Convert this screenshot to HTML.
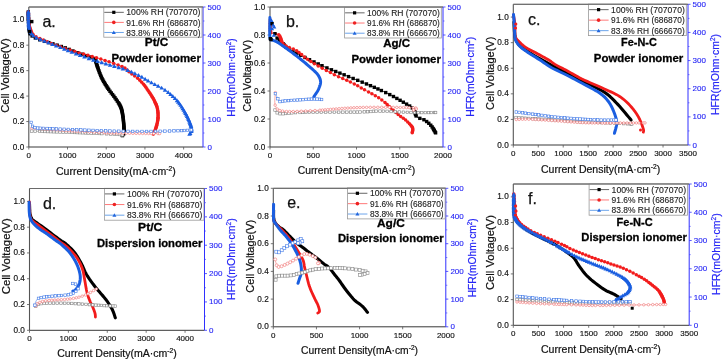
<!DOCTYPE html>
<html><head><meta charset="utf-8"><style>html,body{margin:0;padding:0;background:#fff;width:725px;height:360px;overflow:hidden}svg{display:block;will-change:transform;filter:blur(0.3px)}</style></head>
<body><svg width="725" height="360" viewBox="0 0 725 360"><line x1="28.8" y1="7" x2="203" y2="7" stroke="#777" stroke-width="1"/>
<line x1="28.8" y1="7" x2="28.8" y2="147" stroke="#555" stroke-width="1.1"/>
<line x1="28.8" y1="147" x2="203" y2="147" stroke="#383838" stroke-width="1"/>
<line x1="203" y1="7" x2="203" y2="147" stroke="#3030ff" stroke-width="1"/>
<line x1="26.3" y1="147.00" x2="28.8" y2="147.00" stroke="#555" stroke-width="0.8"/>
<text x="24.200000000000003" y="149.50" font-size="8.2" text-anchor="end" fill="#111" stroke="#111" stroke-width="0.15" font-family="Liberation Sans, sans-serif">0.0</text>
<line x1="26.3" y1="121.55" x2="28.8" y2="121.55" stroke="#555" stroke-width="0.8"/>
<text x="24.200000000000003" y="124.05" font-size="8.2" text-anchor="end" fill="#111" stroke="#111" stroke-width="0.15" font-family="Liberation Sans, sans-serif">0.2</text>
<line x1="26.3" y1="96.09" x2="28.8" y2="96.09" stroke="#555" stroke-width="0.8"/>
<text x="24.200000000000003" y="98.59" font-size="8.2" text-anchor="end" fill="#111" stroke="#111" stroke-width="0.15" font-family="Liberation Sans, sans-serif">0.4</text>
<line x1="26.3" y1="70.64" x2="28.8" y2="70.64" stroke="#555" stroke-width="0.8"/>
<text x="24.200000000000003" y="73.14" font-size="8.2" text-anchor="end" fill="#111" stroke="#111" stroke-width="0.15" font-family="Liberation Sans, sans-serif">0.6</text>
<line x1="26.3" y1="45.18" x2="28.8" y2="45.18" stroke="#555" stroke-width="0.8"/>
<text x="24.200000000000003" y="47.68" font-size="8.2" text-anchor="end" fill="#111" stroke="#111" stroke-width="0.15" font-family="Liberation Sans, sans-serif">0.8</text>
<line x1="26.3" y1="19.73" x2="28.8" y2="19.73" stroke="#555" stroke-width="0.8"/>
<text x="24.200000000000003" y="22.23" font-size="8.2" text-anchor="end" fill="#111" stroke="#111" stroke-width="0.15" font-family="Liberation Sans, sans-serif">1.0</text>
<line x1="28.80" y1="147" x2="28.80" y2="149.5" stroke="#555" stroke-width="0.8"/>
<text x="28.80" y="157.80" font-size="8" text-anchor="middle" fill="#111" stroke="#111" stroke-width="0.15" font-family="Liberation Sans, sans-serif">0</text>
<line x1="67.51" y1="147" x2="67.51" y2="149.5" stroke="#555" stroke-width="0.8"/>
<text x="67.51" y="157.80" font-size="8" text-anchor="middle" fill="#111" stroke="#111" stroke-width="0.15" font-family="Liberation Sans, sans-serif">1000</text>
<line x1="106.22" y1="147" x2="106.22" y2="149.5" stroke="#555" stroke-width="0.8"/>
<text x="106.22" y="157.80" font-size="8" text-anchor="middle" fill="#111" stroke="#111" stroke-width="0.15" font-family="Liberation Sans, sans-serif">2000</text>
<line x1="144.93" y1="147" x2="144.93" y2="149.5" stroke="#555" stroke-width="0.8"/>
<text x="144.93" y="157.80" font-size="8" text-anchor="middle" fill="#111" stroke="#111" stroke-width="0.15" font-family="Liberation Sans, sans-serif">3000</text>
<line x1="183.64" y1="147" x2="183.64" y2="149.5" stroke="#555" stroke-width="0.8"/>
<text x="183.64" y="157.80" font-size="8" text-anchor="middle" fill="#111" stroke="#111" stroke-width="0.15" font-family="Liberation Sans, sans-serif">4000</text>
<line x1="203" y1="147.00" x2="205.5" y2="147.00" stroke="#3030ff" stroke-width="0.8"/>
<text x="207.6" y="149.50" font-size="8" fill="#2525f5" stroke="#2525f5" stroke-width="0.12" font-family="Liberation Sans, sans-serif">0</text>
<line x1="203" y1="133.00" x2="204.5" y2="133.00" stroke="#3030ff" stroke-width="0.6"/>
<line x1="203" y1="119.00" x2="205.5" y2="119.00" stroke="#3030ff" stroke-width="0.8"/>
<text x="207.6" y="121.50" font-size="8" fill="#2525f5" stroke="#2525f5" stroke-width="0.12" font-family="Liberation Sans, sans-serif">100</text>
<line x1="203" y1="105.00" x2="204.5" y2="105.00" stroke="#3030ff" stroke-width="0.6"/>
<line x1="203" y1="91.00" x2="205.5" y2="91.00" stroke="#3030ff" stroke-width="0.8"/>
<text x="207.6" y="93.50" font-size="8" fill="#2525f5" stroke="#2525f5" stroke-width="0.12" font-family="Liberation Sans, sans-serif">200</text>
<line x1="203" y1="77.00" x2="204.5" y2="77.00" stroke="#3030ff" stroke-width="0.6"/>
<line x1="203" y1="63.00" x2="205.5" y2="63.00" stroke="#3030ff" stroke-width="0.8"/>
<text x="207.6" y="65.50" font-size="8" fill="#2525f5" stroke="#2525f5" stroke-width="0.12" font-family="Liberation Sans, sans-serif">300</text>
<line x1="203" y1="49.00" x2="204.5" y2="49.00" stroke="#3030ff" stroke-width="0.6"/>
<line x1="203" y1="35.00" x2="205.5" y2="35.00" stroke="#3030ff" stroke-width="0.8"/>
<text x="207.6" y="37.50" font-size="8" fill="#2525f5" stroke="#2525f5" stroke-width="0.12" font-family="Liberation Sans, sans-serif">400</text>
<line x1="203" y1="21.00" x2="204.5" y2="21.00" stroke="#3030ff" stroke-width="0.6"/>
<line x1="203" y1="7.00" x2="205.5" y2="7.00" stroke="#3030ff" stroke-width="0.8"/>
<text x="207.6" y="9.50" font-size="8" fill="#2525f5" stroke="#2525f5" stroke-width="0.12" font-family="Liberation Sans, sans-serif">500</text>
<text transform="translate(9.4,75.5) rotate(-90)" text-anchor="middle" font-size="10.2" fill="#111" stroke="#111" stroke-width="0.2" font-family="Liberation Sans, sans-serif" textLength="74.4" lengthAdjust="spacingAndGlyphs">Cell Voltage(V)</text>
<text x="56" y="174.7" font-size="10.2" fill="#111" stroke="#111" stroke-width="0.2" font-family="Liberation Sans, sans-serif" textLength="119.69999999999999" lengthAdjust="spacingAndGlyphs">Current Density(mA·cm<tspan dy="-4" font-size="6.5">-2</tspan><tspan dy="4">)</tspan></text>
<text transform="translate(234.5,77.5) rotate(-90)" text-anchor="middle" font-size="10.5" fill="#2525f5" stroke="#2525f5" stroke-width="0.2" font-family="Liberation Sans, sans-serif" textLength="78.4" lengthAdjust="spacingAndGlyphs">HFR(mOhm·cm<tspan dy="-4" font-size="6.5">2</tspan><tspan dy="4">)</tspan></text>
<rect x="103.8" y="7" width="98.20" height="30.20" fill="white" stroke="#999" stroke-width="0.8"/>
<line x1="104.3" y1="12.33" x2="123.8" y2="12.33" stroke="#555" stroke-width="0.9"/>
<rect x="112.2" y="10.73" width="3.2" height="3.2" fill="#000"/>
<text x="126.3" y="15.43" font-size="8.8" fill="#222" stroke="#222" stroke-width="0.12" font-family="Liberation Sans, sans-serif" textLength="74.2" lengthAdjust="spacingAndGlyphs">100% RH (707070)</text>
<line x1="104.3" y1="22.40" x2="123.8" y2="22.40" stroke="#ff6a6a" stroke-width="0.9"/>
<circle cx="113.8" cy="22.40" r="1.8" fill="#ee2222"/>
<text x="126.3" y="25.50" font-size="8.8" fill="#222" stroke="#222" stroke-width="0.12" font-family="Liberation Sans, sans-serif" textLength="74.2" lengthAdjust="spacingAndGlyphs">91.6% RH (686870)</text>
<line x1="104.3" y1="32.47" x2="123.8" y2="32.47" stroke="#5a9ae8" stroke-width="0.9"/>
<path d="M111.8,33.97 L115.8,33.97 L113.8,30.47Z" fill="#2266dd"/>
<text x="126.3" y="35.57" font-size="8.8" fill="#222" stroke="#222" stroke-width="0.12" font-family="Liberation Sans, sans-serif" textLength="74.2" lengthAdjust="spacingAndGlyphs">83.8% RH (666670)</text>
<line x1="28.8" y1="7" x2="203" y2="7" stroke="#6a6a6a" stroke-width="1"/>
<text x="144.8" y="46.4" font-size="11.2" font-weight="bold" fill="#000" stroke="#000" stroke-width="0.3" font-family="Liberation Sans, sans-serif" textLength="23.50" lengthAdjust="spacingAndGlyphs">Pt/C</text>
<text x="111.4" y="61.9" font-size="11.2" font-weight="bold" fill="#000" stroke="#000" stroke-width="0.3" font-family="Liberation Sans, sans-serif" textLength="89.50" lengthAdjust="spacingAndGlyphs">Powder ionomer</text>
<text x="42.400000000000006" y="26.5" font-size="16" fill="#111" stroke="#111" stroke-width="0.25" font-family="Liberation Sans, sans-serif">a.</text>
<line x1="270" y1="7" x2="443" y2="7" stroke="#777" stroke-width="1"/>
<line x1="270" y1="7" x2="270" y2="147" stroke="#555" stroke-width="1.1"/>
<line x1="270" y1="147" x2="443" y2="147" stroke="#383838" stroke-width="1"/>
<line x1="443" y1="7" x2="443" y2="147" stroke="#3030ff" stroke-width="1"/>
<line x1="267.5" y1="147.00" x2="270" y2="147.00" stroke="#555" stroke-width="0.8"/>
<text x="265.4" y="149.50" font-size="8.2" text-anchor="end" fill="#111" stroke="#111" stroke-width="0.15" font-family="Liberation Sans, sans-serif">0.0</text>
<line x1="267.5" y1="119.00" x2="270" y2="119.00" stroke="#555" stroke-width="0.8"/>
<text x="265.4" y="121.50" font-size="8.2" text-anchor="end" fill="#111" stroke="#111" stroke-width="0.15" font-family="Liberation Sans, sans-serif">0.2</text>
<line x1="267.5" y1="91.00" x2="270" y2="91.00" stroke="#555" stroke-width="0.8"/>
<text x="265.4" y="93.50" font-size="8.2" text-anchor="end" fill="#111" stroke="#111" stroke-width="0.15" font-family="Liberation Sans, sans-serif">0.4</text>
<line x1="267.5" y1="63.00" x2="270" y2="63.00" stroke="#555" stroke-width="0.8"/>
<text x="265.4" y="65.50" font-size="8.2" text-anchor="end" fill="#111" stroke="#111" stroke-width="0.15" font-family="Liberation Sans, sans-serif">0.6</text>
<line x1="267.5" y1="35.00" x2="270" y2="35.00" stroke="#555" stroke-width="0.8"/>
<text x="265.4" y="37.50" font-size="8.2" text-anchor="end" fill="#111" stroke="#111" stroke-width="0.15" font-family="Liberation Sans, sans-serif">0.8</text>
<line x1="267.5" y1="7.00" x2="270" y2="7.00" stroke="#555" stroke-width="0.8"/>
<text x="265.4" y="9.50" font-size="8.2" text-anchor="end" fill="#111" stroke="#111" stroke-width="0.15" font-family="Liberation Sans, sans-serif">1.0</text>
<line x1="270.00" y1="147" x2="270.00" y2="149.5" stroke="#555" stroke-width="0.8"/>
<text x="270.00" y="157.80" font-size="8" text-anchor="middle" fill="#111" stroke="#111" stroke-width="0.15" font-family="Liberation Sans, sans-serif">0</text>
<line x1="313.25" y1="147" x2="313.25" y2="149.5" stroke="#555" stroke-width="0.8"/>
<text x="313.25" y="157.80" font-size="8" text-anchor="middle" fill="#111" stroke="#111" stroke-width="0.15" font-family="Liberation Sans, sans-serif">500</text>
<line x1="356.50" y1="147" x2="356.50" y2="149.5" stroke="#555" stroke-width="0.8"/>
<text x="356.50" y="157.80" font-size="8" text-anchor="middle" fill="#111" stroke="#111" stroke-width="0.15" font-family="Liberation Sans, sans-serif">1000</text>
<line x1="399.75" y1="147" x2="399.75" y2="149.5" stroke="#555" stroke-width="0.8"/>
<text x="399.75" y="157.80" font-size="8" text-anchor="middle" fill="#111" stroke="#111" stroke-width="0.15" font-family="Liberation Sans, sans-serif">1500</text>
<text x="443.00" y="157.80" font-size="8" text-anchor="middle" fill="#111" stroke="#111" stroke-width="0.15" font-family="Liberation Sans, sans-serif">2000</text>
<line x1="443" y1="147.00" x2="445.5" y2="147.00" stroke="#3030ff" stroke-width="0.8"/>
<text x="447.6" y="149.50" font-size="8" fill="#2525f5" stroke="#2525f5" stroke-width="0.12" font-family="Liberation Sans, sans-serif">0</text>
<line x1="443" y1="133.00" x2="444.5" y2="133.00" stroke="#3030ff" stroke-width="0.6"/>
<line x1="443" y1="119.00" x2="445.5" y2="119.00" stroke="#3030ff" stroke-width="0.8"/>
<text x="447.6" y="121.50" font-size="8" fill="#2525f5" stroke="#2525f5" stroke-width="0.12" font-family="Liberation Sans, sans-serif">100</text>
<line x1="443" y1="105.00" x2="444.5" y2="105.00" stroke="#3030ff" stroke-width="0.6"/>
<line x1="443" y1="91.00" x2="445.5" y2="91.00" stroke="#3030ff" stroke-width="0.8"/>
<text x="447.6" y="93.50" font-size="8" fill="#2525f5" stroke="#2525f5" stroke-width="0.12" font-family="Liberation Sans, sans-serif">200</text>
<line x1="443" y1="77.00" x2="444.5" y2="77.00" stroke="#3030ff" stroke-width="0.6"/>
<line x1="443" y1="63.00" x2="445.5" y2="63.00" stroke="#3030ff" stroke-width="0.8"/>
<text x="447.6" y="65.50" font-size="8" fill="#2525f5" stroke="#2525f5" stroke-width="0.12" font-family="Liberation Sans, sans-serif">300</text>
<line x1="443" y1="49.00" x2="444.5" y2="49.00" stroke="#3030ff" stroke-width="0.6"/>
<line x1="443" y1="35.00" x2="445.5" y2="35.00" stroke="#3030ff" stroke-width="0.8"/>
<text x="447.6" y="37.50" font-size="8" fill="#2525f5" stroke="#2525f5" stroke-width="0.12" font-family="Liberation Sans, sans-serif">400</text>
<line x1="443" y1="21.00" x2="444.5" y2="21.00" stroke="#3030ff" stroke-width="0.6"/>
<line x1="443" y1="7.00" x2="445.5" y2="7.00" stroke="#3030ff" stroke-width="0.8"/>
<text x="447.6" y="9.50" font-size="8" fill="#2525f5" stroke="#2525f5" stroke-width="0.12" font-family="Liberation Sans, sans-serif">500</text>
<text transform="translate(251.1,75.8) rotate(-90)" text-anchor="middle" font-size="10.2" fill="#111" stroke="#111" stroke-width="0.2" font-family="Liberation Sans, sans-serif" textLength="71.7" lengthAdjust="spacingAndGlyphs">Cell Voltage(V)</text>
<text x="297.7" y="173.7" font-size="10.2" fill="#111" stroke="#111" stroke-width="0.2" font-family="Liberation Sans, sans-serif" textLength="117.40000000000003" lengthAdjust="spacingAndGlyphs">Current Density(mA·cm<tspan dy="-4" font-size="6.5">-2</tspan><tspan dy="4">)</tspan></text>
<text transform="translate(473.5,76.7) rotate(-90)" text-anchor="middle" font-size="10.5" fill="#2525f5" stroke="#2525f5" stroke-width="0.2" font-family="Liberation Sans, sans-serif" textLength="80.0" lengthAdjust="spacingAndGlyphs">HFR(mOhm·cm<tspan dy="-4" font-size="6.5">2</tspan><tspan dy="4">)</tspan></text>
<rect x="344.6" y="7.45" width="96.70" height="30.55" fill="white" stroke="#999" stroke-width="0.8"/>
<line x1="345.1" y1="12.84" x2="364.6" y2="12.84" stroke="#555" stroke-width="0.9"/>
<rect x="353.0" y="11.24" width="3.2" height="3.2" fill="#000"/>
<text x="367.1" y="15.94" font-size="8.8" fill="#222" stroke="#222" stroke-width="0.12" font-family="Liberation Sans, sans-serif" textLength="72.69999999999999" lengthAdjust="spacingAndGlyphs">100% RH (707070)</text>
<line x1="345.1" y1="23.03" x2="364.6" y2="23.03" stroke="#ff6a6a" stroke-width="0.9"/>
<circle cx="354.6" cy="23.03" r="1.8" fill="#ee2222"/>
<text x="367.1" y="26.13" font-size="8.8" fill="#222" stroke="#222" stroke-width="0.12" font-family="Liberation Sans, sans-serif" textLength="72.69999999999999" lengthAdjust="spacingAndGlyphs">91.6% RH (686870)</text>
<line x1="345.1" y1="33.21" x2="364.6" y2="33.21" stroke="#5a9ae8" stroke-width="0.9"/>
<path d="M352.6,34.71 L356.6,34.71 L354.6,31.21Z" fill="#2266dd"/>
<text x="367.1" y="36.31" font-size="8.8" fill="#222" stroke="#222" stroke-width="0.12" font-family="Liberation Sans, sans-serif" textLength="72.69999999999999" lengthAdjust="spacingAndGlyphs">83.8% RH (666670)</text>
<line x1="270" y1="7" x2="443" y2="7" stroke="#6a6a6a" stroke-width="1"/>
<text x="383.2" y="46.7" font-size="11.2" font-weight="bold" fill="#000" stroke="#000" stroke-width="0.3" font-family="Liberation Sans, sans-serif" textLength="26.90" lengthAdjust="spacingAndGlyphs">Ag/C</text>
<text x="351.4" y="62.6" font-size="11.2" font-weight="bold" fill="#000" stroke="#000" stroke-width="0.3" font-family="Liberation Sans, sans-serif" textLength="89.50" lengthAdjust="spacingAndGlyphs">Powder ionomer</text>
<text x="285.95" y="27" font-size="16" fill="#111" stroke="#111" stroke-width="0.25" font-family="Liberation Sans, sans-serif">b.</text>
<line x1="513.3" y1="4.3" x2="688" y2="4.3" stroke="#777" stroke-width="1"/>
<line x1="513.3" y1="4.3" x2="513.3" y2="145" stroke="#555" stroke-width="1.1"/>
<line x1="513.3" y1="145" x2="688" y2="145" stroke="#383838" stroke-width="1"/>
<line x1="688" y1="4.3" x2="688" y2="145" stroke="#3030ff" stroke-width="1"/>
<line x1="510.79999999999995" y1="145.00" x2="513.3" y2="145.00" stroke="#555" stroke-width="0.8"/>
<text x="508.69999999999993" y="147.50" font-size="8.2" text-anchor="end" fill="#111" stroke="#111" stroke-width="0.15" font-family="Liberation Sans, sans-serif">0.0</text>
<line x1="510.79999999999995" y1="119.42" x2="513.3" y2="119.42" stroke="#555" stroke-width="0.8"/>
<text x="508.69999999999993" y="121.92" font-size="8.2" text-anchor="end" fill="#111" stroke="#111" stroke-width="0.15" font-family="Liberation Sans, sans-serif">0.2</text>
<line x1="510.79999999999995" y1="93.84" x2="513.3" y2="93.84" stroke="#555" stroke-width="0.8"/>
<text x="508.69999999999993" y="96.34" font-size="8.2" text-anchor="end" fill="#111" stroke="#111" stroke-width="0.15" font-family="Liberation Sans, sans-serif">0.4</text>
<line x1="510.79999999999995" y1="68.25" x2="513.3" y2="68.25" stroke="#555" stroke-width="0.8"/>
<text x="508.69999999999993" y="70.75" font-size="8.2" text-anchor="end" fill="#111" stroke="#111" stroke-width="0.15" font-family="Liberation Sans, sans-serif">0.6</text>
<line x1="510.79999999999995" y1="42.67" x2="513.3" y2="42.67" stroke="#555" stroke-width="0.8"/>
<text x="508.69999999999993" y="45.17" font-size="8.2" text-anchor="end" fill="#111" stroke="#111" stroke-width="0.15" font-family="Liberation Sans, sans-serif">0.8</text>
<line x1="510.79999999999995" y1="17.09" x2="513.3" y2="17.09" stroke="#555" stroke-width="0.8"/>
<text x="508.69999999999993" y="19.59" font-size="8.2" text-anchor="end" fill="#111" stroke="#111" stroke-width="0.15" font-family="Liberation Sans, sans-serif">1.0</text>
<line x1="513.30" y1="145" x2="513.30" y2="147.5" stroke="#555" stroke-width="0.8"/>
<text x="513.30" y="155.80" font-size="8" text-anchor="middle" fill="#111" stroke="#111" stroke-width="0.15" font-family="Liberation Sans, sans-serif">0</text>
<line x1="538.26" y1="145" x2="538.26" y2="147.5" stroke="#555" stroke-width="0.8"/>
<text x="538.26" y="155.80" font-size="8" text-anchor="middle" fill="#111" stroke="#111" stroke-width="0.15" font-family="Liberation Sans, sans-serif">500</text>
<line x1="563.21" y1="145" x2="563.21" y2="147.5" stroke="#555" stroke-width="0.8"/>
<text x="563.21" y="155.80" font-size="8" text-anchor="middle" fill="#111" stroke="#111" stroke-width="0.15" font-family="Liberation Sans, sans-serif">1000</text>
<line x1="588.17" y1="145" x2="588.17" y2="147.5" stroke="#555" stroke-width="0.8"/>
<text x="588.17" y="155.80" font-size="8" text-anchor="middle" fill="#111" stroke="#111" stroke-width="0.15" font-family="Liberation Sans, sans-serif">1500</text>
<line x1="613.13" y1="145" x2="613.13" y2="147.5" stroke="#555" stroke-width="0.8"/>
<text x="613.13" y="155.80" font-size="8" text-anchor="middle" fill="#111" stroke="#111" stroke-width="0.15" font-family="Liberation Sans, sans-serif">2000</text>
<line x1="638.09" y1="145" x2="638.09" y2="147.5" stroke="#555" stroke-width="0.8"/>
<text x="638.09" y="155.80" font-size="8" text-anchor="middle" fill="#111" stroke="#111" stroke-width="0.15" font-family="Liberation Sans, sans-serif">2500</text>
<line x1="663.04" y1="145" x2="663.04" y2="147.5" stroke="#555" stroke-width="0.8"/>
<text x="663.04" y="155.80" font-size="8" text-anchor="middle" fill="#111" stroke="#111" stroke-width="0.15" font-family="Liberation Sans, sans-serif">3000</text>
<text x="688.00" y="155.80" font-size="8" text-anchor="middle" fill="#111" stroke="#111" stroke-width="0.15" font-family="Liberation Sans, sans-serif">3500</text>
<line x1="688" y1="145.00" x2="690.5" y2="145.00" stroke="#3030ff" stroke-width="0.8"/>
<text x="692.6" y="147.50" font-size="8" fill="#2525f5" stroke="#2525f5" stroke-width="0.12" font-family="Liberation Sans, sans-serif">0</text>
<line x1="688" y1="130.93" x2="689.5" y2="130.93" stroke="#3030ff" stroke-width="0.6"/>
<line x1="688" y1="116.86" x2="690.5" y2="116.86" stroke="#3030ff" stroke-width="0.8"/>
<text x="692.6" y="119.36" font-size="8" fill="#2525f5" stroke="#2525f5" stroke-width="0.12" font-family="Liberation Sans, sans-serif">100</text>
<line x1="688" y1="102.79" x2="689.5" y2="102.79" stroke="#3030ff" stroke-width="0.6"/>
<line x1="688" y1="88.72" x2="690.5" y2="88.72" stroke="#3030ff" stroke-width="0.8"/>
<text x="692.6" y="91.22" font-size="8" fill="#2525f5" stroke="#2525f5" stroke-width="0.12" font-family="Liberation Sans, sans-serif">200</text>
<line x1="688" y1="74.65" x2="689.5" y2="74.65" stroke="#3030ff" stroke-width="0.6"/>
<line x1="688" y1="60.58" x2="690.5" y2="60.58" stroke="#3030ff" stroke-width="0.8"/>
<text x="692.6" y="63.08" font-size="8" fill="#2525f5" stroke="#2525f5" stroke-width="0.12" font-family="Liberation Sans, sans-serif">300</text>
<line x1="688" y1="46.51" x2="689.5" y2="46.51" stroke="#3030ff" stroke-width="0.6"/>
<line x1="688" y1="32.44" x2="690.5" y2="32.44" stroke="#3030ff" stroke-width="0.8"/>
<text x="692.6" y="34.94" font-size="8" fill="#2525f5" stroke="#2525f5" stroke-width="0.12" font-family="Liberation Sans, sans-serif">400</text>
<line x1="688" y1="18.37" x2="689.5" y2="18.37" stroke="#3030ff" stroke-width="0.6"/>
<line x1="688" y1="4.30" x2="690.5" y2="4.30" stroke="#3030ff" stroke-width="0.8"/>
<text x="692.6" y="6.80" font-size="8" fill="#2525f5" stroke="#2525f5" stroke-width="0.12" font-family="Liberation Sans, sans-serif">500</text>
<text transform="translate(494.40000000000003,73.3) rotate(-90)" text-anchor="middle" font-size="10.2" fill="#111" stroke="#111" stroke-width="0.2" font-family="Liberation Sans, sans-serif" textLength="73.3" lengthAdjust="spacingAndGlyphs">Cell Voltage(V)</text>
<text x="541" y="172.6" font-size="10.2" fill="#111" stroke="#111" stroke-width="0.2" font-family="Liberation Sans, sans-serif" textLength="119.20000000000005" lengthAdjust="spacingAndGlyphs">Current Density(mA·cm<tspan dy="-4" font-size="6.5">-2</tspan><tspan dy="4">)</tspan></text>
<text transform="translate(718.5,74.5) rotate(-90)" text-anchor="middle" font-size="10.5" fill="#2525f5" stroke="#2525f5" stroke-width="0.2" font-family="Liberation Sans, sans-serif" textLength="81" lengthAdjust="spacingAndGlyphs">HFR(mOhm·cm<tspan dy="-4" font-size="6.5">2</tspan><tspan dy="4">)</tspan></text>
<rect x="588.6" y="4.1" width="97.70" height="31.50" fill="white" stroke="#999" stroke-width="0.8"/>
<line x1="589.1" y1="9.65" x2="608.6" y2="9.65" stroke="#555" stroke-width="0.9"/>
<rect x="597.0" y="8.05" width="3.2" height="3.2" fill="#000"/>
<text x="611.1" y="12.75" font-size="8.8" fill="#222" stroke="#222" stroke-width="0.12" font-family="Liberation Sans, sans-serif" textLength="73.69999999999993" lengthAdjust="spacingAndGlyphs">100% RH (707070)</text>
<line x1="589.1" y1="20.15" x2="608.6" y2="20.15" stroke="#ff6a6a" stroke-width="0.9"/>
<circle cx="598.6" cy="20.15" r="1.8" fill="#ee2222"/>
<text x="611.1" y="23.25" font-size="8.8" fill="#222" stroke="#222" stroke-width="0.12" font-family="Liberation Sans, sans-serif" textLength="73.69999999999993" lengthAdjust="spacingAndGlyphs">91.6% RH (686870)</text>
<line x1="589.1" y1="30.65" x2="608.6" y2="30.65" stroke="#5a9ae8" stroke-width="0.9"/>
<path d="M596.6,32.15 L600.6,32.15 L598.6,28.65Z" fill="#2266dd"/>
<text x="611.1" y="33.75" font-size="8.8" fill="#222" stroke="#222" stroke-width="0.12" font-family="Liberation Sans, sans-serif" textLength="73.69999999999993" lengthAdjust="spacingAndGlyphs">83.8% RH (666670)</text>
<line x1="513.3" y1="4.3" x2="688" y2="4.3" stroke="#6a6a6a" stroke-width="1"/>
<text x="621.1" y="45.9" font-size="11.2" font-weight="bold" fill="#000" stroke="#000" stroke-width="0.3" font-family="Liberation Sans, sans-serif" textLength="35.70" lengthAdjust="spacingAndGlyphs">Fe-N-C</text>
<text x="593.8" y="61.9" font-size="11.2" font-weight="bold" fill="#000" stroke="#000" stroke-width="0.3" font-family="Liberation Sans, sans-serif" textLength="89.50" lengthAdjust="spacingAndGlyphs">Powder ionomer</text>
<text x="527.95" y="25" font-size="16" fill="#111" stroke="#111" stroke-width="0.25" font-family="Liberation Sans, sans-serif">c.</text>
<line x1="29.5" y1="188.5" x2="204.5" y2="188.5" stroke="#777" stroke-width="1"/>
<line x1="29.5" y1="188.5" x2="29.5" y2="330.3" stroke="#555" stroke-width="1.1"/>
<line x1="29.5" y1="330.3" x2="204.5" y2="330.3" stroke="#383838" stroke-width="1"/>
<line x1="204.5" y1="188.5" x2="204.5" y2="330.3" stroke="#3030ff" stroke-width="1"/>
<line x1="27.0" y1="330.30" x2="29.5" y2="330.30" stroke="#555" stroke-width="0.8"/>
<text x="24.9" y="332.80" font-size="8.2" text-anchor="end" fill="#111" stroke="#111" stroke-width="0.15" font-family="Liberation Sans, sans-serif">0.0</text>
<line x1="27.0" y1="304.52" x2="29.5" y2="304.52" stroke="#555" stroke-width="0.8"/>
<text x="24.9" y="307.02" font-size="8.2" text-anchor="end" fill="#111" stroke="#111" stroke-width="0.15" font-family="Liberation Sans, sans-serif">0.2</text>
<line x1="27.0" y1="278.74" x2="29.5" y2="278.74" stroke="#555" stroke-width="0.8"/>
<text x="24.9" y="281.24" font-size="8.2" text-anchor="end" fill="#111" stroke="#111" stroke-width="0.15" font-family="Liberation Sans, sans-serif">0.4</text>
<line x1="27.0" y1="252.95" x2="29.5" y2="252.95" stroke="#555" stroke-width="0.8"/>
<text x="24.9" y="255.45" font-size="8.2" text-anchor="end" fill="#111" stroke="#111" stroke-width="0.15" font-family="Liberation Sans, sans-serif">0.6</text>
<line x1="27.0" y1="227.17" x2="29.5" y2="227.17" stroke="#555" stroke-width="0.8"/>
<text x="24.9" y="229.67" font-size="8.2" text-anchor="end" fill="#111" stroke="#111" stroke-width="0.15" font-family="Liberation Sans, sans-serif">0.8</text>
<line x1="27.0" y1="201.39" x2="29.5" y2="201.39" stroke="#555" stroke-width="0.8"/>
<text x="24.9" y="203.89" font-size="8.2" text-anchor="end" fill="#111" stroke="#111" stroke-width="0.15" font-family="Liberation Sans, sans-serif">1.0</text>
<line x1="29.50" y1="330.3" x2="29.50" y2="332.8" stroke="#555" stroke-width="0.8"/>
<text x="29.50" y="341.10" font-size="8" text-anchor="middle" fill="#111" stroke="#111" stroke-width="0.15" font-family="Liberation Sans, sans-serif">0</text>
<line x1="68.39" y1="330.3" x2="68.39" y2="332.8" stroke="#555" stroke-width="0.8"/>
<text x="68.39" y="341.10" font-size="8" text-anchor="middle" fill="#111" stroke="#111" stroke-width="0.15" font-family="Liberation Sans, sans-serif">1000</text>
<line x1="107.28" y1="330.3" x2="107.28" y2="332.8" stroke="#555" stroke-width="0.8"/>
<text x="107.28" y="341.10" font-size="8" text-anchor="middle" fill="#111" stroke="#111" stroke-width="0.15" font-family="Liberation Sans, sans-serif">2000</text>
<line x1="146.17" y1="330.3" x2="146.17" y2="332.8" stroke="#555" stroke-width="0.8"/>
<text x="146.17" y="341.10" font-size="8" text-anchor="middle" fill="#111" stroke="#111" stroke-width="0.15" font-family="Liberation Sans, sans-serif">3000</text>
<line x1="185.06" y1="330.3" x2="185.06" y2="332.8" stroke="#555" stroke-width="0.8"/>
<text x="185.06" y="341.10" font-size="8" text-anchor="middle" fill="#111" stroke="#111" stroke-width="0.15" font-family="Liberation Sans, sans-serif">4000</text>
<line x1="204.5" y1="330.30" x2="207.0" y2="330.30" stroke="#3030ff" stroke-width="0.8"/>
<text x="209.1" y="332.80" font-size="8" fill="#2525f5" stroke="#2525f5" stroke-width="0.12" font-family="Liberation Sans, sans-serif">0</text>
<line x1="204.5" y1="316.12" x2="206.0" y2="316.12" stroke="#3030ff" stroke-width="0.6"/>
<line x1="204.5" y1="301.94" x2="207.0" y2="301.94" stroke="#3030ff" stroke-width="0.8"/>
<text x="209.1" y="304.44" font-size="8" fill="#2525f5" stroke="#2525f5" stroke-width="0.12" font-family="Liberation Sans, sans-serif">100</text>
<line x1="204.5" y1="287.76" x2="206.0" y2="287.76" stroke="#3030ff" stroke-width="0.6"/>
<line x1="204.5" y1="273.58" x2="207.0" y2="273.58" stroke="#3030ff" stroke-width="0.8"/>
<text x="209.1" y="276.08" font-size="8" fill="#2525f5" stroke="#2525f5" stroke-width="0.12" font-family="Liberation Sans, sans-serif">200</text>
<line x1="204.5" y1="259.40" x2="206.0" y2="259.40" stroke="#3030ff" stroke-width="0.6"/>
<line x1="204.5" y1="245.22" x2="207.0" y2="245.22" stroke="#3030ff" stroke-width="0.8"/>
<text x="209.1" y="247.72" font-size="8" fill="#2525f5" stroke="#2525f5" stroke-width="0.12" font-family="Liberation Sans, sans-serif">300</text>
<line x1="204.5" y1="231.04" x2="206.0" y2="231.04" stroke="#3030ff" stroke-width="0.6"/>
<line x1="204.5" y1="216.86" x2="207.0" y2="216.86" stroke="#3030ff" stroke-width="0.8"/>
<text x="209.1" y="219.36" font-size="8" fill="#2525f5" stroke="#2525f5" stroke-width="0.12" font-family="Liberation Sans, sans-serif">400</text>
<line x1="204.5" y1="202.68" x2="206.0" y2="202.68" stroke="#3030ff" stroke-width="0.6"/>
<line x1="204.5" y1="188.50" x2="207.0" y2="188.50" stroke="#3030ff" stroke-width="0.8"/>
<text x="209.1" y="191.00" font-size="8" fill="#2525f5" stroke="#2525f5" stroke-width="0.12" font-family="Liberation Sans, sans-serif">500</text>
<text transform="translate(9.9,256.3) rotate(-90)" text-anchor="middle" font-size="10.2" fill="#111" stroke="#111" stroke-width="0.2" font-family="Liberation Sans, sans-serif" textLength="76" lengthAdjust="spacingAndGlyphs">Cell Voltage(V)</text>
<text x="57.2" y="357" font-size="10.2" fill="#111" stroke="#111" stroke-width="0.2" font-family="Liberation Sans, sans-serif" textLength="119.7" lengthAdjust="spacingAndGlyphs">Current Density(mA·cm<tspan dy="-4" font-size="6.5">-2</tspan><tspan dy="4">)</tspan></text>
<text transform="translate(234.5,259.15) rotate(-90)" text-anchor="middle" font-size="10.5" fill="#2525f5" stroke="#2525f5" stroke-width="0.2" font-family="Liberation Sans, sans-serif" textLength="81.69999999999999" lengthAdjust="spacingAndGlyphs">HFR(mOhm·cm<tspan dy="-4" font-size="6.5">2</tspan><tspan dy="4">)</tspan></text>
<rect x="104.4" y="188.3" width="99.50" height="31.90" fill="white" stroke="#999" stroke-width="0.8"/>
<line x1="104.9" y1="193.92" x2="124.4" y2="193.92" stroke="#555" stroke-width="0.9"/>
<rect x="112.80000000000001" y="192.32" width="3.2" height="3.2" fill="#000"/>
<text x="126.9" y="197.02" font-size="8.8" fill="#222" stroke="#222" stroke-width="0.12" font-family="Liberation Sans, sans-serif" textLength="75.5" lengthAdjust="spacingAndGlyphs">100% RH (707070)</text>
<line x1="104.9" y1="204.55" x2="124.4" y2="204.55" stroke="#ff6a6a" stroke-width="0.9"/>
<circle cx="114.4" cy="204.55" r="1.8" fill="#ee2222"/>
<text x="126.9" y="207.65" font-size="8.8" fill="#222" stroke="#222" stroke-width="0.12" font-family="Liberation Sans, sans-serif" textLength="75.5" lengthAdjust="spacingAndGlyphs">91.6% RH (686870)</text>
<line x1="104.9" y1="215.18" x2="124.4" y2="215.18" stroke="#5a9ae8" stroke-width="0.9"/>
<path d="M112.4,216.68 L116.4,216.68 L114.4,213.18Z" fill="#2266dd"/>
<text x="126.9" y="218.28" font-size="8.8" fill="#222" stroke="#222" stroke-width="0.12" font-family="Liberation Sans, sans-serif" textLength="75.5" lengthAdjust="spacingAndGlyphs">83.8% RH (666670)</text>
<line x1="29.5" y1="188.5" x2="204.5" y2="188.5" stroke="#6a6a6a" stroke-width="1"/>
<text x="138.1" y="231.4" font-size="11.2" font-weight="bold" fill="#000" stroke="#000" stroke-width="0.3" font-family="Liberation Sans, sans-serif" textLength="24.30" lengthAdjust="spacingAndGlyphs">Pt/C</text>
<text x="96.9" y="246.8" font-size="11.2" font-weight="bold" fill="#000" stroke="#000" stroke-width="0.3" font-family="Liberation Sans, sans-serif" textLength="105.60" lengthAdjust="spacingAndGlyphs">Dispersion ionomer</text>
<text x="42.95" y="208.75" font-size="16" fill="#111" stroke="#111" stroke-width="0.25" font-family="Liberation Sans, sans-serif">d.</text>
<line x1="273.3" y1="188.3" x2="445.8" y2="188.3" stroke="#777" stroke-width="1"/>
<line x1="273.3" y1="188.3" x2="273.3" y2="326.8" stroke="#555" stroke-width="1.1"/>
<line x1="273.3" y1="326.8" x2="445.8" y2="326.8" stroke="#383838" stroke-width="1"/>
<line x1="445.8" y1="188.3" x2="445.8" y2="326.8" stroke="#3030ff" stroke-width="1"/>
<line x1="270.8" y1="326.80" x2="273.3" y2="326.80" stroke="#555" stroke-width="0.8"/>
<text x="268.7" y="329.30" font-size="8.2" text-anchor="end" fill="#111" stroke="#111" stroke-width="0.15" font-family="Liberation Sans, sans-serif">0.0</text>
<line x1="270.8" y1="299.10" x2="273.3" y2="299.10" stroke="#555" stroke-width="0.8"/>
<text x="268.7" y="301.60" font-size="8.2" text-anchor="end" fill="#111" stroke="#111" stroke-width="0.15" font-family="Liberation Sans, sans-serif">0.2</text>
<line x1="270.8" y1="271.40" x2="273.3" y2="271.40" stroke="#555" stroke-width="0.8"/>
<text x="268.7" y="273.90" font-size="8.2" text-anchor="end" fill="#111" stroke="#111" stroke-width="0.15" font-family="Liberation Sans, sans-serif">0.4</text>
<line x1="270.8" y1="243.70" x2="273.3" y2="243.70" stroke="#555" stroke-width="0.8"/>
<text x="268.7" y="246.20" font-size="8.2" text-anchor="end" fill="#111" stroke="#111" stroke-width="0.15" font-family="Liberation Sans, sans-serif">0.6</text>
<line x1="270.8" y1="216.00" x2="273.3" y2="216.00" stroke="#555" stroke-width="0.8"/>
<text x="268.7" y="218.50" font-size="8.2" text-anchor="end" fill="#111" stroke="#111" stroke-width="0.15" font-family="Liberation Sans, sans-serif">0.8</text>
<line x1="270.8" y1="188.30" x2="273.3" y2="188.30" stroke="#555" stroke-width="0.8"/>
<text x="268.7" y="190.80" font-size="8.2" text-anchor="end" fill="#111" stroke="#111" stroke-width="0.15" font-family="Liberation Sans, sans-serif">1.0</text>
<line x1="273.30" y1="326.8" x2="273.30" y2="329.3" stroke="#555" stroke-width="0.8"/>
<text x="273.30" y="337.60" font-size="8" text-anchor="middle" fill="#111" stroke="#111" stroke-width="0.15" font-family="Liberation Sans, sans-serif">0</text>
<line x1="316.43" y1="326.8" x2="316.43" y2="329.3" stroke="#555" stroke-width="0.8"/>
<text x="316.43" y="337.60" font-size="8" text-anchor="middle" fill="#111" stroke="#111" stroke-width="0.15" font-family="Liberation Sans, sans-serif">500</text>
<line x1="359.55" y1="326.8" x2="359.55" y2="329.3" stroke="#555" stroke-width="0.8"/>
<text x="359.55" y="337.60" font-size="8" text-anchor="middle" fill="#111" stroke="#111" stroke-width="0.15" font-family="Liberation Sans, sans-serif">1000</text>
<line x1="402.68" y1="326.8" x2="402.68" y2="329.3" stroke="#555" stroke-width="0.8"/>
<text x="402.68" y="337.60" font-size="8" text-anchor="middle" fill="#111" stroke="#111" stroke-width="0.15" font-family="Liberation Sans, sans-serif">1500</text>
<text x="445.80" y="337.60" font-size="8" text-anchor="middle" fill="#111" stroke="#111" stroke-width="0.15" font-family="Liberation Sans, sans-serif">2000</text>
<line x1="445.8" y1="326.80" x2="448.3" y2="326.80" stroke="#3030ff" stroke-width="0.8"/>
<text x="450.40000000000003" y="329.30" font-size="8" fill="#2525f5" stroke="#2525f5" stroke-width="0.12" font-family="Liberation Sans, sans-serif">0</text>
<line x1="445.8" y1="312.95" x2="447.3" y2="312.95" stroke="#3030ff" stroke-width="0.6"/>
<line x1="445.8" y1="299.10" x2="448.3" y2="299.10" stroke="#3030ff" stroke-width="0.8"/>
<text x="450.40000000000003" y="301.60" font-size="8" fill="#2525f5" stroke="#2525f5" stroke-width="0.12" font-family="Liberation Sans, sans-serif">100</text>
<line x1="445.8" y1="285.25" x2="447.3" y2="285.25" stroke="#3030ff" stroke-width="0.6"/>
<line x1="445.8" y1="271.40" x2="448.3" y2="271.40" stroke="#3030ff" stroke-width="0.8"/>
<text x="450.40000000000003" y="273.90" font-size="8" fill="#2525f5" stroke="#2525f5" stroke-width="0.12" font-family="Liberation Sans, sans-serif">200</text>
<line x1="445.8" y1="257.55" x2="447.3" y2="257.55" stroke="#3030ff" stroke-width="0.6"/>
<line x1="445.8" y1="243.70" x2="448.3" y2="243.70" stroke="#3030ff" stroke-width="0.8"/>
<text x="450.40000000000003" y="246.20" font-size="8" fill="#2525f5" stroke="#2525f5" stroke-width="0.12" font-family="Liberation Sans, sans-serif">300</text>
<line x1="445.8" y1="229.85" x2="447.3" y2="229.85" stroke="#3030ff" stroke-width="0.6"/>
<line x1="445.8" y1="216.00" x2="448.3" y2="216.00" stroke="#3030ff" stroke-width="0.8"/>
<text x="450.40000000000003" y="218.50" font-size="8" fill="#2525f5" stroke="#2525f5" stroke-width="0.12" font-family="Liberation Sans, sans-serif">400</text>
<line x1="445.8" y1="202.15" x2="447.3" y2="202.15" stroke="#3030ff" stroke-width="0.6"/>
<line x1="445.8" y1="188.30" x2="448.3" y2="188.30" stroke="#3030ff" stroke-width="0.8"/>
<text x="450.40000000000003" y="190.80" font-size="8" fill="#2525f5" stroke="#2525f5" stroke-width="0.12" font-family="Liberation Sans, sans-serif">500</text>
<text transform="translate(254.4,256.3) rotate(-90)" text-anchor="middle" font-size="10.2" fill="#111" stroke="#111" stroke-width="0.2" font-family="Liberation Sans, sans-serif" textLength="72.7" lengthAdjust="spacingAndGlyphs">Cell Voltage(V)</text>
<text x="301" y="354.2" font-size="10.2" fill="#111" stroke="#111" stroke-width="0.2" font-family="Liberation Sans, sans-serif" textLength="117" lengthAdjust="spacingAndGlyphs">Current Density(mA·cm<tspan dy="-4" font-size="6.5">-2</tspan><tspan dy="4">)</tspan></text>
<text transform="translate(475.5,257.8) rotate(-90)" text-anchor="middle" font-size="10.5" fill="#2525f5" stroke="#2525f5" stroke-width="0.2" font-family="Liberation Sans, sans-serif" textLength="79.0" lengthAdjust="spacingAndGlyphs">HFR(mOhm·cm<tspan dy="-4" font-size="6.5">2</tspan><tspan dy="4">)</tspan></text>
<rect x="347.4" y="187.8" width="97.70" height="31.10" fill="white" stroke="#999" stroke-width="0.8"/>
<line x1="347.9" y1="193.28" x2="367.4" y2="193.28" stroke="#555" stroke-width="0.9"/>
<rect x="355.79999999999995" y="191.68" width="3.2" height="3.2" fill="#000"/>
<text x="369.9" y="196.38" font-size="8.8" fill="#222" stroke="#222" stroke-width="0.12" font-family="Liberation Sans, sans-serif" textLength="73.70000000000005" lengthAdjust="spacingAndGlyphs">100% RH (707070)</text>
<line x1="347.9" y1="203.65" x2="367.4" y2="203.65" stroke="#ff6a6a" stroke-width="0.9"/>
<circle cx="357.4" cy="203.65" r="1.8" fill="#ee2222"/>
<text x="369.9" y="206.75" font-size="8.8" fill="#222" stroke="#222" stroke-width="0.12" font-family="Liberation Sans, sans-serif" textLength="73.70000000000005" lengthAdjust="spacingAndGlyphs">91.6% RH (686870)</text>
<line x1="347.9" y1="214.02" x2="367.4" y2="214.02" stroke="#5a9ae8" stroke-width="0.9"/>
<path d="M355.4,215.52 L359.4,215.52 L357.4,212.02Z" fill="#2266dd"/>
<text x="369.9" y="217.12" font-size="8.8" fill="#222" stroke="#222" stroke-width="0.12" font-family="Liberation Sans, sans-serif" textLength="73.70000000000005" lengthAdjust="spacingAndGlyphs">83.8% RH (666670)</text>
<line x1="273.3" y1="188.3" x2="445.8" y2="188.3" stroke="#6a6a6a" stroke-width="1"/>
<text x="377" y="226.7" font-size="11.2" font-weight="bold" fill="#000" stroke="#000" stroke-width="0.3" font-family="Liberation Sans, sans-serif" textLength="27.80" lengthAdjust="spacingAndGlyphs">Ag/C</text>
<text x="337.9" y="242" font-size="11.2" font-weight="bold" fill="#000" stroke="#000" stroke-width="0.3" font-family="Liberation Sans, sans-serif" textLength="105.80" lengthAdjust="spacingAndGlyphs">Dispersion ionomer</text>
<text x="287.2" y="208" font-size="16" fill="#111" stroke="#111" stroke-width="0.25" font-family="Liberation Sans, sans-serif">e.</text>
<line x1="513.3" y1="184" x2="689.2" y2="184" stroke="#777" stroke-width="1"/>
<line x1="513.3" y1="184" x2="513.3" y2="325.3" stroke="#555" stroke-width="1.1"/>
<line x1="513.3" y1="325.3" x2="689.2" y2="325.3" stroke="#383838" stroke-width="1"/>
<line x1="689.2" y1="184" x2="689.2" y2="325.3" stroke="#3030ff" stroke-width="1"/>
<line x1="510.79999999999995" y1="325.30" x2="513.3" y2="325.30" stroke="#555" stroke-width="0.8"/>
<text x="508.69999999999993" y="327.80" font-size="8.2" text-anchor="end" fill="#111" stroke="#111" stroke-width="0.15" font-family="Liberation Sans, sans-serif">0.0</text>
<line x1="510.79999999999995" y1="299.61" x2="513.3" y2="299.61" stroke="#555" stroke-width="0.8"/>
<text x="508.69999999999993" y="302.11" font-size="8.2" text-anchor="end" fill="#111" stroke="#111" stroke-width="0.15" font-family="Liberation Sans, sans-serif">0.2</text>
<line x1="510.79999999999995" y1="273.92" x2="513.3" y2="273.92" stroke="#555" stroke-width="0.8"/>
<text x="508.69999999999993" y="276.42" font-size="8.2" text-anchor="end" fill="#111" stroke="#111" stroke-width="0.15" font-family="Liberation Sans, sans-serif">0.4</text>
<line x1="510.79999999999995" y1="248.23" x2="513.3" y2="248.23" stroke="#555" stroke-width="0.8"/>
<text x="508.69999999999993" y="250.73" font-size="8.2" text-anchor="end" fill="#111" stroke="#111" stroke-width="0.15" font-family="Liberation Sans, sans-serif">0.6</text>
<line x1="510.79999999999995" y1="222.54" x2="513.3" y2="222.54" stroke="#555" stroke-width="0.8"/>
<text x="508.69999999999993" y="225.04" font-size="8.2" text-anchor="end" fill="#111" stroke="#111" stroke-width="0.15" font-family="Liberation Sans, sans-serif">0.8</text>
<line x1="510.79999999999995" y1="196.85" x2="513.3" y2="196.85" stroke="#555" stroke-width="0.8"/>
<text x="508.69999999999993" y="199.35" font-size="8.2" text-anchor="end" fill="#111" stroke="#111" stroke-width="0.15" font-family="Liberation Sans, sans-serif">1.0</text>
<line x1="513.30" y1="325.3" x2="513.30" y2="327.8" stroke="#555" stroke-width="0.8"/>
<text x="513.30" y="336.10" font-size="8" text-anchor="middle" fill="#111" stroke="#111" stroke-width="0.15" font-family="Liberation Sans, sans-serif">0</text>
<line x1="538.43" y1="325.3" x2="538.43" y2="327.8" stroke="#555" stroke-width="0.8"/>
<text x="538.43" y="336.10" font-size="8" text-anchor="middle" fill="#111" stroke="#111" stroke-width="0.15" font-family="Liberation Sans, sans-serif">500</text>
<line x1="563.56" y1="325.3" x2="563.56" y2="327.8" stroke="#555" stroke-width="0.8"/>
<text x="563.56" y="336.10" font-size="8" text-anchor="middle" fill="#111" stroke="#111" stroke-width="0.15" font-family="Liberation Sans, sans-serif">1000</text>
<line x1="588.69" y1="325.3" x2="588.69" y2="327.8" stroke="#555" stroke-width="0.8"/>
<text x="588.69" y="336.10" font-size="8" text-anchor="middle" fill="#111" stroke="#111" stroke-width="0.15" font-family="Liberation Sans, sans-serif">1500</text>
<line x1="613.81" y1="325.3" x2="613.81" y2="327.8" stroke="#555" stroke-width="0.8"/>
<text x="613.81" y="336.10" font-size="8" text-anchor="middle" fill="#111" stroke="#111" stroke-width="0.15" font-family="Liberation Sans, sans-serif">2000</text>
<line x1="638.94" y1="325.3" x2="638.94" y2="327.8" stroke="#555" stroke-width="0.8"/>
<text x="638.94" y="336.10" font-size="8" text-anchor="middle" fill="#111" stroke="#111" stroke-width="0.15" font-family="Liberation Sans, sans-serif">2500</text>
<line x1="664.07" y1="325.3" x2="664.07" y2="327.8" stroke="#555" stroke-width="0.8"/>
<text x="664.07" y="336.10" font-size="8" text-anchor="middle" fill="#111" stroke="#111" stroke-width="0.15" font-family="Liberation Sans, sans-serif">3000</text>
<text x="689.20" y="336.10" font-size="8" text-anchor="middle" fill="#111" stroke="#111" stroke-width="0.15" font-family="Liberation Sans, sans-serif">3500</text>
<line x1="689.2" y1="325.30" x2="691.7" y2="325.30" stroke="#3030ff" stroke-width="0.8"/>
<text x="693.8000000000001" y="327.80" font-size="8" fill="#2525f5" stroke="#2525f5" stroke-width="0.12" font-family="Liberation Sans, sans-serif">0</text>
<line x1="689.2" y1="311.17" x2="690.7" y2="311.17" stroke="#3030ff" stroke-width="0.6"/>
<line x1="689.2" y1="297.04" x2="691.7" y2="297.04" stroke="#3030ff" stroke-width="0.8"/>
<text x="693.8000000000001" y="299.54" font-size="8" fill="#2525f5" stroke="#2525f5" stroke-width="0.12" font-family="Liberation Sans, sans-serif">100</text>
<line x1="689.2" y1="282.91" x2="690.7" y2="282.91" stroke="#3030ff" stroke-width="0.6"/>
<line x1="689.2" y1="268.78" x2="691.7" y2="268.78" stroke="#3030ff" stroke-width="0.8"/>
<text x="693.8000000000001" y="271.28" font-size="8" fill="#2525f5" stroke="#2525f5" stroke-width="0.12" font-family="Liberation Sans, sans-serif">200</text>
<line x1="689.2" y1="254.65" x2="690.7" y2="254.65" stroke="#3030ff" stroke-width="0.6"/>
<line x1="689.2" y1="240.52" x2="691.7" y2="240.52" stroke="#3030ff" stroke-width="0.8"/>
<text x="693.8000000000001" y="243.02" font-size="8" fill="#2525f5" stroke="#2525f5" stroke-width="0.12" font-family="Liberation Sans, sans-serif">300</text>
<line x1="689.2" y1="226.39" x2="690.7" y2="226.39" stroke="#3030ff" stroke-width="0.6"/>
<line x1="689.2" y1="212.26" x2="691.7" y2="212.26" stroke="#3030ff" stroke-width="0.8"/>
<text x="693.8000000000001" y="214.76" font-size="8" fill="#2525f5" stroke="#2525f5" stroke-width="0.12" font-family="Liberation Sans, sans-serif">400</text>
<line x1="689.2" y1="198.13" x2="690.7" y2="198.13" stroke="#3030ff" stroke-width="0.6"/>
<line x1="689.2" y1="184.00" x2="691.7" y2="184.00" stroke="#3030ff" stroke-width="0.8"/>
<text x="693.8000000000001" y="186.50" font-size="8" fill="#2525f5" stroke="#2525f5" stroke-width="0.12" font-family="Liberation Sans, sans-serif">500</text>
<text transform="translate(494.3,252.5) rotate(-90)" text-anchor="middle" font-size="10.2" fill="#111" stroke="#111" stroke-width="0.2" font-family="Liberation Sans, sans-serif" textLength="75" lengthAdjust="spacingAndGlyphs">Cell Voltage(V)</text>
<text x="541" y="352.7" font-size="10.2" fill="#111" stroke="#111" stroke-width="0.2" font-family="Liberation Sans, sans-serif" textLength="119.79999999999995" lengthAdjust="spacingAndGlyphs">Current Density(mA·cm<tspan dy="-4" font-size="6.5">-2</tspan><tspan dy="4">)</tspan></text>
<text transform="translate(719.5,254.15) rotate(-90)" text-anchor="middle" font-size="10.5" fill="#2525f5" stroke="#2525f5" stroke-width="0.2" font-family="Liberation Sans, sans-serif" textLength="81.69999999999999" lengthAdjust="spacingAndGlyphs">HFR(mOhm·cm<tspan dy="-4" font-size="6.5">2</tspan><tspan dy="4">)</tspan></text>
<rect x="589.1" y="184.1" width="98.50" height="31.10" fill="white" stroke="#999" stroke-width="0.8"/>
<line x1="589.6" y1="189.58" x2="609.1" y2="189.58" stroke="#555" stroke-width="0.9"/>
<rect x="597.5" y="187.98" width="3.2" height="3.2" fill="#000"/>
<text x="611.6" y="192.68" font-size="8.8" fill="#222" stroke="#222" stroke-width="0.12" font-family="Liberation Sans, sans-serif" textLength="74.5" lengthAdjust="spacingAndGlyphs">100% RH (707070)</text>
<line x1="589.6" y1="199.95" x2="609.1" y2="199.95" stroke="#ff6a6a" stroke-width="0.9"/>
<circle cx="599.1" cy="199.95" r="1.8" fill="#ee2222"/>
<text x="611.6" y="203.05" font-size="8.8" fill="#222" stroke="#222" stroke-width="0.12" font-family="Liberation Sans, sans-serif" textLength="74.5" lengthAdjust="spacingAndGlyphs">91.6% RH (686870)</text>
<line x1="589.6" y1="210.32" x2="609.1" y2="210.32" stroke="#5a9ae8" stroke-width="0.9"/>
<path d="M597.1,211.82 L601.1,211.82 L599.1,208.32Z" fill="#2266dd"/>
<text x="611.6" y="213.42" font-size="8.8" fill="#222" stroke="#222" stroke-width="0.12" font-family="Liberation Sans, sans-serif" textLength="74.5" lengthAdjust="spacingAndGlyphs">83.8% RH (666670)</text>
<line x1="513.3" y1="184" x2="689.2" y2="184" stroke="#6a6a6a" stroke-width="1"/>
<text x="616.6" y="225.9" font-size="11.2" font-weight="bold" fill="#000" stroke="#000" stroke-width="0.3" font-family="Liberation Sans, sans-serif" textLength="36.10" lengthAdjust="spacingAndGlyphs">Fe-N-C</text>
<text x="581.3" y="241.2" font-size="11.2" font-weight="bold" fill="#000" stroke="#000" stroke-width="0.3" font-family="Liberation Sans, sans-serif" textLength="105.50" lengthAdjust="spacingAndGlyphs">Dispersion ionomer</text>
<text x="527.95" y="203.75" font-size="16" fill="#111" stroke="#111" stroke-width="0.25" font-family="Liberation Sans, sans-serif">f.</text>
<polyline points="28.30,12.00 28.32,12.79 28.35,13.84 28.38,15.11 28.41,16.50 28.45,17.96 28.50,19.41 28.55,20.78 28.60,22.00 28.65,23.11 28.69,24.20 28.73,25.26 28.78,26.29 28.84,27.28 28.92,28.23 29.04,29.14 29.20,30.00 29.37,30.81 29.53,31.56 29.71,32.27 29.92,32.94 30.18,33.58 30.52,34.20 30.95,34.80 31.50,35.40 32.13,35.97 32.82,36.50 33.57,37.00 34.41,37.48 35.35,37.96 36.42,38.45 37.63,38.96 39.00,39.50 40.60,40.08 42.46,40.70 44.50,41.33 46.64,41.98 48.81,42.62 50.94,43.24 52.94,43.84 54.75,44.40 56.38,44.92 57.89,45.39 59.32,45.84 60.69,46.28 62.02,46.71 63.33,47.15 64.65,47.61 66.00,48.10 67.32,48.61 68.58,49.12 69.79,49.65 71.02,50.19 72.28,50.74 73.62,51.31 75.08,51.89 76.70,52.50 78.59,53.15 80.76,53.83 83.10,54.55 85.50,55.27 87.83,56.00 89.99,56.70 91.85,57.38 93.30,58.00 94.31,58.57 94.99,59.11 95.40,59.61 95.61,60.09 95.71,60.57 95.76,61.04 95.83,61.51 96.00,62.00 96.20,62.45 96.33,62.82 96.41,63.16 96.49,63.51 96.57,63.93 96.70,64.45 96.90,65.13 97.20,66.00 97.59,67.11 98.04,68.42 98.55,69.88 99.11,71.46 99.71,73.08 100.35,74.72 101.01,76.31 101.70,77.80 102.42,79.24 103.20,80.68 104.02,82.11 104.86,83.53 105.73,84.93 106.59,86.30 107.46,87.62 108.30,88.90 109.14,90.12 109.99,91.28 110.85,92.40 111.71,93.49 112.56,94.56 113.40,95.63 114.21,96.70 115.00,97.80 115.78,98.91 116.56,100.02 117.33,101.14 118.08,102.25 118.80,103.36 119.46,104.47 120.07,105.59 120.60,106.70 121.05,107.80 121.41,108.87 121.72,109.94 121.98,111.01 122.20,112.10 122.41,113.22 122.60,114.38 122.80,115.60 123.00,116.92 123.18,118.33 123.34,119.81 123.49,121.31 123.62,122.79 123.73,124.21 123.82,125.53 123.90,126.70 123.96,127.74 124.01,128.70 124.05,129.58 124.06,130.39 124.06,131.13 124.03,131.80 123.98,132.43 123.90,133.00 123.77,133.51 123.60,133.95 123.38,134.33 123.15,134.64 122.92,134.91 122.70,135.14 122.53,135.33 122.40,135.50" fill="none" stroke="#000" stroke-width="0.8"/>
<rect x="26.60" y="10.30" width="3.40" height="3.40" fill="#000"/>
<rect x="26.63" y="11.58" width="3.40" height="3.40" fill="#000"/>
<rect x="26.66" y="12.75" width="3.40" height="3.40" fill="#000"/>
<rect x="26.69" y="14.09" width="3.40" height="3.40" fill="#000"/>
<rect x="26.73" y="15.53" width="3.40" height="3.40" fill="#000"/>
<rect x="26.77" y="16.99" width="3.40" height="3.40" fill="#000"/>
<rect x="26.82" y="18.41" width="3.40" height="3.40" fill="#000"/>
<rect x="26.87" y="19.71" width="3.40" height="3.40" fill="#000"/>
<rect x="26.93" y="20.86" width="3.40" height="3.40" fill="#000"/>
<rect x="26.97" y="21.96" width="3.40" height="3.40" fill="#000"/>
<rect x="27.01" y="23.03" width="3.40" height="3.40" fill="#000"/>
<rect x="27.05" y="24.08" width="3.40" height="3.40" fill="#000"/>
<rect x="27.10" y="25.09" width="3.40" height="3.40" fill="#000"/>
<rect x="27.22" y="26.53" width="3.40" height="3.40" fill="#000"/>
<rect x="27.42" y="27.88" width="3.40" height="3.40" fill="#000"/>
<rect x="27.67" y="29.11" width="3.40" height="3.40" fill="#000"/>
<rect x="27.92" y="30.22" width="3.40" height="3.40" fill="#000"/>
<rect x="28.22" y="31.24" width="3.40" height="3.40" fill="#000"/>
<rect x="28.64" y="32.20" width="3.40" height="3.40" fill="#000"/>
<rect x="30.43" y="34.27" width="3.40" height="3.40" fill="#000"/>
<rect x="33.65" y="36.26" width="3.40" height="3.40" fill="#000"/>
<rect x="38.07" y="38.09" width="3.40" height="3.40" fill="#000"/>
<rect x="42.80" y="39.63" width="3.40" height="3.40" fill="#000"/>
<rect x="47.11" y="40.92" width="3.40" height="3.40" fill="#000"/>
<rect x="51.24" y="42.14" width="3.40" height="3.40" fill="#000"/>
<rect x="55.45" y="43.46" width="3.40" height="3.40" fill="#000"/>
<rect x="59.66" y="44.80" width="3.40" height="3.40" fill="#000"/>
<rect x="63.62" y="46.15" width="3.40" height="3.40" fill="#000"/>
<rect x="67.49" y="47.69" width="3.40" height="3.40" fill="#000"/>
<rect x="71.24" y="49.32" width="3.40" height="3.40" fill="#000"/>
<rect x="75.90" y="51.12" width="3.40" height="3.40" fill="#000"/>
<rect x="80.22" y="52.49" width="3.40" height="3.40" fill="#000"/>
<rect x="84.98" y="53.94" width="3.40" height="3.40" fill="#000"/>
<rect x="89.26" y="55.35" width="3.40" height="3.40" fill="#000"/>
<rect x="92.61" y="56.87" width="3.40" height="3.40" fill="#000"/>
<rect x="93.82" y="58.15" width="3.40" height="3.40" fill="#000"/>
<rect x="94.06" y="59.34" width="3.40" height="3.40" fill="#000"/>
<rect x="94.30" y="60.30" width="3.40" height="3.40" fill="#000"/>
<rect x="94.67" y="61.29" width="3.40" height="3.40" fill="#000"/>
<rect x="94.93" y="62.47" width="3.40" height="3.40" fill="#000"/>
<rect x="95.34" y="63.84" width="3.40" height="3.40" fill="#000"/>
<rect x="95.69" y="64.82" width="3.40" height="3.40" fill="#000"/>
<rect x="96.11" y="66.04" width="3.40" height="3.40" fill="#000"/>
<rect x="96.59" y="67.43" width="3.40" height="3.40" fill="#000"/>
<rect x="97.13" y="68.96" width="3.40" height="3.40" fill="#000"/>
<rect x="97.71" y="70.57" width="3.40" height="3.40" fill="#000"/>
<rect x="98.33" y="72.20" width="3.40" height="3.40" fill="#000"/>
<rect x="98.98" y="73.82" width="3.40" height="3.40" fill="#000"/>
<rect x="99.66" y="75.37" width="3.40" height="3.40" fill="#000"/>
<rect x="100.35" y="76.82" width="3.40" height="3.40" fill="#000"/>
<rect x="101.11" y="78.26" width="3.40" height="3.40" fill="#000"/>
<rect x="101.90" y="79.69" width="3.40" height="3.40" fill="#000"/>
<rect x="102.74" y="81.12" width="3.40" height="3.40" fill="#000"/>
<rect x="103.59" y="82.53" width="3.40" height="3.40" fill="#000"/>
<rect x="104.46" y="83.92" width="3.40" height="3.40" fill="#000"/>
<rect x="105.33" y="85.26" width="3.40" height="3.40" fill="#000"/>
<rect x="106.18" y="86.57" width="3.40" height="3.40" fill="#000"/>
<rect x="107.02" y="87.82" width="3.40" height="3.40" fill="#000"/>
<rect x="108.29" y="89.58" width="3.40" height="3.40" fill="#000"/>
<rect x="109.58" y="91.25" width="3.40" height="3.40" fill="#000"/>
<rect x="110.86" y="92.86" width="3.40" height="3.40" fill="#000"/>
<rect x="112.11" y="94.46" width="3.40" height="3.40" fill="#000"/>
<rect x="113.30" y="96.10" width="3.40" height="3.40" fill="#000"/>
<rect x="114.47" y="97.77" width="3.40" height="3.40" fill="#000"/>
<rect x="115.63" y="99.44" width="3.40" height="3.40" fill="#000"/>
<rect x="116.74" y="101.11" width="3.40" height="3.40" fill="#000"/>
<rect x="117.44" y="102.22" width="3.40" height="3.40" fill="#000"/>
<rect x="118.08" y="103.33" width="3.40" height="3.40" fill="#000"/>
<rect x="118.65" y="104.44" width="3.40" height="3.40" fill="#000"/>
<rect x="119.13" y="105.55" width="3.40" height="3.40" fill="#000"/>
<rect x="119.54" y="106.64" width="3.40" height="3.40" fill="#000"/>
<rect x="119.88" y="107.71" width="3.40" height="3.40" fill="#000"/>
<rect x="120.16" y="108.78" width="3.40" height="3.40" fill="#000"/>
<rect x="120.40" y="109.85" width="3.40" height="3.40" fill="#000"/>
<rect x="120.61" y="110.96" width="3.40" height="3.40" fill="#000"/>
<rect x="120.80" y="112.10" width="3.40" height="3.40" fill="#000"/>
<rect x="121.00" y="113.28" width="3.40" height="3.40" fill="#000"/>
<rect x="121.20" y="114.54" width="3.40" height="3.40" fill="#000"/>
<rect x="121.39" y="115.91" width="3.40" height="3.40" fill="#000"/>
<rect x="121.56" y="117.37" width="3.40" height="3.40" fill="#000"/>
<rect x="121.72" y="118.86" width="3.40" height="3.40" fill="#000"/>
<rect x="121.85" y="120.36" width="3.40" height="3.40" fill="#000"/>
<rect x="121.97" y="121.81" width="3.40" height="3.40" fill="#000"/>
<rect x="122.08" y="123.18" width="3.40" height="3.40" fill="#000"/>
<rect x="122.16" y="124.43" width="3.40" height="3.40" fill="#000"/>
<rect x="122.23" y="125.53" width="3.40" height="3.40" fill="#000"/>
<rect x="122.29" y="126.53" width="3.40" height="3.40" fill="#000"/>
<rect x="122.35" y="127.88" width="3.40" height="3.40" fill="#000"/>
<rect x="122.36" y="129.07" width="3.40" height="3.40" fill="#000"/>
<rect x="122.33" y="130.10" width="3.40" height="3.40" fill="#000"/>
<rect x="122.20" y="131.30" width="3.40" height="3.40" fill="#000"/>
<rect x="121.90" y="132.25" width="3.40" height="3.40" fill="#000"/>
<rect x="120.76" y="133.72" width="3.40" height="3.40" fill="#000"/>
<rect x="120.70" y="133.80" width="3.40" height="3.40" fill="#000"/>
<polyline points="28.30,12.00 28.34,12.80 28.38,13.90 28.43,15.22 28.49,16.66 28.56,18.14 28.63,19.58 28.71,20.90 28.80,22.00 28.88,22.89 28.94,23.64 29.00,24.30 29.07,24.91 29.17,25.49 29.31,26.09 29.49,26.75 29.75,27.50 30.04,28.36 30.34,29.29 30.68,30.28 31.06,31.28 31.51,32.28 32.06,33.25 32.71,34.17 33.50,35.00 34.43,35.74 35.47,36.41 36.63,37.03 37.88,37.62 39.20,38.19 40.59,38.77 42.03,39.36 43.50,40.00 45.01,40.67 46.56,41.34 48.16,42.03 49.83,42.72 51.56,43.42 53.37,44.14 55.27,44.86 57.25,45.60 59.36,46.36 61.62,47.16 63.98,47.98 66.40,48.80 68.86,49.62 71.30,50.41 73.69,51.18 76.00,51.90 78.24,52.57 80.44,53.19 82.62,53.78 84.78,54.35 86.92,54.91 89.05,55.49 91.18,56.08 93.30,56.70 95.44,57.36 97.60,58.04 99.76,58.73 101.90,59.44 104.01,60.14 106.08,60.84 108.08,61.53 110.00,62.20 111.87,62.85 113.72,63.48 115.53,64.10 117.27,64.71 118.95,65.33 120.52,65.94 121.98,66.56 123.30,67.20 124.42,67.82 125.34,68.42 126.10,69.00 126.79,69.60 127.46,70.23 128.17,70.91 129.00,71.66 130.00,72.50 131.19,73.43 132.52,74.42 133.94,75.48 135.41,76.59 136.91,77.76 138.38,78.97 139.79,80.22 141.10,81.50 142.34,82.85 143.56,84.30 144.74,85.80 145.89,87.34 147.00,88.88 148.06,90.41 149.06,91.89 150.00,93.30 150.88,94.65 151.71,95.98 152.49,97.28 153.22,98.55 153.89,99.79 154.52,101.00 155.09,102.17 155.60,103.30 156.05,104.37 156.44,105.38 156.77,106.34 157.05,107.27 157.29,108.19 157.48,109.12 157.65,110.09 157.80,111.10 157.92,112.16 158.01,113.25 158.06,114.36 158.08,115.48 158.06,116.61 158.01,117.75 157.92,118.88 157.80,120.00 157.63,121.14 157.41,122.31 157.14,123.50 156.84,124.69 156.53,125.84 156.21,126.94 155.89,127.97 155.60,128.90 155.30,129.75 154.98,130.56 154.64,131.31 154.31,132.01 154.00,132.63 153.72,133.17 153.48,133.63 153.30,134.00" fill="none" stroke="#f21c1c" stroke-width="0.8"/>
<circle cx="28.30" cy="12.00" r="1.75" fill="#f21c1c"/>
<circle cx="28.36" cy="13.32" r="1.75" fill="#f21c1c"/>
<circle cx="28.40" cy="14.54" r="1.75" fill="#f21c1c"/>
<circle cx="28.46" cy="15.93" r="1.75" fill="#f21c1c"/>
<circle cx="28.52" cy="17.40" r="1.75" fill="#f21c1c"/>
<circle cx="28.59" cy="18.87" r="1.75" fill="#f21c1c"/>
<circle cx="28.67" cy="20.26" r="1.75" fill="#f21c1c"/>
<circle cx="28.76" cy="21.48" r="1.75" fill="#f21c1c"/>
<circle cx="28.88" cy="22.89" r="1.75" fill="#f21c1c"/>
<circle cx="28.97" cy="23.98" r="1.75" fill="#f21c1c"/>
<circle cx="29.12" cy="25.20" r="1.75" fill="#f21c1c"/>
<circle cx="29.39" cy="26.41" r="1.75" fill="#f21c1c"/>
<circle cx="29.75" cy="27.50" r="1.75" fill="#f21c1c"/>
<circle cx="30.19" cy="28.82" r="1.75" fill="#f21c1c"/>
<circle cx="30.51" cy="29.78" r="1.75" fill="#f21c1c"/>
<circle cx="30.86" cy="30.78" r="1.75" fill="#f21c1c"/>
<circle cx="31.28" cy="31.78" r="1.75" fill="#f21c1c"/>
<circle cx="31.77" cy="32.77" r="1.75" fill="#f21c1c"/>
<circle cx="33.09" cy="34.60" r="1.75" fill="#f21c1c"/>
<circle cx="36.04" cy="36.73" r="1.75" fill="#f21c1c"/>
<circle cx="39.89" cy="38.48" r="1.75" fill="#f21c1c"/>
<circle cx="43.50" cy="40.00" r="1.75" fill="#f21c1c"/>
<circle cx="47.35" cy="41.68" r="1.75" fill="#f21c1c"/>
<circle cx="51.56" cy="43.42" r="1.75" fill="#f21c1c"/>
<circle cx="56.25" cy="45.23" r="1.75" fill="#f21c1c"/>
<circle cx="60.48" cy="46.76" r="1.75" fill="#f21c1c"/>
<circle cx="65.19" cy="48.39" r="1.75" fill="#f21c1c"/>
<circle cx="70.08" cy="50.02" r="1.75" fill="#f21c1c"/>
<circle cx="74.86" cy="51.55" r="1.75" fill="#f21c1c"/>
<circle cx="79.34" cy="52.88" r="1.75" fill="#f21c1c"/>
<circle cx="83.70" cy="54.07" r="1.75" fill="#f21c1c"/>
<circle cx="87.99" cy="55.20" r="1.75" fill="#f21c1c"/>
<circle cx="92.24" cy="56.38" r="1.75" fill="#f21c1c"/>
<circle cx="96.52" cy="57.70" r="1.75" fill="#f21c1c"/>
<circle cx="100.83" cy="59.08" r="1.75" fill="#f21c1c"/>
<circle cx="105.05" cy="60.49" r="1.75" fill="#f21c1c"/>
<circle cx="109.05" cy="61.87" r="1.75" fill="#f21c1c"/>
<circle cx="113.72" cy="63.48" r="1.75" fill="#f21c1c"/>
<circle cx="118.12" cy="65.02" r="1.75" fill="#f21c1c"/>
<circle cx="121.98" cy="66.56" r="1.75" fill="#f21c1c"/>
<circle cx="124.90" cy="68.12" r="1.75" fill="#f21c1c"/>
<circle cx="127.12" cy="69.91" r="1.75" fill="#f21c1c"/>
<circle cx="129.00" cy="71.66" r="1.75" fill="#f21c1c"/>
<circle cx="131.84" cy="73.92" r="1.75" fill="#f21c1c"/>
<circle cx="134.67" cy="76.03" r="1.75" fill="#f21c1c"/>
<circle cx="137.65" cy="78.36" r="1.75" fill="#f21c1c"/>
<circle cx="139.79" cy="80.22" r="1.75" fill="#f21c1c"/>
<circle cx="141.72" cy="82.16" r="1.75" fill="#f21c1c"/>
<circle cx="143.56" cy="84.30" r="1.75" fill="#f21c1c"/>
<circle cx="144.74" cy="85.80" r="1.75" fill="#f21c1c"/>
<circle cx="145.89" cy="87.34" r="1.75" fill="#f21c1c"/>
<circle cx="147.00" cy="88.88" r="1.75" fill="#f21c1c"/>
<circle cx="148.06" cy="90.41" r="1.75" fill="#f21c1c"/>
<circle cx="149.06" cy="91.89" r="1.75" fill="#f21c1c"/>
<circle cx="150.00" cy="93.30" r="1.75" fill="#f21c1c"/>
<circle cx="150.88" cy="94.65" r="1.75" fill="#f21c1c"/>
<circle cx="151.71" cy="95.98" r="1.75" fill="#f21c1c"/>
<circle cx="152.49" cy="97.28" r="1.75" fill="#f21c1c"/>
<circle cx="153.22" cy="98.55" r="1.75" fill="#f21c1c"/>
<circle cx="153.89" cy="99.79" r="1.75" fill="#f21c1c"/>
<circle cx="154.52" cy="101.00" r="1.75" fill="#f21c1c"/>
<circle cx="155.09" cy="102.17" r="1.75" fill="#f21c1c"/>
<circle cx="155.60" cy="103.30" r="1.75" fill="#f21c1c"/>
<circle cx="156.05" cy="104.37" r="1.75" fill="#f21c1c"/>
<circle cx="156.44" cy="105.38" r="1.75" fill="#f21c1c"/>
<circle cx="156.77" cy="106.34" r="1.75" fill="#f21c1c"/>
<circle cx="157.17" cy="107.73" r="1.75" fill="#f21c1c"/>
<circle cx="157.48" cy="109.12" r="1.75" fill="#f21c1c"/>
<circle cx="157.73" cy="110.59" r="1.75" fill="#f21c1c"/>
<circle cx="157.86" cy="111.63" r="1.75" fill="#f21c1c"/>
<circle cx="157.97" cy="112.70" r="1.75" fill="#f21c1c"/>
<circle cx="158.04" cy="113.80" r="1.75" fill="#f21c1c"/>
<circle cx="158.07" cy="114.92" r="1.75" fill="#f21c1c"/>
<circle cx="158.07" cy="116.05" r="1.75" fill="#f21c1c"/>
<circle cx="158.04" cy="117.18" r="1.75" fill="#f21c1c"/>
<circle cx="157.97" cy="118.32" r="1.75" fill="#f21c1c"/>
<circle cx="157.86" cy="119.44" r="1.75" fill="#f21c1c"/>
<circle cx="157.72" cy="120.56" r="1.75" fill="#f21c1c"/>
<circle cx="157.53" cy="121.72" r="1.75" fill="#f21c1c"/>
<circle cx="157.28" cy="122.91" r="1.75" fill="#f21c1c"/>
<circle cx="157.00" cy="124.10" r="1.75" fill="#f21c1c"/>
<circle cx="156.69" cy="125.27" r="1.75" fill="#f21c1c"/>
<circle cx="156.37" cy="126.40" r="1.75" fill="#f21c1c"/>
<circle cx="156.05" cy="127.47" r="1.75" fill="#f21c1c"/>
<circle cx="155.74" cy="128.45" r="1.75" fill="#f21c1c"/>
<circle cx="155.30" cy="129.75" r="1.75" fill="#f21c1c"/>
<circle cx="154.81" cy="130.95" r="1.75" fill="#f21c1c"/>
<circle cx="154.31" cy="132.01" r="1.75" fill="#f21c1c"/>
<circle cx="153.85" cy="132.91" r="1.75" fill="#f21c1c"/>
<circle cx="153.38" cy="133.83" r="1.75" fill="#f21c1c"/>
<circle cx="153.30" cy="134.00" r="1.75" fill="#f21c1c"/>
<polyline points="28.30,11.60 28.32,12.60 28.33,13.98 28.35,15.62 28.38,17.43 28.41,19.27 28.46,21.06 28.52,22.67 28.60,24.00 28.70,25.07 28.81,26.00 28.94,26.82 29.08,27.54 29.23,28.20 29.39,28.81 29.57,29.40 29.75,30.00 29.93,30.58 30.10,31.10 30.28,31.57 30.47,32.02 30.69,32.44 30.94,32.87 31.24,33.30 31.60,33.75 32.01,34.22 32.45,34.70 32.93,35.18 33.45,35.67 34.01,36.14 34.62,36.61 35.28,37.06 36.00,37.50 36.79,37.92 37.66,38.32 38.59,38.71 39.56,39.09 40.55,39.46 41.55,39.84 42.54,40.21 43.50,40.60 44.40,40.98 45.26,41.34 46.09,41.70 46.94,42.06 47.82,42.43 48.77,42.83 49.82,43.27 51.00,43.75 52.32,44.29 53.77,44.87 55.32,45.49 56.94,46.13 58.59,46.79 60.26,47.46 61.90,48.11 63.50,48.75 65.03,49.37 66.51,49.97 67.98,50.57 69.45,51.17 70.96,51.78 72.54,52.41 74.21,53.07 76.00,53.75 77.94,54.48 80.00,55.25 82.16,56.06 84.39,56.88 86.65,57.69 88.90,58.50 91.13,59.27 93.30,60.00 95.42,60.68 97.52,61.34 99.61,61.97 101.69,62.58 103.76,63.18 105.84,63.78 107.92,64.38 110.00,65.00 112.12,65.62 114.30,66.25 116.50,66.88 118.69,67.50 120.83,68.12 122.90,68.75 124.87,69.38 126.70,70.00 128.39,70.63 129.98,71.26 131.48,71.90 132.89,72.53 134.24,73.16 135.53,73.79 136.78,74.40 138.00,75.00 139.17,75.59 140.28,76.18 141.33,76.77 142.33,77.34 143.29,77.91 144.22,78.46 145.12,78.99 146.00,79.50 146.80,79.96 147.48,80.36 148.09,80.73 148.69,81.09 149.33,81.48 150.05,81.90 150.93,82.40 152.00,83.00 153.30,83.68 154.78,84.42 156.41,85.21 158.12,86.06 159.89,86.96 161.66,87.92 163.38,88.93 165.00,90.00 166.57,91.13 168.15,92.32 169.73,93.58 171.28,94.89 172.80,96.24 174.27,97.63 175.67,99.05 177.00,100.50 178.25,102.00 179.45,103.58 180.60,105.21 181.69,106.86 182.72,108.52 183.70,110.17 184.63,111.77 185.50,113.30 186.32,114.80 187.09,116.30 187.81,117.78 188.47,119.24 189.07,120.64 189.61,121.98 190.09,123.24 190.50,124.40 190.84,125.46 191.10,126.45 191.30,127.36 191.44,128.21 191.52,128.99 191.55,129.71 191.55,130.38 191.50,131.00 191.38,131.57 191.16,132.07 190.88,132.52 190.56,132.91 190.24,133.25 189.93,133.55 189.67,133.79 189.50,134.00" fill="none" stroke="#1a5ee0" stroke-width="0.8"/>
<path d="M26.08,13.27L30.52,13.27L28.30,9.38Z" fill="#1a5ee0"/>
<path d="M26.10,14.27L30.54,14.27L28.32,10.38Z" fill="#1a5ee0"/>
<path d="M26.11,15.64L30.55,15.64L28.33,11.76Z" fill="#1a5ee0"/>
<path d="M26.13,17.29L30.57,17.29L28.35,13.40Z" fill="#1a5ee0"/>
<path d="M26.16,19.09L30.60,19.09L28.38,15.21Z" fill="#1a5ee0"/>
<path d="M26.19,20.94L30.63,20.94L28.41,17.05Z" fill="#1a5ee0"/>
<path d="M26.24,22.72L30.68,22.72L28.46,18.84Z" fill="#1a5ee0"/>
<path d="M26.30,24.34L30.74,24.34L28.52,20.45Z" fill="#1a5ee0"/>
<path d="M26.38,25.66L30.82,25.66L28.60,21.78Z" fill="#1a5ee0"/>
<path d="M26.48,26.74L30.92,26.74L28.70,22.85Z" fill="#1a5ee0"/>
<path d="M26.65,28.09L31.09,28.09L28.87,24.20Z" fill="#1a5ee0"/>
<path d="M26.86,29.21L31.30,29.21L29.08,25.32Z" fill="#1a5ee0"/>
<path d="M27.17,30.47L31.61,30.47L29.39,26.59Z" fill="#1a5ee0"/>
<path d="M27.53,31.66L31.97,31.66L29.75,27.78Z" fill="#1a5ee0"/>
<path d="M27.88,32.76L32.32,32.76L30.10,28.88Z" fill="#1a5ee0"/>
<path d="M28.36,33.90L32.80,33.90L30.58,30.01Z" fill="#1a5ee0"/>
<path d="M29.38,35.41L33.82,35.41L31.60,31.53Z" fill="#1a5ee0"/>
<path d="M31.23,37.33L35.67,37.33L33.45,33.45Z" fill="#1a5ee0"/>
<path d="M34.16,39.38L38.60,39.38L36.38,35.49Z" fill="#1a5ee0"/>
<path d="M38.33,41.13L42.77,41.13L40.55,37.24Z" fill="#1a5ee0"/>
<path d="M42.18,42.64L46.62,42.64L44.40,38.76Z" fill="#1a5ee0"/>
<path d="M46.07,44.29L50.51,44.29L48.29,40.41Z" fill="#1a5ee0"/>
<path d="M50.10,45.95L54.54,45.95L52.32,42.07Z" fill="#1a5ee0"/>
<path d="M53.90,47.47L58.34,47.47L56.12,43.59Z" fill="#1a5ee0"/>
<path d="M58.04,49.12L62.48,49.12L60.26,45.24Z" fill="#1a5ee0"/>
<path d="M62.05,50.73L66.49,50.73L64.27,46.84Z" fill="#1a5ee0"/>
<path d="M65.76,52.24L70.20,52.24L67.98,48.35Z" fill="#1a5ee0"/>
<path d="M69.52,53.76L73.96,53.76L71.74,49.88Z" fill="#1a5ee0"/>
<path d="M73.78,55.41L78.22,55.41L76.00,51.53Z" fill="#1a5ee0"/>
<path d="M77.78,56.92L82.22,56.92L80.00,53.03Z" fill="#1a5ee0"/>
<path d="M82.17,58.54L86.61,58.54L84.39,54.66Z" fill="#1a5ee0"/>
<path d="M86.68,60.16L91.12,60.16L88.90,56.28Z" fill="#1a5ee0"/>
<path d="M91.08,61.66L95.52,61.66L93.30,57.78Z" fill="#1a5ee0"/>
<path d="M95.30,63.00L99.74,63.00L97.52,59.12Z" fill="#1a5ee0"/>
<path d="M99.47,64.24L103.91,64.24L101.69,60.36Z" fill="#1a5ee0"/>
<path d="M103.62,65.44L108.06,65.44L105.84,61.56Z" fill="#1a5ee0"/>
<path d="M107.78,66.67L112.22,66.67L110.00,62.78Z" fill="#1a5ee0"/>
<path d="M112.08,67.92L116.52,67.92L114.30,64.03Z" fill="#1a5ee0"/>
<path d="M116.47,69.17L120.91,69.17L118.69,65.28Z" fill="#1a5ee0"/>
<path d="M120.68,70.42L125.12,70.42L122.90,66.53Z" fill="#1a5ee0"/>
<path d="M125.34,71.98L129.78,71.98L127.56,68.09Z" fill="#1a5ee0"/>
<path d="M129.26,73.56L133.70,73.56L131.48,69.68Z" fill="#1a5ee0"/>
<path d="M132.67,75.14L137.11,75.14L134.89,71.25Z" fill="#1a5ee0"/>
<path d="M136.37,76.96L140.81,76.96L138.59,73.08Z" fill="#1a5ee0"/>
<path d="M139.62,78.72L144.06,78.72L141.84,74.84Z" fill="#1a5ee0"/>
<path d="M142.90,80.65L147.34,80.65L145.12,76.77Z" fill="#1a5ee0"/>
<path d="M145.87,82.40L150.31,82.40L148.09,78.51Z" fill="#1a5ee0"/>
<path d="M149.22,84.35L153.66,84.35L151.44,80.47Z" fill="#1a5ee0"/>
<path d="M152.56,86.09L157.00,86.09L154.78,82.20Z" fill="#1a5ee0"/>
<path d="M155.91,87.73L160.34,87.73L158.12,83.84Z" fill="#1a5ee0"/>
<path d="M159.44,89.59L163.88,89.59L161.66,85.70Z" fill="#1a5ee0"/>
<path d="M162.78,91.67L167.22,91.67L165.00,87.78Z" fill="#1a5ee0"/>
<path d="M165.93,93.99L170.37,93.99L168.15,90.10Z" fill="#1a5ee0"/>
<path d="M168.29,95.89L172.73,95.89L170.51,92.01Z" fill="#1a5ee0"/>
<path d="M170.58,97.91L175.02,97.91L172.80,94.02Z" fill="#1a5ee0"/>
<path d="M172.76,100.00L177.20,100.00L174.98,96.12Z" fill="#1a5ee0"/>
<path d="M174.78,102.17L179.22,102.17L177.00,98.28Z" fill="#1a5ee0"/>
<path d="M176.03,103.67L180.47,103.67L178.25,99.78Z" fill="#1a5ee0"/>
<path d="M177.23,105.24L181.67,105.24L179.45,101.36Z" fill="#1a5ee0"/>
<path d="M178.38,106.87L182.82,106.87L180.60,102.99Z" fill="#1a5ee0"/>
<path d="M179.47,108.53L183.91,108.53L181.69,104.64Z" fill="#1a5ee0"/>
<path d="M180.50,110.19L184.94,110.19L182.72,106.30Z" fill="#1a5ee0"/>
<path d="M181.48,111.83L185.92,111.83L183.70,107.95Z" fill="#1a5ee0"/>
<path d="M182.41,113.43L186.85,113.43L184.63,109.55Z" fill="#1a5ee0"/>
<path d="M183.28,114.97L187.72,114.97L185.50,111.08Z" fill="#1a5ee0"/>
<path d="M184.10,116.46L188.54,116.46L186.32,112.58Z" fill="#1a5ee0"/>
<path d="M184.87,117.97L189.31,117.97L187.09,114.08Z" fill="#1a5ee0"/>
<path d="M185.59,119.45L190.03,119.45L187.81,115.56Z" fill="#1a5ee0"/>
<path d="M186.25,120.90L190.69,120.90L188.47,117.02Z" fill="#1a5ee0"/>
<path d="M186.85,122.31L191.29,122.31L189.07,118.42Z" fill="#1a5ee0"/>
<path d="M187.39,123.65L191.83,123.65L189.61,119.76Z" fill="#1a5ee0"/>
<path d="M187.87,124.90L192.31,124.90L190.09,121.02Z" fill="#1a5ee0"/>
<path d="M188.28,126.07L192.72,126.07L190.50,122.18Z" fill="#1a5ee0"/>
<path d="M188.62,127.13L193.06,127.13L190.84,123.24Z" fill="#1a5ee0"/>
<path d="M188.88,128.12L193.32,128.12L191.10,124.23Z" fill="#1a5ee0"/>
<path d="M189.16,129.46L193.60,129.46L191.38,125.57Z" fill="#1a5ee0"/>
<path d="M189.30,130.65L193.74,130.65L191.52,126.77Z" fill="#1a5ee0"/>
<path d="M189.34,131.71L193.78,131.71L191.56,127.83Z" fill="#1a5ee0"/>
<path d="M189.23,132.96L193.67,132.96L191.45,129.07Z" fill="#1a5ee0"/>
<path d="M188.02,134.92L192.46,134.92L190.24,131.03Z" fill="#1a5ee0"/>
<path d="M187.28,135.66L191.72,135.66L189.50,131.78Z" fill="#1a5ee0"/>
<rect x="30.05" y="19.90" width="3.40" height="3.40" fill="#000"/>
<rect x="27.90" y="29.90" width="3.40" height="3.40" fill="#000"/>
<polyline points="31.80,131.10 35.12,131.21 39.56,131.34 44.85,131.51 50.72,131.69 56.90,131.89 63.11,132.10 69.11,132.30 74.60,132.50 79.93,132.70 85.48,132.93 91.10,133.16 96.62,133.39 101.86,133.62 106.67,133.84 110.87,134.03 114.30,134.20 116.88,134.34 118.74,134.46 120.01,134.57 120.83,134.66 121.34,134.73 121.69,134.80 121.99,134.85 122.40,134.90" fill="none" stroke="#858585" stroke-width="0.6"/>
<rect x="30.55" y="129.85" width="2.50" height="2.50" fill="#fff" stroke="#858585" stroke-width="0.6"/>
<rect x="33.87" y="129.96" width="2.50" height="2.50" fill="#fff" stroke="#858585" stroke-width="0.6"/>
<rect x="38.31" y="130.09" width="2.50" height="2.50" fill="#fff" stroke="#858585" stroke-width="0.6"/>
<rect x="40.87" y="130.17" width="2.50" height="2.50" fill="#fff" stroke="#858585" stroke-width="0.6"/>
<rect x="43.60" y="130.26" width="2.50" height="2.50" fill="#fff" stroke="#858585" stroke-width="0.6"/>
<rect x="46.48" y="130.35" width="2.50" height="2.50" fill="#fff" stroke="#858585" stroke-width="0.6"/>
<rect x="49.47" y="130.44" width="2.50" height="2.50" fill="#fff" stroke="#858585" stroke-width="0.6"/>
<rect x="52.54" y="130.54" width="2.50" height="2.50" fill="#fff" stroke="#858585" stroke-width="0.6"/>
<rect x="55.65" y="130.64" width="2.50" height="2.50" fill="#fff" stroke="#858585" stroke-width="0.6"/>
<rect x="58.77" y="130.74" width="2.50" height="2.50" fill="#fff" stroke="#858585" stroke-width="0.6"/>
<rect x="61.86" y="130.85" width="2.50" height="2.50" fill="#fff" stroke="#858585" stroke-width="0.6"/>
<rect x="64.91" y="130.95" width="2.50" height="2.50" fill="#fff" stroke="#858585" stroke-width="0.6"/>
<rect x="67.86" y="131.05" width="2.50" height="2.50" fill="#fff" stroke="#858585" stroke-width="0.6"/>
<rect x="70.68" y="131.15" width="2.50" height="2.50" fill="#fff" stroke="#858585" stroke-width="0.6"/>
<rect x="73.35" y="131.25" width="2.50" height="2.50" fill="#fff" stroke="#858585" stroke-width="0.6"/>
<rect x="75.97" y="131.35" width="2.50" height="2.50" fill="#fff" stroke="#858585" stroke-width="0.6"/>
<rect x="78.68" y="131.45" width="2.50" height="2.50" fill="#fff" stroke="#858585" stroke-width="0.6"/>
<rect x="81.44" y="131.56" width="2.50" height="2.50" fill="#fff" stroke="#858585" stroke-width="0.6"/>
<rect x="84.23" y="131.68" width="2.50" height="2.50" fill="#fff" stroke="#858585" stroke-width="0.6"/>
<rect x="87.05" y="131.79" width="2.50" height="2.50" fill="#fff" stroke="#858585" stroke-width="0.6"/>
<rect x="89.85" y="131.91" width="2.50" height="2.50" fill="#fff" stroke="#858585" stroke-width="0.6"/>
<rect x="92.63" y="132.03" width="2.50" height="2.50" fill="#fff" stroke="#858585" stroke-width="0.6"/>
<rect x="95.37" y="132.14" width="2.50" height="2.50" fill="#fff" stroke="#858585" stroke-width="0.6"/>
<rect x="98.04" y="132.26" width="2.50" height="2.50" fill="#fff" stroke="#858585" stroke-width="0.6"/>
<rect x="100.61" y="132.37" width="2.50" height="2.50" fill="#fff" stroke="#858585" stroke-width="0.6"/>
<rect x="105.42" y="132.59" width="2.50" height="2.50" fill="#fff" stroke="#858585" stroke-width="0.6"/>
<rect x="109.62" y="132.78" width="2.50" height="2.50" fill="#fff" stroke="#858585" stroke-width="0.6"/>
<rect x="113.05" y="132.95" width="2.50" height="2.50" fill="#fff" stroke="#858585" stroke-width="0.6"/>
<rect x="115.63" y="133.09" width="2.50" height="2.50" fill="#fff" stroke="#858585" stroke-width="0.6"/>
<rect x="118.19" y="133.27" width="2.50" height="2.50" fill="#fff" stroke="#858585" stroke-width="0.6"/>
<rect x="120.74" y="133.60" width="2.50" height="2.50" fill="#fff" stroke="#858585" stroke-width="0.6"/>
<rect x="121.15" y="133.65" width="2.50" height="2.50" fill="#fff" stroke="#858585" stroke-width="0.6"/>
<polyline points="31.80,128.00 35.12,128.25 39.56,128.59 44.85,128.99 50.72,129.43 56.90,129.89 63.11,130.34 69.11,130.75 74.60,131.10 79.67,131.40 84.61,131.69 89.47,131.96 94.29,132.21 99.14,132.44 104.05,132.64 109.09,132.83 114.30,133.00 120.00,133.14 126.29,133.26 132.87,133.35 139.43,133.42 145.68,133.48 151.33,133.52 156.07,133.56 159.60,133.60" fill="none" stroke="#f07070" stroke-width="0.6"/>
<circle cx="31.80" cy="128.00" r="1.25" fill="#fff" stroke="#f07070" stroke-width="0.6"/>
<circle cx="35.12" cy="128.25" r="1.25" fill="#fff" stroke="#f07070" stroke-width="0.6"/>
<circle cx="39.56" cy="128.59" r="1.25" fill="#fff" stroke="#f07070" stroke-width="0.6"/>
<circle cx="42.12" cy="128.78" r="1.25" fill="#fff" stroke="#f07070" stroke-width="0.6"/>
<circle cx="44.85" cy="128.99" r="1.25" fill="#fff" stroke="#f07070" stroke-width="0.6"/>
<circle cx="47.73" cy="129.21" r="1.25" fill="#fff" stroke="#f07070" stroke-width="0.6"/>
<circle cx="50.72" cy="129.43" r="1.25" fill="#fff" stroke="#f07070" stroke-width="0.6"/>
<circle cx="53.79" cy="129.66" r="1.25" fill="#fff" stroke="#f07070" stroke-width="0.6"/>
<circle cx="56.90" cy="129.89" r="1.25" fill="#fff" stroke="#f07070" stroke-width="0.6"/>
<circle cx="60.02" cy="130.12" r="1.25" fill="#fff" stroke="#f07070" stroke-width="0.6"/>
<circle cx="63.11" cy="130.34" r="1.25" fill="#fff" stroke="#f07070" stroke-width="0.6"/>
<circle cx="66.16" cy="130.55" r="1.25" fill="#fff" stroke="#f07070" stroke-width="0.6"/>
<circle cx="69.11" cy="130.75" r="1.25" fill="#fff" stroke="#f07070" stroke-width="0.6"/>
<circle cx="71.93" cy="130.93" r="1.25" fill="#fff" stroke="#f07070" stroke-width="0.6"/>
<circle cx="74.60" cy="131.10" r="1.25" fill="#fff" stroke="#f07070" stroke-width="0.6"/>
<circle cx="77.16" cy="131.25" r="1.25" fill="#fff" stroke="#f07070" stroke-width="0.6"/>
<circle cx="79.67" cy="131.40" r="1.25" fill="#fff" stroke="#f07070" stroke-width="0.6"/>
<circle cx="84.61" cy="131.69" r="1.25" fill="#fff" stroke="#f07070" stroke-width="0.6"/>
<circle cx="89.47" cy="131.96" r="1.25" fill="#fff" stroke="#f07070" stroke-width="0.6"/>
<circle cx="94.29" cy="132.21" r="1.25" fill="#fff" stroke="#f07070" stroke-width="0.6"/>
<circle cx="99.14" cy="132.44" r="1.25" fill="#fff" stroke="#f07070" stroke-width="0.6"/>
<circle cx="104.05" cy="132.64" r="1.25" fill="#fff" stroke="#f07070" stroke-width="0.6"/>
<circle cx="106.55" cy="132.74" r="1.25" fill="#fff" stroke="#f07070" stroke-width="0.6"/>
<circle cx="109.09" cy="132.83" r="1.25" fill="#fff" stroke="#f07070" stroke-width="0.6"/>
<circle cx="111.67" cy="132.92" r="1.25" fill="#fff" stroke="#f07070" stroke-width="0.6"/>
<circle cx="114.30" cy="133.00" r="1.25" fill="#fff" stroke="#f07070" stroke-width="0.6"/>
<circle cx="117.06" cy="133.07" r="1.25" fill="#fff" stroke="#f07070" stroke-width="0.6"/>
<circle cx="120.00" cy="133.14" r="1.25" fill="#fff" stroke="#f07070" stroke-width="0.6"/>
<circle cx="123.09" cy="133.20" r="1.25" fill="#fff" stroke="#f07070" stroke-width="0.6"/>
<circle cx="126.29" cy="133.26" r="1.25" fill="#fff" stroke="#f07070" stroke-width="0.6"/>
<circle cx="129.56" cy="133.30" r="1.25" fill="#fff" stroke="#f07070" stroke-width="0.6"/>
<circle cx="132.87" cy="133.35" r="1.25" fill="#fff" stroke="#f07070" stroke-width="0.6"/>
<circle cx="136.17" cy="133.38" r="1.25" fill="#fff" stroke="#f07070" stroke-width="0.6"/>
<circle cx="139.43" cy="133.42" r="1.25" fill="#fff" stroke="#f07070" stroke-width="0.6"/>
<circle cx="142.62" cy="133.45" r="1.25" fill="#fff" stroke="#f07070" stroke-width="0.6"/>
<circle cx="145.68" cy="133.48" r="1.25" fill="#fff" stroke="#f07070" stroke-width="0.6"/>
<circle cx="148.60" cy="133.50" r="1.25" fill="#fff" stroke="#f07070" stroke-width="0.6"/>
<circle cx="151.33" cy="133.52" r="1.25" fill="#fff" stroke="#f07070" stroke-width="0.6"/>
<circle cx="153.83" cy="133.54" r="1.25" fill="#fff" stroke="#f07070" stroke-width="0.6"/>
<circle cx="158.00" cy="133.58" r="1.25" fill="#fff" stroke="#f07070" stroke-width="0.6"/>
<circle cx="159.60" cy="133.60" r="1.25" fill="#fff" stroke="#f07070" stroke-width="0.6"/>
<polyline points="31.20,122.40 31.35,122.81 31.47,123.39 31.59,124.08 31.78,124.83 32.09,125.58 32.58,126.30 33.30,126.92 34.30,127.40 35.54,127.73 36.94,127.96 38.52,128.12 40.31,128.23 42.31,128.31 44.54,128.38 47.04,128.47 49.80,128.60 52.92,128.76 56.40,128.92 60.18,129.08 64.17,129.25 68.31,129.42 72.51,129.58 76.70,129.74 80.80,129.90 84.85,130.06 88.92,130.23 93.04,130.40 97.19,130.56 101.39,130.72 105.64,130.87 109.94,130.99 114.30,131.10 118.76,131.19 123.33,131.27 127.97,131.33 132.66,131.38 137.34,131.41 141.98,131.43 146.55,131.43 151.00,131.40 155.51,131.34 160.20,131.25 164.93,131.14 169.56,131.01 173.96,130.87 177.99,130.73 181.52,130.61 184.40,130.50 186.58,130.41 188.15,130.31 189.23,130.23 189.94,130.14 190.38,130.07 190.68,130.00 190.95,129.94 191.30,129.90" fill="none" stroke="#3f78e6" stroke-width="0.6"/>
<rect x="29.95" y="121.15" width="2.50" height="2.50" fill="#fff" stroke="#3f78e6" stroke-width="0.6"/>
<rect x="31.33" y="125.05" width="2.50" height="2.50" fill="#fff" stroke="#3f78e6" stroke-width="0.6"/>
<rect x="33.65" y="126.33" width="2.50" height="2.50" fill="#fff" stroke="#3f78e6" stroke-width="0.6"/>
<rect x="36.46" y="126.80" width="2.50" height="2.50" fill="#fff" stroke="#3f78e6" stroke-width="0.6"/>
<rect x="39.06" y="126.98" width="2.50" height="2.50" fill="#fff" stroke="#3f78e6" stroke-width="0.6"/>
<rect x="42.15" y="127.10" width="2.50" height="2.50" fill="#fff" stroke="#3f78e6" stroke-width="0.6"/>
<rect x="45.79" y="127.22" width="2.50" height="2.50" fill="#fff" stroke="#3f78e6" stroke-width="0.6"/>
<rect x="48.55" y="127.35" width="2.50" height="2.50" fill="#fff" stroke="#3f78e6" stroke-width="0.6"/>
<rect x="51.67" y="127.51" width="2.50" height="2.50" fill="#fff" stroke="#3f78e6" stroke-width="0.6"/>
<rect x="55.15" y="127.67" width="2.50" height="2.50" fill="#fff" stroke="#3f78e6" stroke-width="0.6"/>
<rect x="58.93" y="127.83" width="2.50" height="2.50" fill="#fff" stroke="#3f78e6" stroke-width="0.6"/>
<rect x="62.92" y="128.00" width="2.50" height="2.50" fill="#fff" stroke="#3f78e6" stroke-width="0.6"/>
<rect x="67.06" y="128.17" width="2.50" height="2.50" fill="#fff" stroke="#3f78e6" stroke-width="0.6"/>
<rect x="71.26" y="128.33" width="2.50" height="2.50" fill="#fff" stroke="#3f78e6" stroke-width="0.6"/>
<rect x="75.45" y="128.49" width="2.50" height="2.50" fill="#fff" stroke="#3f78e6" stroke-width="0.6"/>
<rect x="79.55" y="128.65" width="2.50" height="2.50" fill="#fff" stroke="#3f78e6" stroke-width="0.6"/>
<rect x="83.60" y="128.81" width="2.50" height="2.50" fill="#fff" stroke="#3f78e6" stroke-width="0.6"/>
<rect x="87.67" y="128.98" width="2.50" height="2.50" fill="#fff" stroke="#3f78e6" stroke-width="0.6"/>
<rect x="91.79" y="129.15" width="2.50" height="2.50" fill="#fff" stroke="#3f78e6" stroke-width="0.6"/>
<rect x="95.94" y="129.31" width="2.50" height="2.50" fill="#fff" stroke="#3f78e6" stroke-width="0.6"/>
<rect x="100.14" y="129.47" width="2.50" height="2.50" fill="#fff" stroke="#3f78e6" stroke-width="0.6"/>
<rect x="104.39" y="129.62" width="2.50" height="2.50" fill="#fff" stroke="#3f78e6" stroke-width="0.6"/>
<rect x="108.69" y="129.74" width="2.50" height="2.50" fill="#fff" stroke="#3f78e6" stroke-width="0.6"/>
<rect x="113.05" y="129.85" width="2.50" height="2.50" fill="#fff" stroke="#3f78e6" stroke-width="0.6"/>
<rect x="117.51" y="129.94" width="2.50" height="2.50" fill="#fff" stroke="#3f78e6" stroke-width="0.6"/>
<rect x="122.08" y="130.02" width="2.50" height="2.50" fill="#fff" stroke="#3f78e6" stroke-width="0.6"/>
<rect x="126.72" y="130.08" width="2.50" height="2.50" fill="#fff" stroke="#3f78e6" stroke-width="0.6"/>
<rect x="131.41" y="130.13" width="2.50" height="2.50" fill="#fff" stroke="#3f78e6" stroke-width="0.6"/>
<rect x="136.09" y="130.16" width="2.50" height="2.50" fill="#fff" stroke="#3f78e6" stroke-width="0.6"/>
<rect x="140.73" y="130.18" width="2.50" height="2.50" fill="#fff" stroke="#3f78e6" stroke-width="0.6"/>
<rect x="145.30" y="130.18" width="2.50" height="2.50" fill="#fff" stroke="#3f78e6" stroke-width="0.6"/>
<rect x="149.75" y="130.15" width="2.50" height="2.50" fill="#fff" stroke="#3f78e6" stroke-width="0.6"/>
<rect x="154.26" y="130.09" width="2.50" height="2.50" fill="#fff" stroke="#3f78e6" stroke-width="0.6"/>
<rect x="158.95" y="130.00" width="2.50" height="2.50" fill="#fff" stroke="#3f78e6" stroke-width="0.6"/>
<rect x="163.68" y="129.89" width="2.50" height="2.50" fill="#fff" stroke="#3f78e6" stroke-width="0.6"/>
<rect x="168.31" y="129.76" width="2.50" height="2.50" fill="#fff" stroke="#3f78e6" stroke-width="0.6"/>
<rect x="172.71" y="129.62" width="2.50" height="2.50" fill="#fff" stroke="#3f78e6" stroke-width="0.6"/>
<rect x="176.74" y="129.48" width="2.50" height="2.50" fill="#fff" stroke="#3f78e6" stroke-width="0.6"/>
<rect x="180.27" y="129.36" width="2.50" height="2.50" fill="#fff" stroke="#3f78e6" stroke-width="0.6"/>
<rect x="183.15" y="129.25" width="2.50" height="2.50" fill="#fff" stroke="#3f78e6" stroke-width="0.6"/>
<rect x="186.18" y="129.11" width="2.50" height="2.50" fill="#fff" stroke="#3f78e6" stroke-width="0.6"/>
<rect x="188.94" y="128.85" width="2.50" height="2.50" fill="#fff" stroke="#3f78e6" stroke-width="0.6"/>
<rect x="190.05" y="128.65" width="2.50" height="2.50" fill="#fff" stroke="#3f78e6" stroke-width="0.6"/>
<polyline points="277.10,38.10 277.55,38.51 278.13,39.05 278.83,39.69 279.61,40.41 280.45,41.18 281.31,41.97 282.17,42.75 283.00,43.50 283.65,44.17 284.09,44.76 284.45,45.34 284.87,45.94 285.50,46.62 286.47,47.44 287.92,48.45 290.00,49.70 292.86,51.27 296.44,53.16 300.54,55.26 304.96,57.48 309.52,59.73 314.00,61.91 318.23,63.93 322.00,65.70 325.35,67.21 328.49,68.57 331.47,69.80 334.32,70.94 337.12,72.04 339.90,73.12 342.71,74.23 345.60,75.40 348.58,76.62 351.62,77.85 354.67,79.09 357.71,80.33 360.72,81.55 363.65,82.76 366.49,83.94 369.20,85.10 371.80,86.23 374.31,87.33 376.75,88.41 379.11,89.48 381.39,90.53 383.60,91.56 385.73,92.59 387.80,93.60 389.78,94.60 391.66,95.57 393.46,96.53 395.19,97.48 396.86,98.42 398.50,99.36 400.10,100.30 401.70,101.25 403.32,102.21 404.95,103.16 406.58,104.11 408.16,105.07 409.65,106.02 411.03,106.98 412.26,107.94 413.30,108.90 414.09,109.90 414.63,110.94 414.99,112.01 415.24,113.07 415.47,114.10 415.74,115.06 416.13,115.94 416.70,116.70 417.46,117.31 418.35,117.79 419.32,118.17 420.34,118.49 421.40,118.79 422.44,119.12 423.46,119.51 424.40,120.00 425.30,120.58 426.20,121.20 427.08,121.86 427.95,122.56 428.79,123.28 429.60,124.03 430.37,124.81 431.10,125.60 431.80,126.47 432.49,127.46 433.15,128.50 433.77,129.55 434.34,130.56 434.84,131.47 435.27,132.23 435.60,132.80" fill="none" stroke="#000" stroke-width="0.8"/>
<rect x="275.40" y="36.40" width="3.40" height="3.40" fill="#000"/>
<rect x="277.51" y="38.35" width="3.40" height="3.40" fill="#000"/>
<rect x="279.61" y="40.27" width="3.40" height="3.40" fill="#000"/>
<rect x="281.66" y="42.15" width="3.40" height="3.40" fill="#000"/>
<rect x="282.57" y="43.35" width="3.40" height="3.40" fill="#000"/>
<rect x="284.23" y="45.31" width="3.40" height="3.40" fill="#000"/>
<rect x="287.17" y="47.34" width="3.40" height="3.40" fill="#000"/>
<rect x="291.16" y="49.57" width="3.40" height="3.40" fill="#000"/>
<rect x="294.74" y="51.46" width="3.40" height="3.40" fill="#000"/>
<rect x="298.84" y="53.56" width="3.40" height="3.40" fill="#000"/>
<rect x="303.26" y="55.78" width="3.40" height="3.40" fill="#000"/>
<rect x="307.82" y="58.03" width="3.40" height="3.40" fill="#000"/>
<rect x="312.30" y="60.21" width="3.40" height="3.40" fill="#000"/>
<rect x="316.53" y="62.23" width="3.40" height="3.40" fill="#000"/>
<rect x="320.30" y="64.00" width="3.40" height="3.40" fill="#000"/>
<rect x="325.24" y="66.21" width="3.40" height="3.40" fill="#000"/>
<rect x="329.77" y="68.10" width="3.40" height="3.40" fill="#000"/>
<rect x="334.03" y="69.80" width="3.40" height="3.40" fill="#000"/>
<rect x="338.20" y="71.42" width="3.40" height="3.40" fill="#000"/>
<rect x="342.44" y="73.11" width="3.40" height="3.40" fill="#000"/>
<rect x="346.88" y="74.92" width="3.40" height="3.40" fill="#000"/>
<rect x="351.44" y="76.77" width="3.40" height="3.40" fill="#000"/>
<rect x="356.01" y="78.62" width="3.40" height="3.40" fill="#000"/>
<rect x="360.49" y="80.46" width="3.40" height="3.40" fill="#000"/>
<rect x="364.79" y="82.24" width="3.40" height="3.40" fill="#000"/>
<rect x="368.81" y="83.97" width="3.40" height="3.40" fill="#000"/>
<rect x="372.61" y="85.63" width="3.40" height="3.40" fill="#000"/>
<rect x="376.24" y="87.25" width="3.40" height="3.40" fill="#000"/>
<rect x="379.69" y="88.83" width="3.40" height="3.40" fill="#000"/>
<rect x="384.03" y="90.89" width="3.40" height="3.40" fill="#000"/>
<rect x="388.08" y="92.90" width="3.40" height="3.40" fill="#000"/>
<rect x="391.76" y="94.83" width="3.40" height="3.40" fill="#000"/>
<rect x="395.16" y="96.72" width="3.40" height="3.40" fill="#000"/>
<rect x="398.40" y="98.60" width="3.40" height="3.40" fill="#000"/>
<rect x="401.62" y="100.51" width="3.40" height="3.40" fill="#000"/>
<rect x="404.88" y="102.41" width="3.40" height="3.40" fill="#000"/>
<rect x="407.95" y="104.32" width="3.40" height="3.40" fill="#000"/>
<rect x="410.56" y="106.24" width="3.40" height="3.40" fill="#000"/>
<rect x="412.03" y="107.69" width="3.40" height="3.40" fill="#000"/>
<rect x="412.68" y="108.72" width="3.40" height="3.40" fill="#000"/>
<rect x="413.12" y="109.78" width="3.40" height="3.40" fill="#000"/>
<rect x="413.42" y="110.84" width="3.40" height="3.40" fill="#000"/>
<rect x="413.66" y="111.89" width="3.40" height="3.40" fill="#000"/>
<rect x="413.90" y="112.89" width="3.40" height="3.40" fill="#000"/>
<rect x="414.43" y="114.24" width="3.40" height="3.40" fill="#000"/>
<rect x="418.12" y="116.63" width="3.40" height="3.40" fill="#000"/>
<rect x="422.24" y="118.04" width="3.40" height="3.40" fill="#000"/>
<rect x="424.94" y="119.83" width="3.40" height="3.40" fill="#000"/>
<rect x="427.09" y="121.58" width="3.40" height="3.40" fill="#000"/>
<rect x="429.04" y="123.50" width="3.40" height="3.40" fill="#000"/>
<rect x="430.44" y="125.25" width="3.40" height="3.40" fill="#000"/>
<rect x="431.45" y="126.80" width="3.40" height="3.40" fill="#000"/>
<rect x="432.07" y="127.85" width="3.40" height="3.40" fill="#000"/>
<rect x="432.64" y="128.86" width="3.40" height="3.40" fill="#000"/>
<rect x="433.37" y="130.17" width="3.40" height="3.40" fill="#000"/>
<rect x="433.90" y="131.10" width="3.40" height="3.40" fill="#000"/>
<polyline points="270.30,20.00 270.30,21.00 270.28,22.40 270.25,24.08 270.24,25.91 270.25,27.74 270.30,29.46 270.41,30.92 270.60,32.00 270.86,32.69 271.19,33.11 271.56,33.32 271.99,33.39 272.45,33.38 272.94,33.35 273.46,33.37 274.00,33.50 274.58,33.67 275.24,33.79 275.93,33.89 276.65,34.01 277.37,34.17 278.06,34.42 278.72,34.79 279.30,35.30 279.79,36.01 280.21,36.91 280.57,37.93 280.92,39.03 281.27,40.15 281.67,41.24 282.13,42.24 282.70,43.10 283.37,43.83 284.12,44.50 284.94,45.11 285.79,45.67 286.68,46.19 287.57,46.68 288.45,47.15 289.30,47.60 290.08,47.97 290.78,48.20 291.45,48.37 292.14,48.53 292.89,48.74 293.75,49.07 294.77,49.57 296.00,50.30 297.42,51.29 298.99,52.49 300.69,53.85 302.51,55.33 304.45,56.88 306.48,58.46 308.60,60.01 310.80,61.50 313.12,62.96 315.60,64.45 318.20,65.97 320.88,67.49 323.60,69.00 326.34,70.48 329.05,71.92 331.70,73.30 334.37,74.65 337.13,75.97 339.93,77.28 342.71,78.55 345.41,79.78 347.98,80.95 350.36,82.06 352.50,83.10 354.31,84.02 355.81,84.82 357.10,85.53 358.28,86.19 359.42,86.86 360.62,87.57 361.99,88.37 363.60,89.30 365.47,90.33 367.50,91.42 369.66,92.56 371.90,93.76 374.18,95.02 376.45,96.34 378.67,97.74 380.80,99.20 382.90,100.81 385.03,102.60 387.17,104.51 389.27,106.45 391.31,108.37 393.25,110.20 395.06,111.86 396.70,113.30 398.17,114.50 399.50,115.52 400.70,116.40 401.80,117.18 402.82,117.89 403.78,118.58 404.70,119.27 405.60,120.00 406.48,120.77 407.30,121.53 408.08,122.28 408.80,123.01 409.47,123.72 410.07,124.39 410.62,125.02 411.10,125.60 411.51,126.12 411.85,126.57 412.12,126.98 412.33,127.36 412.50,127.72 412.63,128.09 412.72,128.47 412.80,128.90 412.83,129.39 412.80,129.92 412.72,130.49 412.61,131.06 412.48,131.60 412.36,132.09 412.26,132.50 412.20,132.80" fill="none" stroke="#f21c1c" stroke-width="0.8"/>
<circle cx="270.30" cy="20.00" r="1.75" fill="#f21c1c"/>
<circle cx="270.29" cy="21.66" r="1.75" fill="#f21c1c"/>
<circle cx="270.27" cy="23.22" r="1.75" fill="#f21c1c"/>
<circle cx="270.24" cy="24.98" r="1.75" fill="#f21c1c"/>
<circle cx="270.24" cy="26.83" r="1.75" fill="#f21c1c"/>
<circle cx="270.27" cy="28.62" r="1.75" fill="#f21c1c"/>
<circle cx="270.35" cy="30.23" r="1.75" fill="#f21c1c"/>
<circle cx="270.50" cy="31.52" r="1.75" fill="#f21c1c"/>
<circle cx="270.86" cy="32.69" r="1.75" fill="#f21c1c"/>
<circle cx="275.24" cy="33.79" r="1.75" fill="#f21c1c"/>
<circle cx="278.72" cy="34.79" r="1.75" fill="#f21c1c"/>
<circle cx="279.79" cy="36.01" r="1.75" fill="#f21c1c"/>
<circle cx="280.40" cy="37.41" r="1.75" fill="#f21c1c"/>
<circle cx="280.75" cy="38.47" r="1.75" fill="#f21c1c"/>
<circle cx="281.09" cy="39.59" r="1.75" fill="#f21c1c"/>
<circle cx="281.46" cy="40.70" r="1.75" fill="#f21c1c"/>
<circle cx="281.89" cy="41.76" r="1.75" fill="#f21c1c"/>
<circle cx="283.02" cy="43.48" r="1.75" fill="#f21c1c"/>
<circle cx="285.79" cy="45.67" r="1.75" fill="#f21c1c"/>
<circle cx="289.30" cy="47.60" r="1.75" fill="#f21c1c"/>
<circle cx="293.30" cy="48.89" r="1.75" fill="#f21c1c"/>
<circle cx="296.69" cy="50.77" r="1.75" fill="#f21c1c"/>
<circle cx="298.99" cy="52.49" r="1.75" fill="#f21c1c"/>
<circle cx="301.59" cy="54.58" r="1.75" fill="#f21c1c"/>
<circle cx="304.45" cy="56.88" r="1.75" fill="#f21c1c"/>
<circle cx="307.53" cy="59.24" r="1.75" fill="#f21c1c"/>
<circle cx="310.80" cy="61.50" r="1.75" fill="#f21c1c"/>
<circle cx="314.34" cy="63.70" r="1.75" fill="#f21c1c"/>
<circle cx="318.20" cy="65.97" r="1.75" fill="#f21c1c"/>
<circle cx="322.23" cy="68.24" r="1.75" fill="#f21c1c"/>
<circle cx="326.34" cy="70.48" r="1.75" fill="#f21c1c"/>
<circle cx="330.39" cy="72.62" r="1.75" fill="#f21c1c"/>
<circle cx="334.37" cy="74.65" r="1.75" fill="#f21c1c"/>
<circle cx="338.53" cy="76.63" r="1.75" fill="#f21c1c"/>
<circle cx="342.71" cy="78.55" r="1.75" fill="#f21c1c"/>
<circle cx="346.72" cy="80.37" r="1.75" fill="#f21c1c"/>
<circle cx="350.36" cy="82.06" r="1.75" fill="#f21c1c"/>
<circle cx="354.31" cy="84.02" r="1.75" fill="#f21c1c"/>
<circle cx="357.70" cy="85.86" r="1.75" fill="#f21c1c"/>
<circle cx="361.28" cy="87.96" r="1.75" fill="#f21c1c"/>
<circle cx="364.51" cy="89.81" r="1.75" fill="#f21c1c"/>
<circle cx="368.57" cy="91.98" r="1.75" fill="#f21c1c"/>
<circle cx="371.90" cy="93.76" r="1.75" fill="#f21c1c"/>
<circle cx="375.32" cy="95.67" r="1.75" fill="#f21c1c"/>
<circle cx="378.67" cy="97.74" r="1.75" fill="#f21c1c"/>
<circle cx="381.84" cy="99.98" r="1.75" fill="#f21c1c"/>
<circle cx="385.03" cy="102.60" r="1.75" fill="#f21c1c"/>
<circle cx="387.17" cy="104.51" r="1.75" fill="#f21c1c"/>
<circle cx="389.27" cy="106.45" r="1.75" fill="#f21c1c"/>
<circle cx="391.31" cy="108.37" r="1.75" fill="#f21c1c"/>
<circle cx="393.25" cy="110.20" r="1.75" fill="#f21c1c"/>
<circle cx="395.90" cy="112.61" r="1.75" fill="#f21c1c"/>
<circle cx="398.17" cy="114.50" r="1.75" fill="#f21c1c"/>
<circle cx="400.70" cy="116.40" r="1.75" fill="#f21c1c"/>
<circle cx="403.30" cy="118.24" r="1.75" fill="#f21c1c"/>
<circle cx="405.60" cy="120.00" r="1.75" fill="#f21c1c"/>
<circle cx="407.70" cy="121.91" r="1.75" fill="#f21c1c"/>
<circle cx="409.47" cy="123.72" r="1.75" fill="#f21c1c"/>
<circle cx="410.87" cy="125.32" r="1.75" fill="#f21c1c"/>
<circle cx="411.85" cy="126.57" r="1.75" fill="#f21c1c"/>
<circle cx="412.42" cy="127.54" r="1.75" fill="#f21c1c"/>
<circle cx="412.76" cy="128.68" r="1.75" fill="#f21c1c"/>
<circle cx="412.80" cy="129.92" r="1.75" fill="#f21c1c"/>
<circle cx="412.61" cy="131.06" r="1.75" fill="#f21c1c"/>
<circle cx="412.36" cy="132.09" r="1.75" fill="#f21c1c"/>
<circle cx="412.20" cy="132.80" r="1.75" fill="#f21c1c"/>
<polyline points="269.90,17.60 269.88,19.26 269.84,21.61 269.79,24.41 269.74,27.45 269.71,30.51 269.72,33.37 269.78,35.81 269.90,37.60 270.09,38.74 270.32,39.45 270.60,39.81 270.92,39.93 271.27,39.90 271.66,39.84 272.07,39.84 272.50,40.00 272.96,40.26 273.46,40.48 273.98,40.69 274.54,40.90 275.12,41.12 275.72,41.37 276.35,41.66 277.00,42.00 277.67,42.40 278.37,42.84 279.10,43.31 279.84,43.81 280.61,44.34 281.39,44.88 282.19,45.44 283.00,46.00 283.80,46.55 284.59,47.10 285.38,47.65 286.19,48.22 287.04,48.82 287.95,49.48 288.93,50.20 290.00,51.00 291.19,51.90 292.50,52.88 293.88,53.94 295.32,55.04 296.79,56.17 298.24,57.31 299.66,58.42 301.00,59.50 302.30,60.56 303.60,61.62 304.89,62.69 306.15,63.75 307.38,64.80 308.57,65.83 309.72,66.83 310.80,67.80 311.84,68.73 312.85,69.62 313.81,70.49 314.74,71.33 315.61,72.17 316.41,73.00 317.15,73.84 317.80,74.70 318.38,75.57 318.91,76.43 319.37,77.29 319.77,78.16 320.09,79.03 320.34,79.91 320.51,80.80 320.60,81.70 320.58,82.63 320.45,83.60 320.23,84.59 319.94,85.58 319.61,86.56 319.24,87.52 318.86,88.44 318.50,89.30 318.11,90.13 317.67,90.95 317.19,91.74 316.69,92.50 316.21,93.22 315.75,93.88 315.34,94.48 315.00,95.00 314.73,95.44 314.51,95.81 314.33,96.11 314.18,96.36 314.06,96.56 313.96,96.73 313.88,96.87 313.80,97.00" fill="none" stroke="#1a5ee0" stroke-width="3.0" stroke-linejoin="round" stroke-linecap="round"/>
<rect x="268.70" y="37.00" width="3.40" height="3.40" fill="#000"/>
<rect x="269.30" y="37.80" width="3.40" height="3.40" fill="#000"/>
<rect x="273.20" y="32.00" width="3.40" height="3.40" fill="#000"/>
<rect x="270.40" y="22.00" width="3.40" height="3.40" fill="#000"/>
<path d="M271.16,26.83L275.24,26.83L273.20,23.26Z" fill="#1a5ee0"/>
<path d="M270.06,30.23L274.14,30.23L272.10,26.66Z" fill="#1a5ee0"/>
<path d="M271.76,36.83L275.84,36.83L273.80,33.26Z" fill="#1a5ee0"/>
<path d="M269.46,22.03L273.54,22.03L271.50,18.46Z" fill="#1a5ee0"/>
<path d="M272.26,28.53L276.34,28.53L274.30,24.96Z" fill="#1a5ee0"/>
<polyline points="275.00,110.00 275.28,110.32 275.55,110.79 275.85,111.35 276.25,111.95 276.81,112.55 277.58,113.08 278.62,113.49 280.00,113.75 281.51,113.83 283.01,113.77 284.64,113.61 286.56,113.39 288.91,113.13 291.84,112.88 295.48,112.65 300.00,112.50 305.86,112.40 313.12,112.33 321.33,112.28 330.00,112.23 338.67,112.18 346.88,112.14 354.14,112.08 360.00,112.00 364.34,111.89 367.55,111.75 369.95,111.59 371.81,111.43 373.45,111.29 375.16,111.17 377.25,111.11 380.00,111.10 383.39,111.17 387.13,111.32 391.10,111.52 395.21,111.74 399.36,111.98 403.44,112.19 407.36,112.38 411.00,112.50 414.55,112.57 418.18,112.60 421.77,112.60 425.24,112.59 428.46,112.56 431.33,112.53 433.75,112.51 435.60,112.50" fill="none" stroke="#858585" stroke-width="0.6"/>
<rect x="273.75" y="108.75" width="2.50" height="2.50" fill="#fff" stroke="#858585" stroke-width="0.6"/>
<rect x="275.91" y="111.57" width="2.50" height="2.50" fill="#fff" stroke="#858585" stroke-width="0.6"/>
<rect x="278.75" y="112.50" width="2.50" height="2.50" fill="#fff" stroke="#858585" stroke-width="0.6"/>
<rect x="281.76" y="112.52" width="2.50" height="2.50" fill="#fff" stroke="#858585" stroke-width="0.6"/>
<rect x="284.31" y="112.26" width="2.50" height="2.50" fill="#fff" stroke="#858585" stroke-width="0.6"/>
<rect x="287.66" y="111.88" width="2.50" height="2.50" fill="#fff" stroke="#858585" stroke-width="0.6"/>
<rect x="290.59" y="111.63" width="2.50" height="2.50" fill="#fff" stroke="#858585" stroke-width="0.6"/>
<rect x="294.23" y="111.40" width="2.50" height="2.50" fill="#fff" stroke="#858585" stroke-width="0.6"/>
<rect x="298.75" y="111.25" width="2.50" height="2.50" fill="#fff" stroke="#858585" stroke-width="0.6"/>
<rect x="301.47" y="111.20" width="2.50" height="2.50" fill="#fff" stroke="#858585" stroke-width="0.6"/>
<rect x="304.61" y="111.15" width="2.50" height="2.50" fill="#fff" stroke="#858585" stroke-width="0.6"/>
<rect x="308.10" y="111.12" width="2.50" height="2.50" fill="#fff" stroke="#858585" stroke-width="0.6"/>
<rect x="311.88" y="111.08" width="2.50" height="2.50" fill="#fff" stroke="#858585" stroke-width="0.6"/>
<rect x="315.89" y="111.05" width="2.50" height="2.50" fill="#fff" stroke="#858585" stroke-width="0.6"/>
<rect x="320.08" y="111.03" width="2.50" height="2.50" fill="#fff" stroke="#858585" stroke-width="0.6"/>
<rect x="324.38" y="111.00" width="2.50" height="2.50" fill="#fff" stroke="#858585" stroke-width="0.6"/>
<rect x="328.75" y="110.98" width="2.50" height="2.50" fill="#fff" stroke="#858585" stroke-width="0.6"/>
<rect x="333.12" y="110.96" width="2.50" height="2.50" fill="#fff" stroke="#858585" stroke-width="0.6"/>
<rect x="337.42" y="110.93" width="2.50" height="2.50" fill="#fff" stroke="#858585" stroke-width="0.6"/>
<rect x="341.61" y="110.91" width="2.50" height="2.50" fill="#fff" stroke="#858585" stroke-width="0.6"/>
<rect x="345.62" y="110.89" width="2.50" height="2.50" fill="#fff" stroke="#858585" stroke-width="0.6"/>
<rect x="349.40" y="110.86" width="2.50" height="2.50" fill="#fff" stroke="#858585" stroke-width="0.6"/>
<rect x="352.89" y="110.83" width="2.50" height="2.50" fill="#fff" stroke="#858585" stroke-width="0.6"/>
<rect x="356.03" y="110.79" width="2.50" height="2.50" fill="#fff" stroke="#858585" stroke-width="0.6"/>
<rect x="358.75" y="110.75" width="2.50" height="2.50" fill="#fff" stroke="#858585" stroke-width="0.6"/>
<rect x="363.09" y="110.64" width="2.50" height="2.50" fill="#fff" stroke="#858585" stroke-width="0.6"/>
<rect x="366.30" y="110.50" width="2.50" height="2.50" fill="#fff" stroke="#858585" stroke-width="0.6"/>
<rect x="369.68" y="110.26" width="2.50" height="2.50" fill="#fff" stroke="#858585" stroke-width="0.6"/>
<rect x="372.20" y="110.04" width="2.50" height="2.50" fill="#fff" stroke="#858585" stroke-width="0.6"/>
<rect x="374.89" y="109.88" width="2.50" height="2.50" fill="#fff" stroke="#858585" stroke-width="0.6"/>
<rect x="378.75" y="109.85" width="2.50" height="2.50" fill="#fff" stroke="#858585" stroke-width="0.6"/>
<rect x="382.14" y="109.92" width="2.50" height="2.50" fill="#fff" stroke="#858585" stroke-width="0.6"/>
<rect x="385.88" y="110.07" width="2.50" height="2.50" fill="#fff" stroke="#858585" stroke-width="0.6"/>
<rect x="389.85" y="110.27" width="2.50" height="2.50" fill="#fff" stroke="#858585" stroke-width="0.6"/>
<rect x="393.96" y="110.49" width="2.50" height="2.50" fill="#fff" stroke="#858585" stroke-width="0.6"/>
<rect x="398.11" y="110.73" width="2.50" height="2.50" fill="#fff" stroke="#858585" stroke-width="0.6"/>
<rect x="402.19" y="110.94" width="2.50" height="2.50" fill="#fff" stroke="#858585" stroke-width="0.6"/>
<rect x="406.11" y="111.13" width="2.50" height="2.50" fill="#fff" stroke="#858585" stroke-width="0.6"/>
<rect x="409.75" y="111.25" width="2.50" height="2.50" fill="#fff" stroke="#858585" stroke-width="0.6"/>
<rect x="413.30" y="111.32" width="2.50" height="2.50" fill="#fff" stroke="#858585" stroke-width="0.6"/>
<rect x="416.93" y="111.35" width="2.50" height="2.50" fill="#fff" stroke="#858585" stroke-width="0.6"/>
<rect x="420.52" y="111.35" width="2.50" height="2.50" fill="#fff" stroke="#858585" stroke-width="0.6"/>
<rect x="423.99" y="111.34" width="2.50" height="2.50" fill="#fff" stroke="#858585" stroke-width="0.6"/>
<rect x="427.21" y="111.31" width="2.50" height="2.50" fill="#fff" stroke="#858585" stroke-width="0.6"/>
<rect x="430.08" y="111.28" width="2.50" height="2.50" fill="#fff" stroke="#858585" stroke-width="0.6"/>
<rect x="433.50" y="111.25" width="2.50" height="2.50" fill="#fff" stroke="#858585" stroke-width="0.6"/>
<rect x="434.35" y="111.25" width="2.50" height="2.50" fill="#fff" stroke="#858585" stroke-width="0.6"/>
<polyline points="275.40,92.60 275.34,93.67 275.20,95.15 275.03,96.92 274.88,98.86 274.79,100.84 274.81,102.74 275.00,104.43 275.40,105.80 275.89,106.89 276.36,107.85 276.91,108.68 277.62,109.40 278.57,110.00 279.86,110.51 281.55,110.92 283.75,111.25 286.47,111.47 289.63,111.55 293.19,111.52 297.08,111.40 301.27,111.22 305.68,110.99 310.28,110.74 315.00,110.50 319.91,110.21 325.09,109.83 330.50,109.39 336.12,108.93 341.91,108.48 347.84,108.07 353.88,107.73 360.00,107.50 366.63,107.37 373.99,107.30 381.71,107.29 389.45,107.32 396.84,107.40 403.51,107.51 409.12,107.65 413.30,107.80 415.87,108.00 417.09,108.27 417.27,108.58 416.73,108.92 415.77,109.25 414.71,109.56 413.85,109.82 413.50,110.00" fill="none" stroke="#f07070" stroke-width="0.6"/>
<circle cx="275.40" cy="92.60" r="1.25" fill="#fff" stroke="#f07070" stroke-width="0.6"/>
<circle cx="275.17" cy="105.16" r="1.25" fill="#fff" stroke="#f07070" stroke-width="0.6"/>
<circle cx="277.24" cy="109.05" r="1.25" fill="#fff" stroke="#f07070" stroke-width="0.6"/>
<circle cx="279.86" cy="110.51" r="1.25" fill="#fff" stroke="#f07070" stroke-width="0.6"/>
<circle cx="282.58" cy="111.09" r="1.25" fill="#fff" stroke="#f07070" stroke-width="0.6"/>
<circle cx="286.47" cy="111.47" r="1.25" fill="#fff" stroke="#f07070" stroke-width="0.6"/>
<circle cx="289.63" cy="111.55" r="1.25" fill="#fff" stroke="#f07070" stroke-width="0.6"/>
<circle cx="293.19" cy="111.52" r="1.25" fill="#fff" stroke="#f07070" stroke-width="0.6"/>
<circle cx="297.08" cy="111.40" r="1.25" fill="#fff" stroke="#f07070" stroke-width="0.6"/>
<circle cx="301.27" cy="111.22" r="1.25" fill="#fff" stroke="#f07070" stroke-width="0.6"/>
<circle cx="305.68" cy="110.99" r="1.25" fill="#fff" stroke="#f07070" stroke-width="0.6"/>
<circle cx="310.28" cy="110.74" r="1.25" fill="#fff" stroke="#f07070" stroke-width="0.6"/>
<circle cx="315.00" cy="110.50" r="1.25" fill="#fff" stroke="#f07070" stroke-width="0.6"/>
<circle cx="319.91" cy="110.21" r="1.25" fill="#fff" stroke="#f07070" stroke-width="0.6"/>
<circle cx="322.47" cy="110.03" r="1.25" fill="#fff" stroke="#f07070" stroke-width="0.6"/>
<circle cx="325.09" cy="109.83" r="1.25" fill="#fff" stroke="#f07070" stroke-width="0.6"/>
<circle cx="327.77" cy="109.62" r="1.25" fill="#fff" stroke="#f07070" stroke-width="0.6"/>
<circle cx="330.50" cy="109.39" r="1.25" fill="#fff" stroke="#f07070" stroke-width="0.6"/>
<circle cx="333.29" cy="109.17" r="1.25" fill="#fff" stroke="#f07070" stroke-width="0.6"/>
<circle cx="336.12" cy="108.93" r="1.25" fill="#fff" stroke="#f07070" stroke-width="0.6"/>
<circle cx="339.00" cy="108.71" r="1.25" fill="#fff" stroke="#f07070" stroke-width="0.6"/>
<circle cx="341.91" cy="108.48" r="1.25" fill="#fff" stroke="#f07070" stroke-width="0.6"/>
<circle cx="344.86" cy="108.27" r="1.25" fill="#fff" stroke="#f07070" stroke-width="0.6"/>
<circle cx="347.84" cy="108.07" r="1.25" fill="#fff" stroke="#f07070" stroke-width="0.6"/>
<circle cx="350.85" cy="107.89" r="1.25" fill="#fff" stroke="#f07070" stroke-width="0.6"/>
<circle cx="353.88" cy="107.73" r="1.25" fill="#fff" stroke="#f07070" stroke-width="0.6"/>
<circle cx="356.93" cy="107.60" r="1.25" fill="#fff" stroke="#f07070" stroke-width="0.6"/>
<circle cx="360.00" cy="107.50" r="1.25" fill="#fff" stroke="#f07070" stroke-width="0.6"/>
<circle cx="363.20" cy="107.42" r="1.25" fill="#fff" stroke="#f07070" stroke-width="0.6"/>
<circle cx="366.63" cy="107.37" r="1.25" fill="#fff" stroke="#f07070" stroke-width="0.6"/>
<circle cx="370.24" cy="107.32" r="1.25" fill="#fff" stroke="#f07070" stroke-width="0.6"/>
<circle cx="373.99" cy="107.30" r="1.25" fill="#fff" stroke="#f07070" stroke-width="0.6"/>
<circle cx="377.83" cy="107.29" r="1.25" fill="#fff" stroke="#f07070" stroke-width="0.6"/>
<circle cx="381.71" cy="107.29" r="1.25" fill="#fff" stroke="#f07070" stroke-width="0.6"/>
<circle cx="385.60" cy="107.30" r="1.25" fill="#fff" stroke="#f07070" stroke-width="0.6"/>
<circle cx="389.45" cy="107.32" r="1.25" fill="#fff" stroke="#f07070" stroke-width="0.6"/>
<circle cx="393.21" cy="107.36" r="1.25" fill="#fff" stroke="#f07070" stroke-width="0.6"/>
<circle cx="396.84" cy="107.40" r="1.25" fill="#fff" stroke="#f07070" stroke-width="0.6"/>
<circle cx="400.29" cy="107.46" r="1.25" fill="#fff" stroke="#f07070" stroke-width="0.6"/>
<circle cx="403.51" cy="107.51" r="1.25" fill="#fff" stroke="#f07070" stroke-width="0.6"/>
<circle cx="406.47" cy="107.58" r="1.25" fill="#fff" stroke="#f07070" stroke-width="0.6"/>
<circle cx="409.12" cy="107.65" r="1.25" fill="#fff" stroke="#f07070" stroke-width="0.6"/>
<circle cx="413.30" cy="107.80" r="1.25" fill="#fff" stroke="#f07070" stroke-width="0.6"/>
<circle cx="415.87" cy="108.00" r="1.25" fill="#fff" stroke="#f07070" stroke-width="0.6"/>
<circle cx="416.28" cy="109.09" r="1.25" fill="#fff" stroke="#f07070" stroke-width="0.6"/>
<circle cx="413.59" cy="109.92" r="1.25" fill="#fff" stroke="#f07070" stroke-width="0.6"/>
<circle cx="413.50" cy="110.00" r="1.25" fill="#fff" stroke="#f07070" stroke-width="0.6"/>
<polyline points="275.40,93.60 275.73,94.26 276.16,95.20 276.67,96.32 277.24,97.53 277.85,98.74 278.48,99.85 279.10,100.77 279.70,101.40 280.22,101.74 280.66,101.87 281.07,101.84 281.51,101.70 282.03,101.49 282.68,101.25 283.52,101.04 284.60,100.90 285.96,100.80 287.57,100.68 289.36,100.56 291.29,100.43 293.30,100.29 295.32,100.15 297.31,100.02 299.20,99.90 301.07,99.77 303.01,99.64 304.97,99.49 306.93,99.36 308.82,99.23 310.63,99.12 312.30,99.04 313.80,99.00 315.15,99.00 316.41,99.04 317.57,99.11 318.61,99.19 319.55,99.29 320.36,99.38 321.04,99.45 321.60,99.50" fill="none" stroke="#3f78e6" stroke-width="0.6"/>
<rect x="274.15" y="92.35" width="2.50" height="2.50" fill="#fff" stroke="#3f78e6" stroke-width="0.6"/>
<rect x="276.60" y="97.49" width="2.50" height="2.50" fill="#fff" stroke="#3f78e6" stroke-width="0.6"/>
<rect x="278.72" y="100.35" width="2.50" height="2.50" fill="#fff" stroke="#3f78e6" stroke-width="0.6"/>
<rect x="281.43" y="100.00" width="2.50" height="2.50" fill="#fff" stroke="#3f78e6" stroke-width="0.6"/>
<rect x="284.00" y="99.60" width="2.50" height="2.50" fill="#fff" stroke="#3f78e6" stroke-width="0.6"/>
<rect x="287.20" y="99.37" width="2.50" height="2.50" fill="#fff" stroke="#3f78e6" stroke-width="0.6"/>
<rect x="290.04" y="99.18" width="2.50" height="2.50" fill="#fff" stroke="#3f78e6" stroke-width="0.6"/>
<rect x="293.06" y="98.97" width="2.50" height="2.50" fill="#fff" stroke="#3f78e6" stroke-width="0.6"/>
<rect x="296.06" y="98.77" width="2.50" height="2.50" fill="#fff" stroke="#3f78e6" stroke-width="0.6"/>
<rect x="298.87" y="98.59" width="2.50" height="2.50" fill="#fff" stroke="#3f78e6" stroke-width="0.6"/>
<rect x="301.76" y="98.39" width="2.50" height="2.50" fill="#fff" stroke="#3f78e6" stroke-width="0.6"/>
<rect x="304.70" y="98.17" width="2.50" height="2.50" fill="#fff" stroke="#3f78e6" stroke-width="0.6"/>
<rect x="307.57" y="97.98" width="2.50" height="2.50" fill="#fff" stroke="#3f78e6" stroke-width="0.6"/>
<rect x="310.23" y="97.83" width="2.50" height="2.50" fill="#fff" stroke="#3f78e6" stroke-width="0.6"/>
<rect x="313.24" y="97.74" width="2.50" height="2.50" fill="#fff" stroke="#3f78e6" stroke-width="0.6"/>
<rect x="315.75" y="97.82" width="2.50" height="2.50" fill="#fff" stroke="#3f78e6" stroke-width="0.6"/>
<rect x="318.30" y="98.04" width="2.50" height="2.50" fill="#fff" stroke="#3f78e6" stroke-width="0.6"/>
<rect x="320.35" y="98.25" width="2.50" height="2.50" fill="#fff" stroke="#3f78e6" stroke-width="0.6"/>
<polyline points="514.00,22.00 514.05,23.04 514.11,24.48 514.18,26.19 514.26,28.06 514.36,29.99 514.48,31.87 514.63,33.57 514.80,35.00 514.99,36.17 515.19,37.21 515.40,38.13 515.64,38.97 515.91,39.75 516.22,40.50 516.58,41.24 517.00,42.00 517.44,42.74 517.87,43.41 518.32,44.04 518.83,44.66 519.42,45.28 520.12,45.95 520.97,46.68 522.00,47.50 523.19,48.40 524.52,49.36 525.98,50.36 527.56,51.41 529.26,52.50 531.07,53.63 532.99,54.80 535.00,56.00 537.22,57.29 539.68,58.68 542.32,60.14 545.03,61.62 547.74,63.09 550.36,64.51 552.81,65.82 555.00,67.00 556.91,68.02 558.60,68.92 560.14,69.72 561.58,70.46 562.98,71.18 564.40,71.90 565.88,72.67 567.50,73.50 569.18,74.37 570.84,75.24 572.52,76.12 574.24,77.01 576.04,77.95 577.95,78.93 579.99,79.98 582.20,81.10 584.68,82.31 587.43,83.60 590.36,84.96 593.38,86.36 596.39,87.80 599.29,89.27 601.99,90.74 604.40,92.20 606.50,93.65 608.37,95.09 610.07,96.55 611.66,98.02 613.17,99.53 614.66,101.09 616.19,102.70 617.80,104.40 619.56,106.29 621.44,108.43 623.38,110.69 625.29,112.96 627.09,115.14 628.71,117.12 630.07,118.77 631.10,120.00" fill="none" stroke="#000" stroke-width="3.1" stroke-linejoin="round" stroke-linecap="round"/>
<polyline points="513.50,15.00 513.62,15.69 513.78,16.62 513.98,17.72 514.19,18.94 514.41,20.23 514.61,21.54 514.78,22.81 514.90,24.00 514.97,25.16 515.00,26.36 515.01,27.57 515.00,28.78 514.98,29.95 514.97,31.07 514.97,32.09 515.00,33.00 515.03,33.78 515.06,34.46 515.08,35.05 515.11,35.58 515.17,36.07 515.26,36.53 515.40,37.00 515.60,37.50 515.85,37.99 516.14,38.45 516.46,38.88 516.82,39.30 517.23,39.74 517.68,40.20 518.19,40.70 518.75,41.25 519.35,41.86 519.98,42.52 520.65,43.21 521.37,43.92 522.15,44.66 523.01,45.40 523.96,46.15 525.00,46.90 526.16,47.64 527.43,48.39 528.80,49.15 530.23,49.92 531.72,50.70 533.23,51.49 534.75,52.29 536.25,53.10 537.80,53.95 539.43,54.83 541.12,55.75 542.81,56.66 544.47,57.56 546.04,58.43 547.48,59.25 548.75,60.00 549.79,60.65 550.61,61.22 551.28,61.74 551.88,62.22 552.47,62.70 553.14,63.20 553.96,63.76 555.00,64.40 556.25,65.11 557.64,65.86 559.14,66.65 560.73,67.48 562.39,68.33 564.09,69.20 565.80,70.09 567.50,71.00 569.16,71.92 570.80,72.86 572.44,73.81 574.13,74.79 575.90,75.80 577.77,76.83 579.80,77.90 582.00,79.00 584.47,80.16 587.20,81.39 590.12,82.67 593.13,83.96 596.15,85.26 599.09,86.53 601.87,87.75 604.40,88.90 606.71,89.96 608.88,90.95 610.95,91.88 612.91,92.79 614.78,93.71 616.58,94.64 618.31,95.63 620.00,96.70 621.63,97.84 623.17,99.02 624.64,100.24 626.04,101.49 627.38,102.77 628.66,104.07 629.90,105.38 631.10,106.70 632.26,108.03 633.36,109.40 634.42,110.78 635.42,112.18 636.37,113.59 637.27,115.00 638.11,116.40 638.90,117.80 639.64,119.24 640.34,120.76 640.99,122.31 641.59,123.84 642.12,125.31 642.59,126.67 642.98,127.89 643.30,128.90 643.51,129.71 643.61,130.35 643.62,130.85 643.57,131.24 643.49,131.55 643.40,131.79 643.33,132.00 643.30,132.20" fill="none" stroke="#f21c1c" stroke-width="2.8" stroke-linejoin="round" stroke-linecap="round"/>
<polyline points="513.50,14.40 513.57,15.20 513.67,16.26 513.78,17.52 513.91,18.92 514.04,20.42 514.17,21.97 514.30,23.51 514.40,25.00 514.48,26.52 514.54,28.17 514.59,29.88 514.64,31.60 514.69,33.28 514.77,34.86 514.86,36.28 515.00,37.50 515.16,38.48 515.33,39.28 515.51,39.92 515.72,40.47 515.95,40.95 516.22,41.43 516.54,41.93 516.90,42.50 517.30,43.12 517.71,43.72 518.16,44.32 518.65,44.92 519.19,45.53 519.80,46.16 520.48,46.82 521.25,47.50 522.12,48.22 523.10,48.97 524.15,49.75 525.27,50.55 526.43,51.35 527.62,52.16 528.82,52.96 530.00,53.75 531.18,54.52 532.38,55.28 533.60,56.04 534.84,56.80 536.10,57.56 537.38,58.35 538.68,59.16 540.00,60.00 541.31,60.87 542.61,61.78 543.91,62.70 545.23,63.64 546.61,64.60 548.06,65.56 549.60,66.53 551.25,67.50 553.05,68.48 555.00,69.47 557.05,70.47 559.16,71.48 561.30,72.49 563.43,73.50 565.51,74.51 567.50,75.50 569.39,76.47 571.21,77.41 572.99,78.34 574.75,79.28 576.53,80.22 578.34,81.20 580.22,82.22 582.20,83.30 584.34,84.45 586.64,85.67 589.04,86.94 591.46,88.23 593.84,89.53 596.10,90.83 598.18,92.09 600.00,93.30 601.56,94.45 602.93,95.55 604.14,96.62 605.22,97.68 606.20,98.75 607.12,99.85 608.01,100.99 608.90,102.20 609.77,103.49 610.59,104.85 611.35,106.25 612.06,107.68 612.72,109.12 613.33,110.55 613.89,111.95 614.40,113.30 614.87,114.60 615.31,115.88 615.70,117.13 616.04,118.37 616.32,119.60 616.52,120.83 616.65,122.06 616.70,123.30 616.62,124.62 616.39,126.03 616.07,127.49 615.69,128.93 615.30,130.28 614.92,131.50 614.61,132.53 614.40,133.30" fill="none" stroke="#1a5ee0" stroke-width="3.0" stroke-linejoin="round" stroke-linecap="round"/>
<circle cx="515.80" cy="24.00" r="1.60" fill="#f21c1c"/>
<circle cx="515.50" cy="28.00" r="1.60" fill="#f21c1c"/>
<circle cx="640.50" cy="130.00" r="1.50" fill="#f21c1c"/>
<polyline points="516.00,117.50 517.00,117.57 518.26,117.67 519.74,117.78 521.44,117.91 523.33,118.04 525.40,118.19 527.63,118.34 530.00,118.50 532.60,118.66 535.48,118.83 538.57,119.01 541.81,119.20 545.14,119.39 548.49,119.59 551.80,119.79 555.00,120.00 558.16,120.22 561.37,120.45 564.59,120.70 567.81,120.94 570.99,121.19 574.10,121.41 577.11,121.62 580.00,121.80 582.66,121.94 585.08,122.06 587.35,122.15 589.58,122.22 591.86,122.30 594.29,122.38 596.97,122.48 600.00,122.60 603.62,122.76 607.85,122.94 612.42,123.14 617.10,123.35 621.62,123.55 625.73,123.73 629.17,123.89 631.70,124.00" fill="none" stroke="#858585" stroke-width="0.6"/>
<rect x="514.75" y="116.25" width="2.50" height="2.50" fill="#fff" stroke="#858585" stroke-width="0.6"/>
<rect x="517.72" y="116.47" width="2.50" height="2.50" fill="#fff" stroke="#858585" stroke-width="0.6"/>
<rect x="521.11" y="116.72" width="2.50" height="2.50" fill="#fff" stroke="#858585" stroke-width="0.6"/>
<rect x="524.15" y="116.94" width="2.50" height="2.50" fill="#fff" stroke="#858585" stroke-width="0.6"/>
<rect x="527.55" y="117.17" width="2.50" height="2.50" fill="#fff" stroke="#858585" stroke-width="0.6"/>
<rect x="531.35" y="117.41" width="2.50" height="2.50" fill="#fff" stroke="#858585" stroke-width="0.6"/>
<rect x="534.23" y="117.58" width="2.50" height="2.50" fill="#fff" stroke="#858585" stroke-width="0.6"/>
<rect x="537.32" y="117.76" width="2.50" height="2.50" fill="#fff" stroke="#858585" stroke-width="0.6"/>
<rect x="540.56" y="117.95" width="2.50" height="2.50" fill="#fff" stroke="#858585" stroke-width="0.6"/>
<rect x="543.89" y="118.14" width="2.50" height="2.50" fill="#fff" stroke="#858585" stroke-width="0.6"/>
<rect x="547.24" y="118.34" width="2.50" height="2.50" fill="#fff" stroke="#858585" stroke-width="0.6"/>
<rect x="550.55" y="118.54" width="2.50" height="2.50" fill="#fff" stroke="#858585" stroke-width="0.6"/>
<rect x="553.75" y="118.75" width="2.50" height="2.50" fill="#fff" stroke="#858585" stroke-width="0.6"/>
<rect x="556.91" y="118.97" width="2.50" height="2.50" fill="#fff" stroke="#858585" stroke-width="0.6"/>
<rect x="560.12" y="119.20" width="2.50" height="2.50" fill="#fff" stroke="#858585" stroke-width="0.6"/>
<rect x="563.34" y="119.45" width="2.50" height="2.50" fill="#fff" stroke="#858585" stroke-width="0.6"/>
<rect x="566.56" y="119.69" width="2.50" height="2.50" fill="#fff" stroke="#858585" stroke-width="0.6"/>
<rect x="569.74" y="119.94" width="2.50" height="2.50" fill="#fff" stroke="#858585" stroke-width="0.6"/>
<rect x="572.85" y="120.16" width="2.50" height="2.50" fill="#fff" stroke="#858585" stroke-width="0.6"/>
<rect x="575.86" y="120.37" width="2.50" height="2.50" fill="#fff" stroke="#858585" stroke-width="0.6"/>
<rect x="578.75" y="120.55" width="2.50" height="2.50" fill="#fff" stroke="#858585" stroke-width="0.6"/>
<rect x="581.41" y="120.69" width="2.50" height="2.50" fill="#fff" stroke="#858585" stroke-width="0.6"/>
<rect x="584.98" y="120.85" width="2.50" height="2.50" fill="#fff" stroke="#858585" stroke-width="0.6"/>
<rect x="588.33" y="120.97" width="2.50" height="2.50" fill="#fff" stroke="#858585" stroke-width="0.6"/>
<rect x="591.80" y="121.09" width="2.50" height="2.50" fill="#fff" stroke="#858585" stroke-width="0.6"/>
<rect x="594.35" y="121.18" width="2.50" height="2.50" fill="#fff" stroke="#858585" stroke-width="0.6"/>
<rect x="597.19" y="121.29" width="2.50" height="2.50" fill="#fff" stroke="#858585" stroke-width="0.6"/>
<rect x="600.47" y="121.42" width="2.50" height="2.50" fill="#fff" stroke="#858585" stroke-width="0.6"/>
<rect x="604.42" y="121.60" width="2.50" height="2.50" fill="#fff" stroke="#858585" stroke-width="0.6"/>
<rect x="608.86" y="121.79" width="2.50" height="2.50" fill="#fff" stroke="#858585" stroke-width="0.6"/>
<rect x="613.52" y="122.00" width="2.50" height="2.50" fill="#fff" stroke="#858585" stroke-width="0.6"/>
<rect x="618.15" y="122.20" width="2.50" height="2.50" fill="#fff" stroke="#858585" stroke-width="0.6"/>
<rect x="622.49" y="122.40" width="2.50" height="2.50" fill="#fff" stroke="#858585" stroke-width="0.6"/>
<rect x="626.30" y="122.57" width="2.50" height="2.50" fill="#fff" stroke="#858585" stroke-width="0.6"/>
<rect x="629.32" y="122.70" width="2.50" height="2.50" fill="#fff" stroke="#858585" stroke-width="0.6"/>
<rect x="630.45" y="122.75" width="2.50" height="2.50" fill="#fff" stroke="#858585" stroke-width="0.6"/>
<polyline points="516.25,119.50 517.23,119.47 518.46,119.41 519.90,119.35 521.56,119.28 523.42,119.23 525.45,119.20 527.65,119.20 530.00,119.25 532.59,119.35 535.46,119.50 538.55,119.67 541.80,119.88 545.13,120.09 548.49,120.32 551.80,120.54 555.00,120.75 558.16,120.97 561.37,121.20 564.59,121.44 567.81,121.69 570.99,121.92 574.10,122.14 577.11,122.34 580.00,122.50 582.57,122.63 584.77,122.73 586.77,122.81 588.75,122.87 590.89,122.91 593.36,122.95 596.34,122.97 600.00,123.00 604.74,123.02 610.55,123.01 617.02,123.00 623.75,122.98 630.32,122.96 636.33,122.93 641.36,122.91 645.00,122.90" fill="none" stroke="#f07070" stroke-width="0.6"/>
<circle cx="516.25" cy="119.50" r="1.25" fill="#fff" stroke="#f07070" stroke-width="0.6"/>
<circle cx="519.15" cy="119.38" r="1.25" fill="#fff" stroke="#f07070" stroke-width="0.6"/>
<circle cx="522.47" cy="119.25" r="1.25" fill="#fff" stroke="#f07070" stroke-width="0.6"/>
<circle cx="525.45" cy="119.20" r="1.25" fill="#fff" stroke="#f07070" stroke-width="0.6"/>
<circle cx="528.81" cy="119.22" r="1.25" fill="#fff" stroke="#f07070" stroke-width="0.6"/>
<circle cx="532.59" cy="119.35" r="1.25" fill="#fff" stroke="#f07070" stroke-width="0.6"/>
<circle cx="535.46" cy="119.50" r="1.25" fill="#fff" stroke="#f07070" stroke-width="0.6"/>
<circle cx="538.55" cy="119.67" r="1.25" fill="#fff" stroke="#f07070" stroke-width="0.6"/>
<circle cx="541.80" cy="119.88" r="1.25" fill="#fff" stroke="#f07070" stroke-width="0.6"/>
<circle cx="545.13" cy="120.09" r="1.25" fill="#fff" stroke="#f07070" stroke-width="0.6"/>
<circle cx="548.49" cy="120.32" r="1.25" fill="#fff" stroke="#f07070" stroke-width="0.6"/>
<circle cx="551.80" cy="120.54" r="1.25" fill="#fff" stroke="#f07070" stroke-width="0.6"/>
<circle cx="555.00" cy="120.75" r="1.25" fill="#fff" stroke="#f07070" stroke-width="0.6"/>
<circle cx="558.16" cy="120.97" r="1.25" fill="#fff" stroke="#f07070" stroke-width="0.6"/>
<circle cx="561.37" cy="121.20" r="1.25" fill="#fff" stroke="#f07070" stroke-width="0.6"/>
<circle cx="564.59" cy="121.44" r="1.25" fill="#fff" stroke="#f07070" stroke-width="0.6"/>
<circle cx="567.81" cy="121.69" r="1.25" fill="#fff" stroke="#f07070" stroke-width="0.6"/>
<circle cx="570.99" cy="121.92" r="1.25" fill="#fff" stroke="#f07070" stroke-width="0.6"/>
<circle cx="574.10" cy="122.14" r="1.25" fill="#fff" stroke="#f07070" stroke-width="0.6"/>
<circle cx="577.11" cy="122.34" r="1.25" fill="#fff" stroke="#f07070" stroke-width="0.6"/>
<circle cx="580.00" cy="122.50" r="1.25" fill="#fff" stroke="#f07070" stroke-width="0.6"/>
<circle cx="582.57" cy="122.63" r="1.25" fill="#fff" stroke="#f07070" stroke-width="0.6"/>
<circle cx="585.78" cy="122.77" r="1.25" fill="#fff" stroke="#f07070" stroke-width="0.6"/>
<circle cx="588.75" cy="122.87" r="1.25" fill="#fff" stroke="#f07070" stroke-width="0.6"/>
<circle cx="592.07" cy="122.93" r="1.25" fill="#fff" stroke="#f07070" stroke-width="0.6"/>
<circle cx="594.77" cy="122.96" r="1.25" fill="#fff" stroke="#f07070" stroke-width="0.6"/>
<circle cx="598.07" cy="122.99" r="1.25" fill="#fff" stroke="#f07070" stroke-width="0.6"/>
<circle cx="602.21" cy="123.01" r="1.25" fill="#fff" stroke="#f07070" stroke-width="0.6"/>
<circle cx="604.74" cy="123.02" r="1.25" fill="#fff" stroke="#f07070" stroke-width="0.6"/>
<circle cx="607.53" cy="123.02" r="1.25" fill="#fff" stroke="#f07070" stroke-width="0.6"/>
<circle cx="610.55" cy="123.01" r="1.25" fill="#fff" stroke="#f07070" stroke-width="0.6"/>
<circle cx="613.73" cy="123.01" r="1.25" fill="#fff" stroke="#f07070" stroke-width="0.6"/>
<circle cx="617.02" cy="123.00" r="1.25" fill="#fff" stroke="#f07070" stroke-width="0.6"/>
<circle cx="620.38" cy="122.99" r="1.25" fill="#fff" stroke="#f07070" stroke-width="0.6"/>
<circle cx="623.75" cy="122.98" r="1.25" fill="#fff" stroke="#f07070" stroke-width="0.6"/>
<circle cx="627.08" cy="122.97" r="1.25" fill="#fff" stroke="#f07070" stroke-width="0.6"/>
<circle cx="630.32" cy="122.96" r="1.25" fill="#fff" stroke="#f07070" stroke-width="0.6"/>
<circle cx="633.42" cy="122.94" r="1.25" fill="#fff" stroke="#f07070" stroke-width="0.6"/>
<circle cx="636.33" cy="122.93" r="1.25" fill="#fff" stroke="#f07070" stroke-width="0.6"/>
<circle cx="638.99" cy="122.92" r="1.25" fill="#fff" stroke="#f07070" stroke-width="0.6"/>
<circle cx="643.38" cy="122.90" r="1.25" fill="#fff" stroke="#f07070" stroke-width="0.6"/>
<circle cx="645.00" cy="122.90" r="1.25" fill="#fff" stroke="#f07070" stroke-width="0.6"/>
<polyline points="516.25,112.00 517.23,112.12 518.46,112.28 519.90,112.46 521.56,112.67 523.42,112.91 525.45,113.17 527.65,113.45 530.00,113.75 532.59,114.09 535.46,114.49 538.55,114.91 541.80,115.36 545.13,115.81 548.49,116.24 551.80,116.64 555.00,117.00 558.16,117.32 561.37,117.61 564.59,117.89 567.81,118.14 570.99,118.38 574.10,118.60 577.11,118.81 580.00,119.00 582.77,119.18 585.45,119.34 588.04,119.49 590.56,119.62 593.01,119.74 595.40,119.84 597.73,119.93 600.00,120.00 602.30,120.05 604.66,120.07 607.00,120.07 609.25,120.06 611.35,120.04 613.22,120.02 614.79,120.01 616.00,120.00" fill="none" stroke="#3f78e6" stroke-width="0.6"/>
<rect x="515.00" y="110.75" width="2.50" height="2.50" fill="#fff" stroke="#3f78e6" stroke-width="0.6"/>
<rect x="517.90" y="111.12" width="2.50" height="2.50" fill="#fff" stroke="#3f78e6" stroke-width="0.6"/>
<rect x="521.22" y="111.54" width="2.50" height="2.50" fill="#fff" stroke="#3f78e6" stroke-width="0.6"/>
<rect x="524.20" y="111.92" width="2.50" height="2.50" fill="#fff" stroke="#3f78e6" stroke-width="0.6"/>
<rect x="527.56" y="112.35" width="2.50" height="2.50" fill="#fff" stroke="#3f78e6" stroke-width="0.6"/>
<rect x="531.34" y="112.84" width="2.50" height="2.50" fill="#fff" stroke="#3f78e6" stroke-width="0.6"/>
<rect x="534.21" y="113.24" width="2.50" height="2.50" fill="#fff" stroke="#3f78e6" stroke-width="0.6"/>
<rect x="537.30" y="113.66" width="2.50" height="2.50" fill="#fff" stroke="#3f78e6" stroke-width="0.6"/>
<rect x="540.55" y="114.11" width="2.50" height="2.50" fill="#fff" stroke="#3f78e6" stroke-width="0.6"/>
<rect x="543.88" y="114.56" width="2.50" height="2.50" fill="#fff" stroke="#3f78e6" stroke-width="0.6"/>
<rect x="547.24" y="114.99" width="2.50" height="2.50" fill="#fff" stroke="#3f78e6" stroke-width="0.6"/>
<rect x="550.55" y="115.39" width="2.50" height="2.50" fill="#fff" stroke="#3f78e6" stroke-width="0.6"/>
<rect x="553.75" y="115.75" width="2.50" height="2.50" fill="#fff" stroke="#3f78e6" stroke-width="0.6"/>
<rect x="556.91" y="116.07" width="2.50" height="2.50" fill="#fff" stroke="#3f78e6" stroke-width="0.6"/>
<rect x="560.12" y="116.36" width="2.50" height="2.50" fill="#fff" stroke="#3f78e6" stroke-width="0.6"/>
<rect x="563.34" y="116.64" width="2.50" height="2.50" fill="#fff" stroke="#3f78e6" stroke-width="0.6"/>
<rect x="566.56" y="116.89" width="2.50" height="2.50" fill="#fff" stroke="#3f78e6" stroke-width="0.6"/>
<rect x="569.74" y="117.13" width="2.50" height="2.50" fill="#fff" stroke="#3f78e6" stroke-width="0.6"/>
<rect x="572.85" y="117.35" width="2.50" height="2.50" fill="#fff" stroke="#3f78e6" stroke-width="0.6"/>
<rect x="575.86" y="117.56" width="2.50" height="2.50" fill="#fff" stroke="#3f78e6" stroke-width="0.6"/>
<rect x="578.75" y="117.75" width="2.50" height="2.50" fill="#fff" stroke="#3f78e6" stroke-width="0.6"/>
<rect x="581.52" y="117.93" width="2.50" height="2.50" fill="#fff" stroke="#3f78e6" stroke-width="0.6"/>
<rect x="584.20" y="118.09" width="2.50" height="2.50" fill="#fff" stroke="#3f78e6" stroke-width="0.6"/>
<rect x="586.79" y="118.24" width="2.50" height="2.50" fill="#fff" stroke="#3f78e6" stroke-width="0.6"/>
<rect x="589.31" y="118.38" width="2.50" height="2.50" fill="#fff" stroke="#3f78e6" stroke-width="0.6"/>
<rect x="592.96" y="118.54" width="2.50" height="2.50" fill="#fff" stroke="#3f78e6" stroke-width="0.6"/>
<rect x="596.48" y="118.68" width="2.50" height="2.50" fill="#fff" stroke="#3f78e6" stroke-width="0.6"/>
<rect x="599.89" y="118.78" width="2.50" height="2.50" fill="#fff" stroke="#3f78e6" stroke-width="0.6"/>
<rect x="603.41" y="118.82" width="2.50" height="2.50" fill="#fff" stroke="#3f78e6" stroke-width="0.6"/>
<rect x="606.89" y="118.82" width="2.50" height="2.50" fill="#fff" stroke="#3f78e6" stroke-width="0.6"/>
<rect x="610.10" y="118.79" width="2.50" height="2.50" fill="#fff" stroke="#3f78e6" stroke-width="0.6"/>
<rect x="612.80" y="118.76" width="2.50" height="2.50" fill="#fff" stroke="#3f78e6" stroke-width="0.6"/>
<rect x="614.75" y="118.75" width="2.50" height="2.50" fill="#fff" stroke="#3f78e6" stroke-width="0.6"/>
<polyline points="29.50,204.00 29.53,204.72 29.57,205.71 29.61,206.89 29.66,208.19 29.72,209.52 29.79,210.82 29.89,212.00 30.00,213.00 30.14,213.83 30.29,214.59 30.47,215.28 30.66,215.91 30.86,216.49 31.07,217.03 31.28,217.53 31.50,218.00 31.66,218.39 31.75,218.65 31.81,218.84 31.89,219.01 32.05,219.20 32.34,219.46 32.80,219.85 33.50,220.40 34.44,221.12 35.57,221.95 36.88,222.88 38.31,223.90 39.85,224.98 41.46,226.12 43.10,227.30 44.75,228.50 46.51,229.80 48.44,231.26 50.48,232.80 52.56,234.37 54.60,235.91 56.53,237.36 58.27,238.66 59.75,239.75 60.93,240.59 61.88,241.21 62.64,241.67 63.28,242.05 63.88,242.40 64.48,242.80 65.17,243.31 66.00,244.00 66.97,244.84 68.01,245.77 69.10,246.77 70.22,247.83 71.34,248.94 72.44,250.10 73.50,251.29 74.50,252.50 75.44,253.76 76.36,255.07 77.24,256.44 78.11,257.84 78.94,259.27 79.75,260.69 80.54,262.11 81.30,263.50 82.01,264.87 82.64,266.23 83.24,267.59 83.81,268.96 84.40,270.32 85.03,271.70 85.72,273.09 86.50,274.50 87.38,275.94 88.32,277.40 89.32,278.89 90.37,280.38 91.44,281.87 92.53,283.34 93.62,284.79 94.70,286.20 95.81,287.60 96.98,289.02 98.18,290.43 99.39,291.82 100.56,293.16 101.68,294.43 102.70,295.62 103.60,296.70 104.36,297.64 105.01,298.44 105.58,299.14 106.07,299.79 106.54,300.41 107.00,301.04 107.48,301.73 108.00,302.50 108.57,303.35 109.16,304.25 109.75,305.17 110.35,306.12 110.93,307.09 111.49,308.06 112.02,309.04 112.50,310.00 112.95,311.01 113.39,312.11 113.80,313.25 114.18,314.37 114.53,315.43 114.84,316.39 115.10,317.20 115.30,317.80" fill="none" stroke="#000" stroke-width="3.1" stroke-linejoin="round" stroke-linecap="round"/>
<polyline points="29.50,202.00 29.52,202.88 29.53,204.09 29.55,205.54 29.58,207.12 29.61,208.76 29.65,210.34 29.72,211.79 29.80,213.00 29.89,214.01 29.99,214.92 30.10,215.75 30.23,216.50 30.38,217.19 30.55,217.83 30.76,218.43 31.00,219.00 31.24,219.48 31.44,219.84 31.65,220.12 31.90,220.38 32.23,220.64 32.66,220.97 33.24,221.41 34.00,222.00 34.94,222.74 36.04,223.57 37.28,224.48 38.62,225.47 40.07,226.52 41.58,227.64 43.15,228.80 44.75,230.00 46.47,231.31 48.36,232.75 50.36,234.28 52.41,235.86 54.43,237.41 56.38,238.91 58.17,240.29 59.75,241.50 61.10,242.51 62.27,243.35 63.31,244.08 64.26,244.74 65.16,245.40 66.05,246.09 66.98,246.87 68.00,247.80 69.10,248.87 70.26,250.01 71.44,251.23 72.62,252.50 73.78,253.81 74.90,255.14 75.95,256.47 76.90,257.80 77.77,259.13 78.59,260.50 79.35,261.88 80.06,263.28 80.72,264.69 81.33,266.10 81.89,267.50 82.40,268.90 82.84,270.28 83.20,271.65 83.50,273.02 83.76,274.39 83.99,275.77 84.21,277.16 84.44,278.57 84.70,280.00 84.98,281.48 85.25,283.03 85.51,284.61 85.78,286.19 86.05,287.75 86.32,289.26 86.61,290.69 86.90,292.00 87.20,293.20 87.51,294.30 87.82,295.34 88.14,296.31 88.46,297.25 88.80,298.16 89.14,299.08 89.50,300.00 89.88,300.93 90.28,301.84 90.70,302.73 91.12,303.61 91.54,304.47 91.95,305.32 92.34,306.17 92.70,307.00 93.04,307.84 93.38,308.69 93.71,309.53 94.03,310.36 94.32,311.16 94.58,311.92 94.81,312.64 95.00,313.30 95.14,313.91 95.24,314.49 95.31,315.04 95.34,315.54 95.36,316.00 95.37,316.40 95.38,316.73 95.40,317.00" fill="none" stroke="#f21c1c" stroke-width="2.8" stroke-linejoin="round" stroke-linecap="round"/>
<polyline points="29.10,202.25 29.11,203.05 29.11,204.13 29.12,205.43 29.13,206.86 29.15,208.34 29.18,209.78 29.23,211.11 29.30,212.25 29.38,213.22 29.46,214.11 29.56,214.92 29.67,215.69 29.80,216.41 29.96,217.11 30.16,217.80 30.40,218.50 30.67,219.18 30.96,219.82 31.28,220.44 31.63,221.04 32.02,221.64 32.46,222.24 32.95,222.85 33.50,223.50 34.12,224.18 34.81,224.87 35.56,225.58 36.35,226.30 37.18,227.02 38.03,227.73 38.89,228.42 39.75,229.10 40.63,229.75 41.54,230.38 42.47,230.99 43.42,231.60 44.38,232.20 45.35,232.82 46.30,233.45 47.25,234.10 48.19,234.78 49.15,235.49 50.10,236.22 51.06,236.95 52.01,237.68 52.94,238.39 53.86,239.09 54.75,239.75 55.60,240.35 56.40,240.88 57.17,241.38 57.94,241.87 58.71,242.39 59.52,242.96 60.38,243.62 61.30,244.40 62.32,245.29 63.41,246.27 64.56,247.33 65.74,248.45 66.92,249.61 68.07,250.82 69.18,252.05 70.20,253.30 71.17,254.58 72.11,255.92 73.02,257.30 73.90,258.71 74.73,260.13 75.52,261.57 76.24,262.99 76.90,264.40 77.51,265.81 78.07,267.25 78.58,268.70 79.04,270.14 79.43,271.57 79.76,272.97 80.02,274.31 80.20,275.60 80.30,276.83 80.31,278.03 80.25,279.19 80.13,280.32 79.95,281.40 79.71,282.45 79.43,283.45 79.10,284.40 78.69,285.33 78.17,286.25 77.58,287.13 76.95,287.97 76.31,288.74 75.70,289.43 75.15,290.02 74.70,290.50 74.33,290.83 74.00,291.03 73.72,291.12 73.48,291.13 73.26,291.10 73.08,291.04 72.93,291.00 72.80,291.00" fill="none" stroke="#1a5ee0" stroke-width="3.0" stroke-linejoin="round" stroke-linecap="round"/>
<polyline points="35.80,306.10 36.22,305.87 36.63,305.55 37.10,305.17 37.71,304.75 38.53,304.33 39.63,303.95 41.10,303.63 43.00,303.40 45.44,303.26 48.38,303.17 51.70,303.12 55.31,303.12 59.06,303.15 62.86,303.21 66.58,303.30 70.10,303.40 73.55,303.55 77.09,303.74 80.66,303.98 84.21,304.24 87.70,304.51 91.06,304.77 94.24,305.01 97.20,305.20 100.02,305.36 102.78,305.51 105.44,305.64 107.94,305.76 110.23,305.87 112.26,305.96 113.97,306.04 115.30,306.10" fill="none" stroke="#858585" stroke-width="0.6"/>
<rect x="34.55" y="304.85" width="2.50" height="2.50" fill="#fff" stroke="#858585" stroke-width="0.6"/>
<rect x="37.28" y="303.08" width="2.50" height="2.50" fill="#fff" stroke="#858585" stroke-width="0.6"/>
<rect x="39.85" y="302.38" width="2.50" height="2.50" fill="#fff" stroke="#858585" stroke-width="0.6"/>
<rect x="42.90" y="302.07" width="2.50" height="2.50" fill="#fff" stroke="#858585" stroke-width="0.6"/>
<rect x="45.60" y="301.96" width="2.50" height="2.50" fill="#fff" stroke="#858585" stroke-width="0.6"/>
<rect x="48.75" y="301.89" width="2.50" height="2.50" fill="#fff" stroke="#858585" stroke-width="0.6"/>
<rect x="52.23" y="301.87" width="2.50" height="2.50" fill="#fff" stroke="#858585" stroke-width="0.6"/>
<rect x="55.92" y="301.88" width="2.50" height="2.50" fill="#fff" stroke="#858585" stroke-width="0.6"/>
<rect x="59.71" y="301.93" width="2.50" height="2.50" fill="#fff" stroke="#858585" stroke-width="0.6"/>
<rect x="63.48" y="302.00" width="2.50" height="2.50" fill="#fff" stroke="#858585" stroke-width="0.6"/>
<rect x="67.12" y="302.10" width="2.50" height="2.50" fill="#fff" stroke="#858585" stroke-width="0.6"/>
<rect x="70.56" y="302.21" width="2.50" height="2.50" fill="#fff" stroke="#858585" stroke-width="0.6"/>
<rect x="74.06" y="302.39" width="2.50" height="2.50" fill="#fff" stroke="#858585" stroke-width="0.6"/>
<rect x="77.62" y="302.61" width="2.50" height="2.50" fill="#fff" stroke="#858585" stroke-width="0.6"/>
<rect x="81.19" y="302.86" width="2.50" height="2.50" fill="#fff" stroke="#858585" stroke-width="0.6"/>
<rect x="84.72" y="303.13" width="2.50" height="2.50" fill="#fff" stroke="#858585" stroke-width="0.6"/>
<rect x="88.15" y="303.39" width="2.50" height="2.50" fill="#fff" stroke="#858585" stroke-width="0.6"/>
<rect x="91.43" y="303.64" width="2.50" height="2.50" fill="#fff" stroke="#858585" stroke-width="0.6"/>
<rect x="94.50" y="303.86" width="2.50" height="2.50" fill="#fff" stroke="#858585" stroke-width="0.6"/>
<rect x="97.36" y="304.03" width="2.50" height="2.50" fill="#fff" stroke="#858585" stroke-width="0.6"/>
<rect x="100.16" y="304.19" width="2.50" height="2.50" fill="#fff" stroke="#858585" stroke-width="0.6"/>
<rect x="102.88" y="304.33" width="2.50" height="2.50" fill="#fff" stroke="#858585" stroke-width="0.6"/>
<rect x="105.47" y="304.45" width="2.50" height="2.50" fill="#fff" stroke="#858585" stroke-width="0.6"/>
<rect x="108.98" y="304.62" width="2.50" height="2.50" fill="#fff" stroke="#858585" stroke-width="0.6"/>
<rect x="111.90" y="304.75" width="2.50" height="2.50" fill="#fff" stroke="#858585" stroke-width="0.6"/>
<rect x="114.05" y="304.85" width="2.50" height="2.50" fill="#fff" stroke="#858585" stroke-width="0.6"/>
<polyline points="96.30,289.00 95.42,289.50 94.26,290.20 92.89,291.02 91.36,291.93 89.71,292.86 88.00,293.77 86.28,294.60 84.60,295.30 82.98,295.89 81.38,296.43 79.76,296.93 78.08,297.38 76.31,297.80 74.42,298.19 72.36,298.55 70.10,298.90 67.50,299.20 64.54,299.46 61.35,299.67 58.06,299.86 54.82,300.04 51.75,300.23 49.00,300.44 46.70,300.70 44.83,300.99 43.25,301.31 41.92,301.65 40.80,301.99 39.85,302.35 39.03,302.70 38.29,303.06 37.60,303.40 37.01,303.76 36.59,304.14 36.31,304.53 36.13,304.92 36.02,305.29 35.95,305.61 35.89,305.89 35.80,306.10" fill="none" stroke="#f07070" stroke-width="0.6"/>
<circle cx="96.30" cy="289.00" r="1.25" fill="#fff" stroke="#f07070" stroke-width="0.6"/>
<circle cx="93.60" cy="290.59" r="1.25" fill="#fff" stroke="#f07070" stroke-width="0.6"/>
<circle cx="90.54" cy="292.39" r="1.25" fill="#fff" stroke="#f07070" stroke-width="0.6"/>
<circle cx="88.00" cy="293.77" r="1.25" fill="#fff" stroke="#f07070" stroke-width="0.6"/>
<circle cx="85.43" cy="294.97" r="1.25" fill="#fff" stroke="#f07070" stroke-width="0.6"/>
<circle cx="82.18" cy="296.17" r="1.25" fill="#fff" stroke="#f07070" stroke-width="0.6"/>
<circle cx="78.93" cy="297.16" r="1.25" fill="#fff" stroke="#f07070" stroke-width="0.6"/>
<circle cx="76.31" cy="297.80" r="1.25" fill="#fff" stroke="#f07070" stroke-width="0.6"/>
<circle cx="73.41" cy="298.37" r="1.25" fill="#fff" stroke="#f07070" stroke-width="0.6"/>
<circle cx="70.10" cy="298.90" r="1.25" fill="#fff" stroke="#f07070" stroke-width="0.6"/>
<circle cx="67.50" cy="299.20" r="1.25" fill="#fff" stroke="#f07070" stroke-width="0.6"/>
<circle cx="64.54" cy="299.46" r="1.25" fill="#fff" stroke="#f07070" stroke-width="0.6"/>
<circle cx="61.35" cy="299.67" r="1.25" fill="#fff" stroke="#f07070" stroke-width="0.6"/>
<circle cx="58.06" cy="299.86" r="1.25" fill="#fff" stroke="#f07070" stroke-width="0.6"/>
<circle cx="54.82" cy="300.04" r="1.25" fill="#fff" stroke="#f07070" stroke-width="0.6"/>
<circle cx="51.75" cy="300.23" r="1.25" fill="#fff" stroke="#f07070" stroke-width="0.6"/>
<circle cx="49.00" cy="300.44" r="1.25" fill="#fff" stroke="#f07070" stroke-width="0.6"/>
<circle cx="45.73" cy="300.84" r="1.25" fill="#fff" stroke="#f07070" stroke-width="0.6"/>
<circle cx="42.56" cy="301.48" r="1.25" fill="#fff" stroke="#f07070" stroke-width="0.6"/>
<circle cx="39.85" cy="302.35" r="1.25" fill="#fff" stroke="#f07070" stroke-width="0.6"/>
<circle cx="37.01" cy="303.76" r="1.25" fill="#fff" stroke="#f07070" stroke-width="0.6"/>
<circle cx="35.80" cy="306.10" r="1.25" fill="#fff" stroke="#f07070" stroke-width="0.6"/>
<polyline points="72.80,283.50 73.26,283.62 73.92,283.76 74.71,283.92 75.56,284.11 76.40,284.34 77.17,284.61 77.79,284.93 78.20,285.30 78.43,285.74 78.57,286.26 78.60,286.82 78.54,287.43 78.38,288.06 78.12,288.69 77.76,289.31 77.30,289.90 76.78,290.49 76.20,291.10 75.54,291.71 74.77,292.32 73.87,292.91 72.81,293.47 71.56,293.97 70.10,294.40 68.33,294.75 66.24,295.04 63.91,295.27 61.44,295.47 58.94,295.64 56.48,295.81 54.17,295.99 52.10,296.20 50.20,296.41 48.34,296.61 46.55,296.80 44.85,296.99 43.26,297.19 41.81,297.42 40.52,297.69 39.40,298.00 38.50,298.36 37.80,298.77 37.26,299.22 36.86,299.69 36.55,300.17 36.30,300.66 36.06,301.14 35.80,301.60 35.55,302.07 35.36,302.58 35.23,303.11 35.12,303.63 35.05,304.11 35.00,304.55 34.95,304.92 34.90,305.20" fill="none" stroke="#3f78e6" stroke-width="0.6"/>
<rect x="71.55" y="282.25" width="2.50" height="2.50" fill="#fff" stroke="#3f78e6" stroke-width="0.6"/>
<rect x="74.31" y="282.86" width="2.50" height="2.50" fill="#fff" stroke="#3f78e6" stroke-width="0.6"/>
<rect x="76.87" y="287.44" width="2.50" height="2.50" fill="#fff" stroke="#3f78e6" stroke-width="0.6"/>
<rect x="74.63" y="290.15" width="2.50" height="2.50" fill="#fff" stroke="#3f78e6" stroke-width="0.6"/>
<rect x="72.11" y="291.95" width="2.50" height="2.50" fill="#fff" stroke="#3f78e6" stroke-width="0.6"/>
<rect x="69.61" y="292.94" width="2.50" height="2.50" fill="#fff" stroke="#3f78e6" stroke-width="0.6"/>
<rect x="67.08" y="293.50" width="2.50" height="2.50" fill="#fff" stroke="#3f78e6" stroke-width="0.6"/>
<rect x="63.84" y="293.91" width="2.50" height="2.50" fill="#fff" stroke="#3f78e6" stroke-width="0.6"/>
<rect x="60.19" y="294.22" width="2.50" height="2.50" fill="#fff" stroke="#3f78e6" stroke-width="0.6"/>
<rect x="57.69" y="294.39" width="2.50" height="2.50" fill="#fff" stroke="#3f78e6" stroke-width="0.6"/>
<rect x="54.05" y="294.65" width="2.50" height="2.50" fill="#fff" stroke="#3f78e6" stroke-width="0.6"/>
<rect x="50.85" y="294.95" width="2.50" height="2.50" fill="#fff" stroke="#3f78e6" stroke-width="0.6"/>
<rect x="48.01" y="295.26" width="2.50" height="2.50" fill="#fff" stroke="#3f78e6" stroke-width="0.6"/>
<rect x="45.30" y="295.55" width="2.50" height="2.50" fill="#fff" stroke="#3f78e6" stroke-width="0.6"/>
<rect x="42.79" y="295.84" width="2.50" height="2.50" fill="#fff" stroke="#3f78e6" stroke-width="0.6"/>
<rect x="39.89" y="296.30" width="2.50" height="2.50" fill="#fff" stroke="#3f78e6" stroke-width="0.6"/>
<rect x="37.25" y="297.11" width="2.50" height="2.50" fill="#fff" stroke="#3f78e6" stroke-width="0.6"/>
<rect x="33.65" y="303.95" width="2.50" height="2.50" fill="#fff" stroke="#3f78e6" stroke-width="0.6"/>
<polyline points="273.60,210.00 273.61,210.80 273.59,211.89 273.56,213.19 273.55,214.62 273.57,216.10 273.64,217.55 273.78,218.87 274.00,220.00 274.32,220.96 274.71,221.83 275.17,222.63 275.68,223.38 276.22,224.07 276.80,224.73 277.40,225.37 278.00,226.00 278.62,226.58 279.26,227.08 279.94,227.53 280.64,227.96 281.36,228.39 282.09,228.86 282.84,229.38 283.60,230.00 284.38,230.71 285.18,231.49 286.00,232.32 286.83,233.19 287.67,234.08 288.52,234.97 289.36,235.85 290.20,236.70 291.04,237.55 291.90,238.43 292.77,239.31 293.64,240.19 294.49,241.05 295.33,241.86 296.13,242.62 296.90,243.30 297.61,243.88 298.28,244.38 298.92,244.81 299.53,245.21 300.14,245.59 300.76,245.98 301.41,246.41 302.10,246.90 302.81,247.44 303.53,248.00 304.26,248.58 305.00,249.18 305.77,249.80 306.57,250.45 307.41,251.11 308.30,251.80 309.25,252.53 310.28,253.30 311.35,254.10 312.46,254.91 313.56,255.73 314.65,256.55 315.71,257.34 316.70,258.10 317.64,258.83 318.56,259.56 319.45,260.28 320.32,260.98 321.17,261.67 322.00,262.34 322.81,262.98 323.60,263.60 324.36,264.17 325.09,264.68 325.80,265.15 326.49,265.61 327.16,266.08 327.84,266.59 328.51,267.15 329.20,267.80 329.90,268.54 330.60,269.36 331.31,270.24 332.01,271.15 332.71,272.07 333.39,272.99 334.06,273.87 334.70,274.70 335.30,275.45 335.86,276.14 336.40,276.79 336.93,277.44 337.46,278.10 338.02,278.82 338.63,279.61 339.30,280.50 340.03,281.51 340.79,282.61 341.59,283.78 342.43,285.00 343.29,286.25 344.17,287.52 345.08,288.77 346.00,290.00 346.95,291.23 347.94,292.50 348.96,293.79 350.00,295.08 351.05,296.35 352.11,297.57 353.16,298.73 354.20,299.80 355.26,300.78 356.35,301.69 357.45,302.54 358.55,303.34 359.62,304.11 360.65,304.87 361.62,305.63 362.50,306.40 363.32,307.22 364.10,308.08 364.84,308.96 365.52,309.81 366.14,310.62 366.68,311.34 367.14,311.94 367.50,312.40" fill="none" stroke="#000" stroke-width="3.1" stroke-linejoin="round" stroke-linecap="round"/>
<polyline points="273.60,206.00 273.59,207.14 273.57,208.73 273.53,210.62 273.50,212.69 273.50,214.79 273.53,216.80 273.63,218.58 273.80,220.00 274.04,221.06 274.35,221.88 274.71,222.53 275.11,223.06 275.54,223.52 276.01,223.96 276.50,224.44 277.00,225.00 277.52,225.61 278.08,226.21 278.66,226.80 279.27,227.39 279.90,228.00 280.55,228.63 281.22,229.29 281.90,230.00 282.61,230.75 283.35,231.53 284.12,232.34 284.91,233.18 285.70,234.04 286.48,234.91 287.25,235.80 288.00,236.70 288.73,237.61 289.45,238.55 290.16,239.51 290.87,240.48 291.57,241.46 292.25,242.44 292.93,243.43 293.60,244.40 294.26,245.37 294.91,246.34 295.55,247.32 296.18,248.29 296.80,249.27 297.41,250.25 298.01,251.22 298.60,252.20 299.20,253.17 299.81,254.15 300.41,255.12 301.01,256.10 301.57,257.07 302.10,258.05 302.58,259.02 303.00,260.00 303.34,260.99 303.62,261.99 303.84,263.00 304.03,264.00 304.20,264.99 304.35,265.96 304.52,266.90 304.70,267.80 304.88,268.61 305.05,269.31 305.20,269.96 305.35,270.60 305.51,271.28 305.70,272.04 305.93,272.93 306.20,274.00 306.51,275.28 306.86,276.73 307.23,278.30 307.63,279.97 308.06,281.67 308.51,283.38 308.99,285.03 309.50,286.60 310.06,288.12 310.67,289.66 311.33,291.20 312.00,292.72 312.67,294.19 313.33,295.59 313.94,296.90 314.50,298.10 315.00,299.17 315.48,300.12 315.93,300.99 316.36,301.78 316.75,302.54 317.13,303.27 317.48,304.02 317.80,304.80 318.11,305.63 318.42,306.48 318.70,307.35 318.96,308.19 319.18,309.00 319.35,309.76 319.46,310.43 319.50,311.00 319.44,311.46 319.27,311.84 319.04,312.15 318.76,312.39 318.46,312.58 318.19,312.74 317.95,312.87 317.80,313.00" fill="none" stroke="#f21c1c" stroke-width="2.8" stroke-linejoin="round" stroke-linecap="round"/>
<polyline points="273.60,204.20 273.59,205.45 273.55,207.19 273.51,209.27 273.48,211.54 273.45,213.84 273.46,216.02 273.50,217.92 273.60,219.40 273.74,220.44 273.90,221.17 274.09,221.68 274.31,222.05 274.57,222.35 274.87,222.65 275.21,223.04 275.60,223.60 276.04,224.29 276.53,225.04 277.07,225.83 277.64,226.64 278.25,227.48 278.88,228.33 279.54,229.17 280.20,230.00 280.89,230.82 281.63,231.63 282.40,232.45 283.19,233.27 283.98,234.10 284.77,234.95 285.55,235.81 286.30,236.70 287.03,237.61 287.76,238.55 288.49,239.51 289.21,240.48 289.91,241.46 290.60,242.44 291.26,243.43 291.90,244.40 292.51,245.37 293.11,246.34 293.68,247.32 294.24,248.29 294.78,249.27 295.30,250.25 295.81,251.22 296.30,252.20 296.79,253.17 297.26,254.15 297.73,255.12 298.17,256.10 298.60,257.07 299.00,258.05 299.37,259.02 299.70,260.00 300.00,260.99 300.27,261.99 300.52,263.00 300.73,264.00 300.92,264.99 301.08,265.96 301.20,266.90 301.30,267.80 301.36,268.67 301.38,269.51 301.37,270.34 301.33,271.14 301.27,271.91 301.19,272.64 301.10,273.34 301.00,274.00 300.89,274.60 300.75,275.12 300.60,275.60 300.44,276.06 300.26,276.50 300.08,276.96 299.89,277.45 299.70,278.00 299.50,278.64 299.26,279.36 299.02,280.13 298.77,280.90 298.53,281.64 298.31,282.32 298.13,282.88 298.00,283.30" fill="none" stroke="#1a5ee0" stroke-width="3.0" stroke-linejoin="round" stroke-linecap="round"/>
<polyline points="275.60,279.70 275.64,279.39 275.60,278.96 275.55,278.44 275.54,277.88 275.64,277.32 275.89,276.79 276.36,276.33 277.10,276.00 278.19,275.80 279.59,275.69 281.23,275.65 283.02,275.66 284.87,275.67 286.71,275.67 288.45,275.62 290.00,275.50 291.36,275.32 292.61,275.11 293.79,274.87 294.94,274.61 296.09,274.32 297.29,274.00 298.58,273.66 300.00,273.30 301.55,272.88 303.20,272.40 304.93,271.88 306.71,271.34 308.52,270.80 310.33,270.30 312.14,269.86 313.90,269.50 315.60,269.22 317.24,268.98 318.86,268.80 320.49,268.65 322.16,268.53 323.92,268.44 325.78,268.37 327.80,268.30 330.00,268.24 332.37,268.19 334.86,268.16 337.43,268.15 340.02,268.18 342.59,268.24 345.10,268.34 347.50,268.50 349.90,268.73 352.38,269.03 354.88,269.39 357.32,269.78 359.63,270.18 361.73,270.57 363.55,270.94 365.00,271.25 366.10,271.51 366.91,271.75 367.48,271.97 367.81,272.17 367.95,272.37 367.93,272.57 367.77,272.78 367.50,273.00 366.99,273.25 366.15,273.53 365.09,273.82 363.91,274.11 362.70,274.39 361.58,274.63 360.65,274.84 360.00,275.00" fill="none" stroke="#858585" stroke-width="0.6"/>
<rect x="274.10" y="278.20" width="3.00" height="3.00" fill="#fff" stroke="#858585" stroke-width="0.6"/>
<rect x="274.86" y="274.83" width="3.00" height="3.00" fill="#fff" stroke="#858585" stroke-width="0.6"/>
<rect x="277.35" y="274.23" width="3.00" height="3.00" fill="#fff" stroke="#858585" stroke-width="0.6"/>
<rect x="280.61" y="274.15" width="3.00" height="3.00" fill="#fff" stroke="#858585" stroke-width="0.6"/>
<rect x="283.37" y="274.17" width="3.00" height="3.00" fill="#fff" stroke="#858585" stroke-width="0.6"/>
<rect x="286.10" y="274.15" width="3.00" height="3.00" fill="#fff" stroke="#858585" stroke-width="0.6"/>
<rect x="289.20" y="273.91" width="3.00" height="3.00" fill="#fff" stroke="#858585" stroke-width="0.6"/>
<rect x="292.29" y="273.37" width="3.00" height="3.00" fill="#fff" stroke="#858585" stroke-width="0.6"/>
<rect x="295.18" y="272.66" width="3.00" height="3.00" fill="#fff" stroke="#858585" stroke-width="0.6"/>
<rect x="297.77" y="271.98" width="3.00" height="3.00" fill="#fff" stroke="#858585" stroke-width="0.6"/>
<rect x="300.86" y="271.15" width="3.00" height="3.00" fill="#fff" stroke="#858585" stroke-width="0.6"/>
<rect x="303.43" y="270.38" width="3.00" height="3.00" fill="#fff" stroke="#858585" stroke-width="0.6"/>
<rect x="306.11" y="269.57" width="3.00" height="3.00" fill="#fff" stroke="#858585" stroke-width="0.6"/>
<rect x="308.83" y="268.80" width="3.00" height="3.00" fill="#fff" stroke="#858585" stroke-width="0.6"/>
<rect x="311.52" y="268.17" width="3.00" height="3.00" fill="#fff" stroke="#858585" stroke-width="0.6"/>
<rect x="314.10" y="267.72" width="3.00" height="3.00" fill="#fff" stroke="#858585" stroke-width="0.6"/>
<rect x="317.36" y="267.30" width="3.00" height="3.00" fill="#fff" stroke="#858585" stroke-width="0.6"/>
<rect x="320.66" y="267.03" width="3.00" height="3.00" fill="#fff" stroke="#858585" stroke-width="0.6"/>
<rect x="323.33" y="266.90" width="3.00" height="3.00" fill="#fff" stroke="#858585" stroke-width="0.6"/>
<rect x="326.30" y="266.80" width="3.00" height="3.00" fill="#fff" stroke="#858585" stroke-width="0.6"/>
<rect x="329.67" y="266.71" width="3.00" height="3.00" fill="#fff" stroke="#858585" stroke-width="0.6"/>
<rect x="333.36" y="266.66" width="3.00" height="3.00" fill="#fff" stroke="#858585" stroke-width="0.6"/>
<rect x="335.93" y="266.65" width="3.00" height="3.00" fill="#fff" stroke="#858585" stroke-width="0.6"/>
<rect x="338.52" y="266.68" width="3.00" height="3.00" fill="#fff" stroke="#858585" stroke-width="0.6"/>
<rect x="341.09" y="266.74" width="3.00" height="3.00" fill="#fff" stroke="#858585" stroke-width="0.6"/>
<rect x="343.60" y="266.84" width="3.00" height="3.00" fill="#fff" stroke="#858585" stroke-width="0.6"/>
<rect x="347.18" y="267.10" width="3.00" height="3.00" fill="#fff" stroke="#858585" stroke-width="0.6"/>
<rect x="350.88" y="267.53" width="3.00" height="3.00" fill="#fff" stroke="#858585" stroke-width="0.6"/>
<rect x="354.62" y="268.08" width="3.00" height="3.00" fill="#fff" stroke="#858585" stroke-width="0.6"/>
<rect x="358.13" y="268.68" width="3.00" height="3.00" fill="#fff" stroke="#858585" stroke-width="0.6"/>
<rect x="361.18" y="269.26" width="3.00" height="3.00" fill="#fff" stroke="#858585" stroke-width="0.6"/>
<rect x="364.09" y="269.89" width="3.00" height="3.00" fill="#fff" stroke="#858585" stroke-width="0.6"/>
<rect x="366.00" y="271.50" width="3.00" height="3.00" fill="#fff" stroke="#858585" stroke-width="0.6"/>
<rect x="363.01" y="272.47" width="3.00" height="3.00" fill="#fff" stroke="#858585" stroke-width="0.6"/>
<rect x="360.08" y="273.13" width="3.00" height="3.00" fill="#fff" stroke="#858585" stroke-width="0.6"/>
<rect x="358.50" y="273.50" width="3.00" height="3.00" fill="#fff" stroke="#858585" stroke-width="0.6"/>
<polyline points="275.20,259.40 275.32,259.91 275.47,260.63 275.64,261.50 275.84,262.43 276.07,263.38 276.32,264.26 276.60,265.03 276.90,265.60 277.19,266.02 277.46,266.36 277.73,266.63 278.03,266.82 278.40,266.92 278.87,266.94 279.46,266.87 280.20,266.70 281.12,266.42 282.20,266.02 283.41,265.51 284.71,264.93 286.07,264.29 287.47,263.60 288.85,262.90 290.20,262.20 291.57,261.44 293.03,260.58 294.52,259.66 296.02,258.73 297.49,257.81 298.89,256.95 300.17,256.20 301.30,255.60 302.24,255.11 303.01,254.70 303.66,254.36 304.24,254.09 304.80,253.91 305.40,253.82 306.08,253.81 306.90,253.90 307.89,254.12 309.02,254.47 310.24,254.93 311.49,255.47 312.73,256.05 313.89,256.66 314.93,257.25 315.80,257.80 316.51,258.35 317.12,258.94 317.64,259.56 318.07,260.17 318.43,260.77 318.72,261.32 318.94,261.80 319.10,262.20 319.17,262.50 319.11,262.73 318.96,262.90 318.76,263.02 318.53,263.11 318.30,263.18 318.11,263.24 318.00,263.30" fill="none" stroke="#f07070" stroke-width="0.6"/>
<circle cx="275.20" cy="259.40" r="1.50" fill="#fff" stroke="#f07070" stroke-width="0.6"/>
<circle cx="276.75" cy="265.34" r="1.50" fill="#fff" stroke="#f07070" stroke-width="0.6"/>
<circle cx="278.62" cy="266.94" r="1.50" fill="#fff" stroke="#f07070" stroke-width="0.6"/>
<circle cx="281.64" cy="266.23" r="1.50" fill="#fff" stroke="#f07070" stroke-width="0.6"/>
<circle cx="284.71" cy="264.93" r="1.50" fill="#fff" stroke="#f07070" stroke-width="0.6"/>
<circle cx="287.47" cy="263.60" r="1.50" fill="#fff" stroke="#f07070" stroke-width="0.6"/>
<circle cx="290.20" cy="262.20" r="1.50" fill="#fff" stroke="#f07070" stroke-width="0.6"/>
<circle cx="293.03" cy="260.58" r="1.50" fill="#fff" stroke="#f07070" stroke-width="0.6"/>
<circle cx="296.02" cy="258.73" r="1.50" fill="#fff" stroke="#f07070" stroke-width="0.6"/>
<circle cx="298.89" cy="256.95" r="1.50" fill="#fff" stroke="#f07070" stroke-width="0.6"/>
<circle cx="301.80" cy="255.35" r="1.50" fill="#fff" stroke="#f07070" stroke-width="0.6"/>
<circle cx="304.24" cy="254.09" r="1.50" fill="#fff" stroke="#f07070" stroke-width="0.6"/>
<circle cx="306.90" cy="253.90" r="1.50" fill="#fff" stroke="#f07070" stroke-width="0.6"/>
<circle cx="309.63" cy="254.69" r="1.50" fill="#fff" stroke="#f07070" stroke-width="0.6"/>
<circle cx="312.73" cy="256.05" r="1.50" fill="#fff" stroke="#f07070" stroke-width="0.6"/>
<circle cx="315.39" cy="257.53" r="1.50" fill="#fff" stroke="#f07070" stroke-width="0.6"/>
<circle cx="319.04" cy="262.82" r="1.50" fill="#fff" stroke="#f07070" stroke-width="0.6"/>
<circle cx="318.00" cy="263.30" r="1.50" fill="#fff" stroke="#f07070" stroke-width="0.6"/>
<polyline points="276.30,251.70 276.50,251.77 276.74,251.90 277.02,252.07 277.35,252.22 277.72,252.35 278.14,252.41 278.60,252.37 279.10,252.20 279.67,251.88 280.31,251.42 281.00,250.86 281.73,250.24 282.48,249.59 283.24,248.94 283.99,248.34 284.70,247.80 285.38,247.33 286.05,246.88 286.72,246.45 287.38,246.03 288.05,245.62 288.74,245.22 289.46,244.81 290.20,244.40 291.00,243.98 291.84,243.54 292.73,243.11 293.62,242.67 294.50,242.25 295.36,241.85 296.16,241.46 296.90,241.10 297.58,240.74 298.24,240.37 298.86,240.00 299.45,239.66 299.99,239.35 300.49,239.11 300.92,238.96 301.30,238.90 301.63,238.96 301.94,239.14 302.20,239.40 302.40,239.72 302.54,240.08 302.59,240.45 302.55,240.79 302.40,241.10 302.08,241.39 301.58,241.70 300.96,242.02 300.27,242.34 299.57,242.64 298.92,242.90 298.38,243.13 298.00,243.30" fill="none" stroke="#3f78e6" stroke-width="0.6"/>
<rect x="274.80" y="250.20" width="3.00" height="3.00" fill="#fff" stroke="#3f78e6" stroke-width="0.6"/>
<rect x="277.34" y="250.80" width="3.00" height="3.00" fill="#fff" stroke="#3f78e6" stroke-width="0.6"/>
<rect x="280.23" y="248.74" width="3.00" height="3.00" fill="#fff" stroke="#3f78e6" stroke-width="0.6"/>
<rect x="282.85" y="246.56" width="3.00" height="3.00" fill="#fff" stroke="#3f78e6" stroke-width="0.6"/>
<rect x="285.55" y="244.74" width="3.00" height="3.00" fill="#fff" stroke="#3f78e6" stroke-width="0.6"/>
<rect x="288.32" y="243.11" width="3.00" height="3.00" fill="#fff" stroke="#3f78e6" stroke-width="0.6"/>
<rect x="291.23" y="241.61" width="3.00" height="3.00" fill="#fff" stroke="#3f78e6" stroke-width="0.6"/>
<rect x="293.86" y="240.35" width="3.00" height="3.00" fill="#fff" stroke="#3f78e6" stroke-width="0.6"/>
<rect x="296.74" y="238.87" width="3.00" height="3.00" fill="#fff" stroke="#3f78e6" stroke-width="0.6"/>
<rect x="299.21" y="237.52" width="3.00" height="3.00" fill="#fff" stroke="#3f78e6" stroke-width="0.6"/>
<rect x="300.77" y="239.74" width="3.00" height="3.00" fill="#fff" stroke="#3f78e6" stroke-width="0.6"/>
<rect x="298.07" y="241.14" width="3.00" height="3.00" fill="#fff" stroke="#3f78e6" stroke-width="0.6"/>
<rect x="296.50" y="241.80" width="3.00" height="3.00" fill="#fff" stroke="#3f78e6" stroke-width="0.6"/>
<polyline points="513.80,200.00 513.81,201.05 513.81,202.50 513.80,204.23 513.81,206.12 513.82,208.07 513.85,209.94 513.91,211.62 514.00,213.00 514.11,214.09 514.23,215.02 514.37,215.81 514.53,216.50 514.72,217.13 514.94,217.73 515.20,218.35 515.50,219.00 515.84,219.67 516.22,220.32 516.63,220.95 517.08,221.56 517.56,222.17 518.08,222.77 518.65,223.38 519.25,224.00 519.89,224.62 520.55,225.23 521.25,225.83 521.98,226.44 522.77,227.05 523.62,227.68 524.52,228.33 525.50,229.00 526.52,229.69 527.56,230.37 528.65,231.07 529.80,231.78 531.04,232.52 532.38,233.30 533.87,234.12 535.50,235.00 537.42,235.99 539.67,237.10 542.12,238.29 544.64,239.50 547.12,240.68 549.42,241.77 551.42,242.73 553.00,243.50 554.07,244.02 554.71,244.32 555.05,244.47 555.22,244.54 555.34,244.61 555.54,244.74 555.95,245.02 556.70,245.50 557.81,246.22 559.18,247.11 560.72,248.12 562.36,249.21 564.02,250.33 565.62,251.41 567.07,252.42 568.30,253.30 569.32,254.04 570.20,254.69 570.98,255.28 571.68,255.83 572.33,256.38 572.94,256.95 573.56,257.58 574.20,258.30 574.82,259.08 575.36,259.87 575.87,260.70 576.36,261.57 576.88,262.48 577.46,263.45 578.12,264.49 578.90,265.60 579.77,266.80 580.67,268.08 581.64,269.44 582.67,270.84 583.79,272.29 585.01,273.76 586.34,275.23 587.80,276.70 589.45,278.22 591.31,279.83 593.32,281.49 595.41,283.15 597.52,284.77 599.58,286.30 601.53,287.69 603.30,288.90 604.93,289.91 606.49,290.77 607.98,291.50 609.40,292.13 610.75,292.71 612.04,293.25 613.25,293.81 614.40,294.40 615.49,295.04 616.54,295.70 617.53,296.36 618.44,296.99 619.27,297.59 620.00,298.11 620.61,298.56 621.10,298.90" fill="none" stroke="#000" stroke-width="3.1" stroke-linejoin="round" stroke-linecap="round"/>
<polyline points="513.80,194.00 513.86,194.86 513.93,196.02 514.02,197.41 514.12,198.94 514.22,200.54 514.32,202.13 514.42,203.65 514.50,205.00 514.56,206.25 514.61,207.49 514.65,208.71 514.68,209.89 514.73,211.02 514.79,212.10 514.88,213.09 515.00,214.00 515.14,214.79 515.29,215.47 515.45,216.07 515.64,216.61 515.86,217.12 516.11,217.63 516.40,218.16 516.75,218.75 517.11,219.36 517.46,219.97 517.82,220.57 518.23,221.18 518.73,221.82 519.33,222.49 520.08,223.21 521.00,224.00 522.03,224.84 523.12,225.71 524.31,226.62 525.62,227.58 527.12,228.58 528.82,229.63 530.77,230.74 533.00,231.90 535.68,233.17 538.85,234.57 542.34,236.05 546.00,237.56 549.67,239.07 553.21,240.53 556.46,241.88 559.25,243.10 561.57,244.17 563.56,245.13 565.30,246.01 566.87,246.83 568.37,247.62 569.89,248.39 571.50,249.18 573.30,250.00 575.26,250.85 577.29,251.71 579.37,252.57 581.48,253.42 583.62,254.26 585.76,255.09 587.89,255.91 590.00,256.70 592.09,257.47 594.18,258.21 596.27,258.94 598.36,259.66 600.44,260.36 602.53,261.07 604.62,261.78 606.70,262.50 608.78,263.21 610.85,263.89 612.93,264.56 615.00,265.24 617.07,265.93 619.15,266.67 621.22,267.45 623.30,268.30 625.43,269.24 627.62,270.26 629.85,271.34 632.06,272.45 634.22,273.57 636.29,274.67 638.23,275.72 640.00,276.70 641.58,277.60 643.00,278.45 644.29,279.25 645.49,280.04 646.62,280.82 647.73,281.61 648.85,282.43 650.00,283.30 651.20,284.22 652.41,285.17 653.62,286.14 654.80,287.13 655.94,288.12 657.02,289.12 658.01,290.12 658.90,291.10 659.69,292.10 660.39,293.13 661.02,294.17 661.59,295.21 662.09,296.22 662.54,297.19 662.94,298.09 663.30,298.90 663.60,299.64 663.83,300.34 664.00,300.99 664.12,301.59 664.21,302.12 664.28,302.59 664.34,302.98 664.40,303.30" fill="none" stroke="#f21c1c" stroke-width="0.8"/>
<circle cx="513.80" cy="194.00" r="1.75" fill="#f21c1c"/>
<circle cx="513.89" cy="195.41" r="1.75" fill="#f21c1c"/>
<circle cx="513.97" cy="196.69" r="1.75" fill="#f21c1c"/>
<circle cx="514.07" cy="198.16" r="1.75" fill="#f21c1c"/>
<circle cx="514.17" cy="199.73" r="1.75" fill="#f21c1c"/>
<circle cx="514.27" cy="201.34" r="1.75" fill="#f21c1c"/>
<circle cx="514.37" cy="202.90" r="1.75" fill="#f21c1c"/>
<circle cx="514.46" cy="204.35" r="1.75" fill="#f21c1c"/>
<circle cx="514.53" cy="205.63" r="1.75" fill="#f21c1c"/>
<circle cx="514.59" cy="206.87" r="1.75" fill="#f21c1c"/>
<circle cx="514.63" cy="208.10" r="1.75" fill="#f21c1c"/>
<circle cx="514.67" cy="209.30" r="1.75" fill="#f21c1c"/>
<circle cx="514.71" cy="210.46" r="1.75" fill="#f21c1c"/>
<circle cx="514.76" cy="211.57" r="1.75" fill="#f21c1c"/>
<circle cx="514.83" cy="212.60" r="1.75" fill="#f21c1c"/>
<circle cx="515.00" cy="214.00" r="1.75" fill="#f21c1c"/>
<circle cx="515.22" cy="215.15" r="1.75" fill="#f21c1c"/>
<circle cx="515.54" cy="216.35" r="1.75" fill="#f21c1c"/>
<circle cx="515.98" cy="217.37" r="1.75" fill="#f21c1c"/>
<circle cx="516.57" cy="218.45" r="1.75" fill="#f21c1c"/>
<circle cx="517.11" cy="219.36" r="1.75" fill="#f21c1c"/>
<circle cx="517.63" cy="220.26" r="1.75" fill="#f21c1c"/>
<circle cx="518.47" cy="221.49" r="1.75" fill="#f21c1c"/>
<circle cx="519.69" cy="222.84" r="1.75" fill="#f21c1c"/>
<circle cx="521.51" cy="224.41" r="1.75" fill="#f21c1c"/>
<circle cx="523.70" cy="226.16" r="1.75" fill="#f21c1c"/>
<circle cx="525.62" cy="227.58" r="1.75" fill="#f21c1c"/>
<circle cx="527.94" cy="229.10" r="1.75" fill="#f21c1c"/>
<circle cx="530.77" cy="230.74" r="1.75" fill="#f21c1c"/>
<circle cx="534.27" cy="232.52" r="1.75" fill="#f21c1c"/>
<circle cx="537.21" cy="233.86" r="1.75" fill="#f21c1c"/>
<circle cx="540.56" cy="235.30" r="1.75" fill="#f21c1c"/>
<circle cx="544.15" cy="236.80" r="1.75" fill="#f21c1c"/>
<circle cx="547.84" cy="238.32" r="1.75" fill="#f21c1c"/>
<circle cx="551.47" cy="239.81" r="1.75" fill="#f21c1c"/>
<circle cx="554.88" cy="241.22" r="1.75" fill="#f21c1c"/>
<circle cx="557.92" cy="242.51" r="1.75" fill="#f21c1c"/>
<circle cx="561.57" cy="244.17" r="1.75" fill="#f21c1c"/>
<circle cx="564.45" cy="245.58" r="1.75" fill="#f21c1c"/>
<circle cx="566.87" cy="246.83" r="1.75" fill="#f21c1c"/>
<circle cx="569.89" cy="248.39" r="1.75" fill="#f21c1c"/>
<circle cx="573.30" cy="250.00" r="1.75" fill="#f21c1c"/>
<circle cx="576.27" cy="251.28" r="1.75" fill="#f21c1c"/>
<circle cx="579.37" cy="252.57" r="1.75" fill="#f21c1c"/>
<circle cx="582.55" cy="253.84" r="1.75" fill="#f21c1c"/>
<circle cx="585.76" cy="255.09" r="1.75" fill="#f21c1c"/>
<circle cx="588.95" cy="256.31" r="1.75" fill="#f21c1c"/>
<circle cx="592.09" cy="257.47" r="1.75" fill="#f21c1c"/>
<circle cx="595.22" cy="258.58" r="1.75" fill="#f21c1c"/>
<circle cx="598.36" cy="259.66" r="1.75" fill="#f21c1c"/>
<circle cx="601.49" cy="260.72" r="1.75" fill="#f21c1c"/>
<circle cx="604.62" cy="261.78" r="1.75" fill="#f21c1c"/>
<circle cx="607.74" cy="262.86" r="1.75" fill="#f21c1c"/>
<circle cx="610.85" cy="263.89" r="1.75" fill="#f21c1c"/>
<circle cx="613.96" cy="264.90" r="1.75" fill="#f21c1c"/>
<circle cx="617.07" cy="265.93" r="1.75" fill="#f21c1c"/>
<circle cx="620.18" cy="267.05" r="1.75" fill="#f21c1c"/>
<circle cx="623.30" cy="268.30" r="1.75" fill="#f21c1c"/>
<circle cx="626.52" cy="269.74" r="1.75" fill="#f21c1c"/>
<circle cx="629.85" cy="271.34" r="1.75" fill="#f21c1c"/>
<circle cx="633.15" cy="273.01" r="1.75" fill="#f21c1c"/>
<circle cx="636.29" cy="274.67" r="1.75" fill="#f21c1c"/>
<circle cx="639.14" cy="276.22" r="1.75" fill="#f21c1c"/>
<circle cx="641.58" cy="277.60" r="1.75" fill="#f21c1c"/>
<circle cx="644.29" cy="279.25" r="1.75" fill="#f21c1c"/>
<circle cx="646.62" cy="280.82" r="1.75" fill="#f21c1c"/>
<circle cx="648.85" cy="282.43" r="1.75" fill="#f21c1c"/>
<circle cx="650.59" cy="283.75" r="1.75" fill="#f21c1c"/>
<circle cx="652.41" cy="285.17" r="1.75" fill="#f21c1c"/>
<circle cx="654.21" cy="286.63" r="1.75" fill="#f21c1c"/>
<circle cx="655.94" cy="288.12" r="1.75" fill="#f21c1c"/>
<circle cx="657.53" cy="289.62" r="1.75" fill="#f21c1c"/>
<circle cx="658.90" cy="291.10" r="1.75" fill="#f21c1c"/>
<circle cx="659.69" cy="292.10" r="1.75" fill="#f21c1c"/>
<circle cx="660.39" cy="293.13" r="1.75" fill="#f21c1c"/>
<circle cx="661.02" cy="294.17" r="1.75" fill="#f21c1c"/>
<circle cx="661.59" cy="295.21" r="1.75" fill="#f21c1c"/>
<circle cx="662.09" cy="296.22" r="1.75" fill="#f21c1c"/>
<circle cx="662.54" cy="297.19" r="1.75" fill="#f21c1c"/>
<circle cx="663.12" cy="298.51" r="1.75" fill="#f21c1c"/>
<circle cx="663.60" cy="299.64" r="1.75" fill="#f21c1c"/>
<circle cx="663.92" cy="300.67" r="1.75" fill="#f21c1c"/>
<circle cx="664.17" cy="301.86" r="1.75" fill="#f21c1c"/>
<circle cx="664.34" cy="302.98" r="1.75" fill="#f21c1c"/>
<circle cx="664.40" cy="303.30" r="1.75" fill="#f21c1c"/>
<polyline points="513.80,194.20 513.80,195.69 513.78,197.77 513.76,200.25 513.75,202.96 513.75,205.72 513.77,208.34 513.82,210.66 513.90,212.50 514.01,213.87 514.14,214.94 514.30,215.78 514.47,216.46 514.68,217.03 514.91,217.56 515.19,218.11 515.50,218.75 515.85,219.43 516.23,220.09 516.64,220.72 517.08,221.33 517.57,221.93 518.09,222.53 518.65,223.13 519.25,223.75 519.89,224.37 520.55,224.98 521.25,225.60 521.98,226.21 522.77,226.83 523.62,227.45 524.52,228.09 525.50,228.75 526.54,229.41 527.62,230.07 528.76,230.74 529.95,231.42 531.22,232.12 532.56,232.84 533.99,233.60 535.50,234.40 537.08,235.21 538.72,236.01 540.42,236.83 542.20,237.68 544.08,238.60 546.08,239.59 548.22,240.68 550.50,241.90 553.02,243.31 555.79,244.91 558.75,246.65 561.79,248.45 564.85,250.25 567.85,251.99 570.69,253.59 573.30,255.00 575.68,256.21 577.90,257.29 580.01,258.26 582.03,259.15 584.01,259.99 585.97,260.81 587.95,261.64 590.00,262.50 592.09,263.36 594.18,264.19 596.27,264.99 598.36,265.78 600.44,266.58 602.53,267.41 604.62,268.28 606.70,269.20 608.85,270.19 611.09,271.24 613.37,272.32 615.63,273.43 617.80,274.55 619.85,275.66 621.70,276.75 623.30,277.80 624.67,278.82 625.88,279.83 626.93,280.84 627.83,281.83 628.57,282.80 629.18,283.75 629.66,284.69 630.00,285.60 630.18,286.50 630.18,287.38 630.02,288.26 629.74,289.11 629.35,289.93 628.87,290.73 628.35,291.48 627.80,292.20 627.17,292.87 626.41,293.50 625.56,294.09 624.66,294.66 623.72,295.19 622.80,295.71 621.91,296.21 621.10,296.70 620.32,297.19 619.51,297.69 618.71,298.17 617.93,298.63 617.21,299.06 616.56,299.44 616.02,299.75 615.60,300.00" fill="none" stroke="#1a5ee0" stroke-width="0.8"/>
<path d="M511.58,195.86L516.02,195.86L513.80,191.98Z" fill="#1a5ee0"/>
<path d="M511.58,197.36L516.02,197.36L513.80,193.47Z" fill="#1a5ee0"/>
<path d="M511.56,199.44L516.00,199.44L513.78,195.55Z" fill="#1a5ee0"/>
<path d="M511.55,200.64L515.99,200.64L513.77,196.75Z" fill="#1a5ee0"/>
<path d="M511.54,201.92L515.98,201.92L513.76,198.03Z" fill="#1a5ee0"/>
<path d="M511.54,203.25L515.98,203.25L513.76,199.37Z" fill="#1a5ee0"/>
<path d="M511.53,204.62L515.97,204.62L513.75,200.74Z" fill="#1a5ee0"/>
<path d="M511.53,206.01L515.97,206.01L513.75,202.12Z" fill="#1a5ee0"/>
<path d="M511.53,207.38L515.97,207.38L513.75,203.50Z" fill="#1a5ee0"/>
<path d="M511.53,208.72L515.97,208.72L513.75,204.84Z" fill="#1a5ee0"/>
<path d="M511.55,210.01L515.99,210.01L513.77,206.12Z" fill="#1a5ee0"/>
<path d="M511.57,211.22L516.01,211.22L513.79,207.33Z" fill="#1a5ee0"/>
<path d="M511.60,212.33L516.04,212.33L513.82,208.44Z" fill="#1a5ee0"/>
<path d="M511.68,214.16L516.12,214.16L513.90,210.28Z" fill="#1a5ee0"/>
<path d="M511.79,215.53L516.23,215.53L514.01,211.65Z" fill="#1a5ee0"/>
<path d="M511.92,216.60L516.36,216.60L514.14,212.72Z" fill="#1a5ee0"/>
<path d="M512.16,217.80L516.60,217.80L514.38,213.92Z" fill="#1a5ee0"/>
<path d="M512.57,218.96L517.01,218.96L514.79,215.07Z" fill="#1a5ee0"/>
<path d="M513.12,220.08L517.56,220.08L515.34,216.20Z" fill="#1a5ee0"/>
<path d="M513.63,221.10L518.07,221.10L515.85,217.21Z" fill="#1a5ee0"/>
<path d="M514.21,222.07L518.65,222.07L516.43,218.18Z" fill="#1a5ee0"/>
<path d="M514.86,222.99L519.30,222.99L517.08,219.11Z" fill="#1a5ee0"/>
<path d="M515.60,223.89L520.04,223.89L517.82,220.01Z" fill="#1a5ee0"/>
<path d="M516.43,224.80L520.87,224.80L518.65,220.91Z" fill="#1a5ee0"/>
<path d="M517.35,225.73L521.79,225.73L519.57,221.84Z" fill="#1a5ee0"/>
<path d="M518.33,226.65L522.77,226.65L520.55,222.76Z" fill="#1a5ee0"/>
<path d="M519.39,227.57L523.83,227.57L521.61,223.68Z" fill="#1a5ee0"/>
<path d="M520.55,228.49L524.99,228.49L522.77,224.61Z" fill="#1a5ee0"/>
<path d="M521.84,229.44L526.28,229.44L524.06,225.55Z" fill="#1a5ee0"/>
<path d="M523.28,230.41L527.72,230.41L525.50,226.53Z" fill="#1a5ee0"/>
<path d="M524.85,231.41L529.29,231.41L527.07,227.52Z" fill="#1a5ee0"/>
<path d="M526.54,232.40L530.98,232.40L528.76,228.52Z" fill="#1a5ee0"/>
<path d="M528.36,233.43L532.80,233.43L530.58,229.55Z" fill="#1a5ee0"/>
<path d="M530.34,234.51L534.78,234.51L532.56,230.62Z" fill="#1a5ee0"/>
<path d="M532.51,235.66L536.95,235.66L534.73,231.77Z" fill="#1a5ee0"/>
<path d="M534.07,236.47L538.51,236.47L536.29,232.59Z" fill="#1a5ee0"/>
<path d="M535.67,237.28L540.11,237.28L537.89,233.39Z" fill="#1a5ee0"/>
<path d="M537.34,238.08L541.78,238.08L539.56,234.20Z" fill="#1a5ee0"/>
<path d="M539.08,238.92L543.52,238.92L541.30,235.03Z" fill="#1a5ee0"/>
<path d="M540.91,239.80L545.35,239.80L543.13,235.91Z" fill="#1a5ee0"/>
<path d="M542.85,240.75L547.29,240.75L545.07,236.86Z" fill="#1a5ee0"/>
<path d="M544.91,241.79L549.35,241.79L547.13,237.90Z" fill="#1a5ee0"/>
<path d="M547.12,242.94L551.56,242.94L549.34,239.05Z" fill="#1a5ee0"/>
<path d="M549.50,244.24L553.94,244.24L551.72,240.36Z" fill="#1a5ee0"/>
<path d="M552.16,245.75L556.60,245.75L554.38,241.87Z" fill="#1a5ee0"/>
<path d="M555.03,247.43L559.47,247.43L557.25,243.55Z" fill="#1a5ee0"/>
<path d="M556.53,248.31L560.97,248.31L558.75,244.43Z" fill="#1a5ee0"/>
<path d="M558.04,249.21L562.48,249.21L560.26,245.33Z" fill="#1a5ee0"/>
<path d="M559.57,250.12L564.01,250.12L561.79,246.23Z" fill="#1a5ee0"/>
<path d="M561.11,251.02L565.55,251.02L563.33,247.13Z" fill="#1a5ee0"/>
<path d="M562.63,251.92L567.07,251.92L564.85,248.03Z" fill="#1a5ee0"/>
<path d="M564.14,252.80L568.58,252.80L566.36,248.91Z" fill="#1a5ee0"/>
<path d="M565.63,253.65L570.07,253.65L567.85,249.77Z" fill="#1a5ee0"/>
<path d="M567.07,254.48L571.51,254.48L569.29,250.59Z" fill="#1a5ee0"/>
<path d="M569.81,255.99L574.25,255.99L572.03,252.10Z" fill="#1a5ee0"/>
<path d="M572.29,257.29L576.73,257.29L574.51,253.40Z" fill="#1a5ee0"/>
<path d="M574.59,258.43L579.03,258.43L576.81,254.54Z" fill="#1a5ee0"/>
<path d="M576.75,259.45L581.19,259.45L578.97,255.56Z" fill="#1a5ee0"/>
<path d="M578.81,260.38L583.25,260.38L581.03,256.49Z" fill="#1a5ee0"/>
<path d="M580.80,261.24L585.24,261.24L583.02,257.36Z" fill="#1a5ee0"/>
<path d="M582.77,262.07L587.21,262.07L584.99,258.18Z" fill="#1a5ee0"/>
<path d="M584.74,262.89L589.18,262.89L586.96,259.00Z" fill="#1a5ee0"/>
<path d="M586.75,263.73L591.19,263.73L588.97,259.84Z" fill="#1a5ee0"/>
<path d="M588.82,264.60L593.26,264.60L591.04,260.72Z" fill="#1a5ee0"/>
<path d="M590.91,265.44L595.35,265.44L593.13,261.56Z" fill="#1a5ee0"/>
<path d="M593.00,266.25L597.44,266.25L595.22,262.37Z" fill="#1a5ee0"/>
<path d="M595.09,267.05L599.53,267.05L597.31,263.16Z" fill="#1a5ee0"/>
<path d="M597.18,267.85L601.62,267.85L599.40,263.96Z" fill="#1a5ee0"/>
<path d="M599.27,268.66L603.71,268.66L601.49,264.77Z" fill="#1a5ee0"/>
<path d="M601.35,269.50L605.79,269.50L603.57,265.62Z" fill="#1a5ee0"/>
<path d="M603.44,270.40L607.88,270.40L605.66,266.51Z" fill="#1a5ee0"/>
<path d="M605.54,271.35L609.98,271.35L607.76,267.47Z" fill="#1a5ee0"/>
<path d="M607.74,272.37L612.18,272.37L609.96,268.49Z" fill="#1a5ee0"/>
<path d="M610.01,273.44L614.45,273.44L612.23,269.55Z" fill="#1a5ee0"/>
<path d="M612.28,274.54L616.72,274.54L614.50,270.65Z" fill="#1a5ee0"/>
<path d="M614.51,275.66L618.95,275.66L616.73,271.77Z" fill="#1a5ee0"/>
<path d="M616.63,276.77L621.07,276.77L618.85,272.89Z" fill="#1a5ee0"/>
<path d="M618.58,277.87L623.02,277.87L620.80,273.99Z" fill="#1a5ee0"/>
<path d="M620.31,278.95L624.75,278.95L622.53,275.06Z" fill="#1a5ee0"/>
<path d="M621.79,279.98L626.23,279.98L624.01,276.09Z" fill="#1a5ee0"/>
<path d="M623.08,280.99L627.52,280.99L625.30,277.11Z" fill="#1a5ee0"/>
<path d="M624.20,282.00L628.64,282.00L626.42,278.12Z" fill="#1a5ee0"/>
<path d="M625.18,283.00L629.62,283.00L627.40,279.11Z" fill="#1a5ee0"/>
<path d="M626.00,283.98L630.44,283.98L628.22,280.09Z" fill="#1a5ee0"/>
<path d="M626.68,284.94L631.12,284.94L628.90,281.06Z" fill="#1a5ee0"/>
<path d="M627.22,285.89L631.66,285.89L629.44,282.00Z" fill="#1a5ee0"/>
<path d="M627.62,286.81L632.06,286.81L629.84,282.93Z" fill="#1a5ee0"/>
<path d="M627.96,288.16L632.40,288.16L630.18,284.28Z" fill="#1a5ee0"/>
<path d="M627.90,289.49L632.34,289.49L630.12,285.60Z" fill="#1a5ee0"/>
<path d="M627.52,290.77L631.96,290.77L629.74,286.89Z" fill="#1a5ee0"/>
<path d="M626.90,292.00L631.34,292.00L629.12,288.11Z" fill="#1a5ee0"/>
<path d="M626.13,293.15L630.57,293.15L628.35,289.26Z" fill="#1a5ee0"/>
<path d="M625.28,294.21L629.72,294.21L627.50,290.32Z" fill="#1a5ee0"/>
<path d="M624.19,295.17L628.63,295.17L626.41,291.28Z" fill="#1a5ee0"/>
<path d="M622.44,296.32L626.88,296.32L624.66,292.44Z" fill="#1a5ee0"/>
<path d="M620.58,297.37L625.02,297.37L622.80,293.49Z" fill="#1a5ee0"/>
<path d="M618.88,298.37L623.32,298.37L621.10,294.48Z" fill="#1a5ee0"/>
<path d="M617.29,299.35L621.73,299.35L619.51,295.47Z" fill="#1a5ee0"/>
<path d="M615.71,300.30L620.15,300.30L617.93,296.41Z" fill="#1a5ee0"/>
<path d="M614.05,301.27L618.49,301.27L616.27,297.38Z" fill="#1a5ee0"/>
<path d="M613.38,301.67L617.82,301.67L615.60,297.78Z" fill="#1a5ee0"/>
<rect x="630.70" y="306.70" width="3.00" height="3.00" fill="#000"/>
<circle cx="515.60" cy="206.00" r="1.60" fill="#f21c1c"/>
<circle cx="516.00" cy="211.00" r="1.60" fill="#f21c1c"/>
<circle cx="515.50" cy="215.00" r="1.60" fill="#f21c1c"/>
<polyline points="517.00,299.50 518.89,299.63 521.30,299.80 524.17,300.01 527.41,300.24 530.94,300.48 534.68,300.73 538.56,300.97 542.50,301.20 546.53,301.43 550.74,301.69 555.13,301.95 559.72,302.21 564.49,302.45 569.46,302.67 574.63,302.86 580.00,303.00 585.99,303.09 592.79,303.13 600.03,303.13 607.34,303.11 614.36,303.08 620.72,303.04 626.06,303.01 630.00,303.00" fill="none" stroke="#858585" stroke-width="0.6"/>
<rect x="515.75" y="298.25" width="2.50" height="2.50" fill="#fff" stroke="#858585" stroke-width="0.6"/>
<rect x="518.78" y="298.46" width="2.50" height="2.50" fill="#fff" stroke="#858585" stroke-width="0.6"/>
<rect x="521.43" y="298.65" width="2.50" height="2.50" fill="#fff" stroke="#858585" stroke-width="0.6"/>
<rect x="524.50" y="298.87" width="2.50" height="2.50" fill="#fff" stroke="#858585" stroke-width="0.6"/>
<rect x="527.89" y="299.11" width="2.50" height="2.50" fill="#fff" stroke="#858585" stroke-width="0.6"/>
<rect x="531.54" y="299.35" width="2.50" height="2.50" fill="#fff" stroke="#858585" stroke-width="0.6"/>
<rect x="535.36" y="299.60" width="2.50" height="2.50" fill="#fff" stroke="#858585" stroke-width="0.6"/>
<rect x="539.28" y="299.84" width="2.50" height="2.50" fill="#fff" stroke="#858585" stroke-width="0.6"/>
<rect x="543.24" y="300.06" width="2.50" height="2.50" fill="#fff" stroke="#858585" stroke-width="0.6"/>
<rect x="547.36" y="300.31" width="2.50" height="2.50" fill="#fff" stroke="#858585" stroke-width="0.6"/>
<rect x="551.66" y="300.57" width="2.50" height="2.50" fill="#fff" stroke="#858585" stroke-width="0.6"/>
<rect x="556.15" y="300.83" width="2.50" height="2.50" fill="#fff" stroke="#858585" stroke-width="0.6"/>
<rect x="560.83" y="301.08" width="2.50" height="2.50" fill="#fff" stroke="#858585" stroke-width="0.6"/>
<rect x="565.71" y="301.32" width="2.50" height="2.50" fill="#fff" stroke="#858585" stroke-width="0.6"/>
<rect x="568.21" y="301.42" width="2.50" height="2.50" fill="#fff" stroke="#858585" stroke-width="0.6"/>
<rect x="570.77" y="301.52" width="2.50" height="2.50" fill="#fff" stroke="#858585" stroke-width="0.6"/>
<rect x="573.38" y="301.61" width="2.50" height="2.50" fill="#fff" stroke="#858585" stroke-width="0.6"/>
<rect x="576.04" y="301.69" width="2.50" height="2.50" fill="#fff" stroke="#858585" stroke-width="0.6"/>
<rect x="578.75" y="301.75" width="2.50" height="2.50" fill="#fff" stroke="#858585" stroke-width="0.6"/>
<rect x="581.62" y="301.80" width="2.50" height="2.50" fill="#fff" stroke="#858585" stroke-width="0.6"/>
<rect x="584.74" y="301.84" width="2.50" height="2.50" fill="#fff" stroke="#858585" stroke-width="0.6"/>
<rect x="588.07" y="301.86" width="2.50" height="2.50" fill="#fff" stroke="#858585" stroke-width="0.6"/>
<rect x="591.54" y="301.88" width="2.50" height="2.50" fill="#fff" stroke="#858585" stroke-width="0.6"/>
<rect x="595.13" y="301.88" width="2.50" height="2.50" fill="#fff" stroke="#858585" stroke-width="0.6"/>
<rect x="598.78" y="301.88" width="2.50" height="2.50" fill="#fff" stroke="#858585" stroke-width="0.6"/>
<rect x="602.45" y="301.87" width="2.50" height="2.50" fill="#fff" stroke="#858585" stroke-width="0.6"/>
<rect x="606.09" y="301.86" width="2.50" height="2.50" fill="#fff" stroke="#858585" stroke-width="0.6"/>
<rect x="609.66" y="301.85" width="2.50" height="2.50" fill="#fff" stroke="#858585" stroke-width="0.6"/>
<rect x="613.11" y="301.83" width="2.50" height="2.50" fill="#fff" stroke="#858585" stroke-width="0.6"/>
<rect x="616.40" y="301.81" width="2.50" height="2.50" fill="#fff" stroke="#858585" stroke-width="0.6"/>
<rect x="619.47" y="301.79" width="2.50" height="2.50" fill="#fff" stroke="#858585" stroke-width="0.6"/>
<rect x="622.29" y="301.78" width="2.50" height="2.50" fill="#fff" stroke="#858585" stroke-width="0.6"/>
<rect x="624.81" y="301.76" width="2.50" height="2.50" fill="#fff" stroke="#858585" stroke-width="0.6"/>
<rect x="628.75" y="301.75" width="2.50" height="2.50" fill="#fff" stroke="#858585" stroke-width="0.6"/>
<polyline points="517.00,302.00 518.89,302.14 521.30,302.33 524.17,302.55 527.41,302.80 530.94,303.05 534.68,303.31 538.56,303.54 542.50,303.75 546.73,303.94 551.44,304.12 556.45,304.29 561.59,304.45 566.69,304.61 571.57,304.75 576.07,304.88 580.00,305.00 583.03,305.11 585.16,305.22 586.78,305.31 588.24,305.40 589.93,305.46 592.20,305.51 595.44,305.52 600.00,305.50 606.47,305.43 614.73,305.31 624.14,305.16 634.05,304.98 643.80,304.80 652.74,304.64 660.23,304.50 665.60,304.40" fill="none" stroke="#f07070" stroke-width="0.6"/>
<circle cx="517.00" cy="302.00" r="1.25" fill="#fff" stroke="#f07070" stroke-width="0.6"/>
<circle cx="520.03" cy="302.23" r="1.25" fill="#fff" stroke="#f07070" stroke-width="0.6"/>
<circle cx="522.68" cy="302.43" r="1.25" fill="#fff" stroke="#f07070" stroke-width="0.6"/>
<circle cx="525.75" cy="302.67" r="1.25" fill="#fff" stroke="#f07070" stroke-width="0.6"/>
<circle cx="529.14" cy="302.92" r="1.25" fill="#fff" stroke="#f07070" stroke-width="0.6"/>
<circle cx="532.79" cy="303.18" r="1.25" fill="#fff" stroke="#f07070" stroke-width="0.6"/>
<circle cx="536.61" cy="303.43" r="1.25" fill="#fff" stroke="#f07070" stroke-width="0.6"/>
<circle cx="540.53" cy="303.65" r="1.25" fill="#fff" stroke="#f07070" stroke-width="0.6"/>
<circle cx="544.55" cy="303.84" r="1.25" fill="#fff" stroke="#f07070" stroke-width="0.6"/>
<circle cx="549.04" cy="304.03" r="1.25" fill="#fff" stroke="#f07070" stroke-width="0.6"/>
<circle cx="553.92" cy="304.20" r="1.25" fill="#fff" stroke="#f07070" stroke-width="0.6"/>
<circle cx="556.45" cy="304.29" r="1.25" fill="#fff" stroke="#f07070" stroke-width="0.6"/>
<circle cx="559.02" cy="304.37" r="1.25" fill="#fff" stroke="#f07070" stroke-width="0.6"/>
<circle cx="561.59" cy="304.45" r="1.25" fill="#fff" stroke="#f07070" stroke-width="0.6"/>
<circle cx="564.16" cy="304.53" r="1.25" fill="#fff" stroke="#f07070" stroke-width="0.6"/>
<circle cx="566.69" cy="304.61" r="1.25" fill="#fff" stroke="#f07070" stroke-width="0.6"/>
<circle cx="571.57" cy="304.75" r="1.25" fill="#fff" stroke="#f07070" stroke-width="0.6"/>
<circle cx="576.07" cy="304.88" r="1.25" fill="#fff" stroke="#f07070" stroke-width="0.6"/>
<circle cx="580.00" cy="305.00" r="1.25" fill="#fff" stroke="#f07070" stroke-width="0.6"/>
<circle cx="583.03" cy="305.11" r="1.25" fill="#fff" stroke="#f07070" stroke-width="0.6"/>
<circle cx="586.01" cy="305.27" r="1.25" fill="#fff" stroke="#f07070" stroke-width="0.6"/>
<circle cx="589.04" cy="305.43" r="1.25" fill="#fff" stroke="#f07070" stroke-width="0.6"/>
<circle cx="592.20" cy="305.51" r="1.25" fill="#fff" stroke="#f07070" stroke-width="0.6"/>
<circle cx="595.44" cy="305.52" r="1.25" fill="#fff" stroke="#f07070" stroke-width="0.6"/>
<circle cx="600.00" cy="305.50" r="1.25" fill="#fff" stroke="#f07070" stroke-width="0.6"/>
<circle cx="602.97" cy="305.47" r="1.25" fill="#fff" stroke="#f07070" stroke-width="0.6"/>
<circle cx="606.47" cy="305.43" r="1.25" fill="#fff" stroke="#f07070" stroke-width="0.6"/>
<circle cx="610.41" cy="305.38" r="1.25" fill="#fff" stroke="#f07070" stroke-width="0.6"/>
<circle cx="614.73" cy="305.31" r="1.25" fill="#fff" stroke="#f07070" stroke-width="0.6"/>
<circle cx="619.33" cy="305.24" r="1.25" fill="#fff" stroke="#f07070" stroke-width="0.6"/>
<circle cx="624.14" cy="305.16" r="1.25" fill="#fff" stroke="#f07070" stroke-width="0.6"/>
<circle cx="629.08" cy="305.07" r="1.25" fill="#fff" stroke="#f07070" stroke-width="0.6"/>
<circle cx="634.05" cy="304.98" r="1.25" fill="#fff" stroke="#f07070" stroke-width="0.6"/>
<circle cx="638.99" cy="304.89" r="1.25" fill="#fff" stroke="#f07070" stroke-width="0.6"/>
<circle cx="643.80" cy="304.80" r="1.25" fill="#fff" stroke="#f07070" stroke-width="0.6"/>
<circle cx="648.41" cy="304.72" r="1.25" fill="#fff" stroke="#f07070" stroke-width="0.6"/>
<circle cx="652.74" cy="304.64" r="1.25" fill="#fff" stroke="#f07070" stroke-width="0.6"/>
<circle cx="656.71" cy="304.56" r="1.25" fill="#fff" stroke="#f07070" stroke-width="0.6"/>
<circle cx="660.23" cy="304.50" r="1.25" fill="#fff" stroke="#f07070" stroke-width="0.6"/>
<circle cx="663.22" cy="304.44" r="1.25" fill="#fff" stroke="#f07070" stroke-width="0.6"/>
<circle cx="665.60" cy="304.40" r="1.25" fill="#fff" stroke="#f07070" stroke-width="0.6"/>
<polyline points="517.00,296.25 518.89,296.44 521.30,296.70 524.17,297.00 527.41,297.34 530.94,297.70 534.68,298.07 538.56,298.42 542.50,298.75 546.73,299.07 551.44,299.42 556.45,299.76 561.59,300.11 566.69,300.44 571.57,300.75 576.07,301.02 580.00,301.25 583.27,301.44 586.00,301.59 588.34,301.71 590.47,301.81 592.54,301.88 594.71,301.93 597.14,301.97 600.00,302.00 603.48,302.00 607.50,301.97 611.84,301.92 616.25,301.85 620.51,301.77 624.38,301.70 627.62,301.64 630.00,301.60" fill="none" stroke="#3f78e6" stroke-width="0.6"/>
<rect x="515.75" y="295.00" width="2.50" height="2.50" fill="#fff" stroke="#3f78e6" stroke-width="0.6"/>
<rect x="518.78" y="295.31" width="2.50" height="2.50" fill="#fff" stroke="#3f78e6" stroke-width="0.6"/>
<rect x="521.43" y="295.60" width="2.50" height="2.50" fill="#fff" stroke="#3f78e6" stroke-width="0.6"/>
<rect x="524.50" y="295.92" width="2.50" height="2.50" fill="#fff" stroke="#3f78e6" stroke-width="0.6"/>
<rect x="527.89" y="296.27" width="2.50" height="2.50" fill="#fff" stroke="#3f78e6" stroke-width="0.6"/>
<rect x="531.54" y="296.63" width="2.50" height="2.50" fill="#fff" stroke="#3f78e6" stroke-width="0.6"/>
<rect x="535.36" y="297.00" width="2.50" height="2.50" fill="#fff" stroke="#3f78e6" stroke-width="0.6"/>
<rect x="539.28" y="297.34" width="2.50" height="2.50" fill="#fff" stroke="#3f78e6" stroke-width="0.6"/>
<rect x="543.30" y="297.66" width="2.50" height="2.50" fill="#fff" stroke="#3f78e6" stroke-width="0.6"/>
<rect x="547.79" y="297.99" width="2.50" height="2.50" fill="#fff" stroke="#3f78e6" stroke-width="0.6"/>
<rect x="552.67" y="298.34" width="2.50" height="2.50" fill="#fff" stroke="#3f78e6" stroke-width="0.6"/>
<rect x="555.20" y="298.51" width="2.50" height="2.50" fill="#fff" stroke="#3f78e6" stroke-width="0.6"/>
<rect x="557.77" y="298.69" width="2.50" height="2.50" fill="#fff" stroke="#3f78e6" stroke-width="0.6"/>
<rect x="560.34" y="298.86" width="2.50" height="2.50" fill="#fff" stroke="#3f78e6" stroke-width="0.6"/>
<rect x="562.91" y="299.03" width="2.50" height="2.50" fill="#fff" stroke="#3f78e6" stroke-width="0.6"/>
<rect x="565.44" y="299.19" width="2.50" height="2.50" fill="#fff" stroke="#3f78e6" stroke-width="0.6"/>
<rect x="570.32" y="299.50" width="2.50" height="2.50" fill="#fff" stroke="#3f78e6" stroke-width="0.6"/>
<rect x="574.82" y="299.77" width="2.50" height="2.50" fill="#fff" stroke="#3f78e6" stroke-width="0.6"/>
<rect x="578.75" y="300.00" width="2.50" height="2.50" fill="#fff" stroke="#3f78e6" stroke-width="0.6"/>
<rect x="582.02" y="300.19" width="2.50" height="2.50" fill="#fff" stroke="#3f78e6" stroke-width="0.6"/>
<rect x="584.75" y="300.34" width="2.50" height="2.50" fill="#fff" stroke="#3f78e6" stroke-width="0.6"/>
<rect x="588.17" y="300.51" width="2.50" height="2.50" fill="#fff" stroke="#3f78e6" stroke-width="0.6"/>
<rect x="591.29" y="300.63" width="2.50" height="2.50" fill="#fff" stroke="#3f78e6" stroke-width="0.6"/>
<rect x="594.63" y="300.71" width="2.50" height="2.50" fill="#fff" stroke="#3f78e6" stroke-width="0.6"/>
<rect x="597.26" y="300.74" width="2.50" height="2.50" fill="#fff" stroke="#3f78e6" stroke-width="0.6"/>
<rect x="600.41" y="300.76" width="2.50" height="2.50" fill="#fff" stroke="#3f78e6" stroke-width="0.6"/>
<rect x="604.18" y="300.74" width="2.50" height="2.50" fill="#fff" stroke="#3f78e6" stroke-width="0.6"/>
<rect x="608.39" y="300.70" width="2.50" height="2.50" fill="#fff" stroke="#3f78e6" stroke-width="0.6"/>
<rect x="612.80" y="300.63" width="2.50" height="2.50" fill="#fff" stroke="#3f78e6" stroke-width="0.6"/>
<rect x="617.16" y="300.56" width="2.50" height="2.50" fill="#fff" stroke="#3f78e6" stroke-width="0.6"/>
<rect x="621.25" y="300.48" width="2.50" height="2.50" fill="#fff" stroke="#3f78e6" stroke-width="0.6"/>
<rect x="624.84" y="300.42" width="2.50" height="2.50" fill="#fff" stroke="#3f78e6" stroke-width="0.6"/>
<rect x="627.68" y="300.37" width="2.50" height="2.50" fill="#fff" stroke="#3f78e6" stroke-width="0.6"/>
<rect x="628.75" y="300.35" width="2.50" height="2.50" fill="#fff" stroke="#3f78e6" stroke-width="0.6"/></svg></body></html>
